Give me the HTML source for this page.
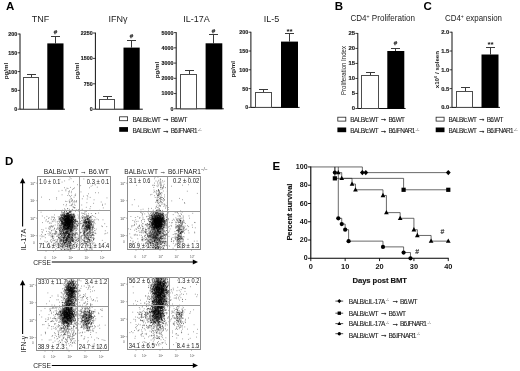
<!DOCTYPE html>
<html lang="en"><head><meta charset="utf-8"><title>Figure</title>
<style>html,body{margin:0;padding:0;background:#fff}svg{display:block;will-change:transform;filter:grayscale(1)}</style></head>
<body>
<svg width="520" height="371" viewBox="0 0 520 371" font-family='"Liberation Sans", Arial, Helvetica, sans-serif' fill="#1c1c1c">
<rect width="520" height="371" fill="#fff"/>
<text x="6.00" y="9.90" font-size="11.5" font-weight="bold" fill="#000">A</text>
<text x="334.80" y="9.80" font-size="11.5" font-weight="bold" fill="#000">B</text>
<text x="423.40" y="9.80" font-size="11.5" font-weight="bold" fill="#000">C</text>
<text x="5.00" y="165.20" font-size="11.5" font-weight="bold" fill="#000">D</text>
<text x="272.60" y="169.80" font-size="11.5" font-weight="bold" fill="#000">E</text>
<path d="M20.00 33.60V109.20H65.00" stroke="#111" stroke-width="1" fill="none"/>
<path d="M17.60 109.20L20.00 109.20" stroke="#111" stroke-width="0.8" fill="none"/>
<text x="17.20" y="111.10" font-size="5.3" text-anchor="end" font-weight="bold" stroke="#1c1c1c" stroke-width="0.15">0</text>
<path d="M17.60 90.40L20.00 90.40" stroke="#111" stroke-width="0.8" fill="none"/>
<text x="17.20" y="92.30" font-size="5.3" text-anchor="end" font-weight="bold" stroke="#1c1c1c" stroke-width="0.15">50</text>
<path d="M17.60 71.60L20.00 71.60" stroke="#111" stroke-width="0.8" fill="none"/>
<text x="17.20" y="73.50" font-size="5.3" text-anchor="end" font-weight="bold" stroke="#1c1c1c" stroke-width="0.15">100</text>
<path d="M17.60 52.80L20.00 52.80" stroke="#111" stroke-width="0.8" fill="none"/>
<text x="17.20" y="54.70" font-size="5.3" text-anchor="end" font-weight="bold" stroke="#1c1c1c" stroke-width="0.15">150</text>
<path d="M17.60 34.00L20.00 34.00" stroke="#111" stroke-width="0.8" fill="none"/>
<text x="17.20" y="35.90" font-size="5.3" text-anchor="end" font-weight="bold" stroke="#1c1c1c" stroke-width="0.15">200</text>
<text x="40.60" y="22.00" font-size="9" text-anchor="middle" fill="#222">TNF</text>
<text x="7.60" y="71.00" font-size="6.2" text-anchor="middle" font-weight="bold" transform="rotate(-90 7.60 71.00)">pg/ml</text>
<path d="M31.50 77.00V74.50M27.00 74.50H36.00" stroke="#3a3a3a" stroke-width="1" fill="none"/>
<rect x="23.50" y="77.50" width="15.00" height="31.70" fill="#fff" stroke="#4d4d4d" stroke-width="1"/>
<path d="M55.50 43.40V36.50M51.00 36.50H60.00" stroke="#3a3a3a" stroke-width="1" fill="none"/>
<rect x="47.30" y="43.40" width="16.20" height="66.20" fill="#000"/>
<text x="55.50" y="33.70" font-size="6.2" text-anchor="middle" fill="#333" stroke="#333" stroke-width="0.25">#</text>
<path d="M95.40 32.60V109.20H142.80" stroke="#111" stroke-width="1" fill="none"/>
<path d="M93.00 109.20L95.40 109.20" stroke="#111" stroke-width="0.8" fill="none"/>
<text x="92.60" y="111.10" font-size="5.3" text-anchor="end" font-weight="bold" stroke="#1c1c1c" stroke-width="0.15">0</text>
<path d="M93.00 83.80L95.40 83.80" stroke="#111" stroke-width="0.8" fill="none"/>
<text x="92.60" y="85.70" font-size="5.3" text-anchor="end" font-weight="bold" stroke="#1c1c1c" stroke-width="0.15">750</text>
<path d="M93.00 58.40L95.40 58.40" stroke="#111" stroke-width="0.8" fill="none"/>
<text x="92.60" y="60.30" font-size="5.3" text-anchor="end" font-weight="bold" stroke="#1c1c1c" stroke-width="0.15">1500</text>
<path d="M93.00 33.00L95.40 33.00" stroke="#111" stroke-width="0.8" fill="none"/>
<text x="92.60" y="34.90" font-size="5.3" text-anchor="end" font-weight="bold" stroke="#1c1c1c" stroke-width="0.15">2250</text>
<text x="117.90" y="22.00" font-size="9" text-anchor="middle" fill="#222">IFN&#947;</text>
<text x="79.20" y="71.00" font-size="6.2" text-anchor="middle" font-weight="bold" transform="rotate(-90 79.20 71.00)">pg/ml</text>
<path d="M107.50 99.30V96.50M103.00 96.50H112.00" stroke="#3a3a3a" stroke-width="1" fill="none"/>
<rect x="99.50" y="99.50" width="15.00" height="9.70" fill="#fff" stroke="#4d4d4d" stroke-width="1"/>
<path d="M131.50 47.60V40.50M127.00 40.50H136.00" stroke="#3a3a3a" stroke-width="1" fill="none"/>
<rect x="123.50" y="47.60" width="16.20" height="62.00" fill="#000"/>
<text x="131.50" y="37.70" font-size="6.2" text-anchor="middle" fill="#333" stroke="#333" stroke-width="0.25">#</text>
<path d="M176.20 32.20V108.80H223.80" stroke="#111" stroke-width="1" fill="none"/>
<path d="M173.80 108.80L176.20 108.80" stroke="#111" stroke-width="0.8" fill="none"/>
<text x="173.40" y="110.70" font-size="5.3" text-anchor="end" font-weight="bold" stroke="#1c1c1c" stroke-width="0.15">0</text>
<path d="M173.80 93.56L176.20 93.56" stroke="#111" stroke-width="0.8" fill="none"/>
<text x="173.40" y="95.46" font-size="5.3" text-anchor="end" font-weight="bold" stroke="#1c1c1c" stroke-width="0.15">1000</text>
<path d="M173.80 78.32L176.20 78.32" stroke="#111" stroke-width="0.8" fill="none"/>
<text x="173.40" y="80.22" font-size="5.3" text-anchor="end" font-weight="bold" stroke="#1c1c1c" stroke-width="0.15">2000</text>
<path d="M173.80 63.08L176.20 63.08" stroke="#111" stroke-width="0.8" fill="none"/>
<text x="173.40" y="64.98" font-size="5.3" text-anchor="end" font-weight="bold" stroke="#1c1c1c" stroke-width="0.15">3000</text>
<path d="M173.80 47.84L176.20 47.84" stroke="#111" stroke-width="0.8" fill="none"/>
<text x="173.40" y="49.74" font-size="5.3" text-anchor="end" font-weight="bold" stroke="#1c1c1c" stroke-width="0.15">4000</text>
<path d="M173.80 32.60L176.20 32.60" stroke="#111" stroke-width="0.8" fill="none"/>
<text x="173.40" y="34.50" font-size="5.3" text-anchor="end" font-weight="bold" stroke="#1c1c1c" stroke-width="0.15">5000</text>
<text x="196.50" y="22.00" font-size="9" text-anchor="middle" fill="#222">IL-17A</text>
<text x="159.20" y="70.00" font-size="6.2" text-anchor="middle" font-weight="bold" transform="rotate(-90 159.20 70.00)">pg/ml</text>
<path d="M189.50 74.00V70.50M185.00 70.50H194.00" stroke="#3a3a3a" stroke-width="1" fill="none"/>
<rect x="180.50" y="74.50" width="16.00" height="34.30" fill="#fff" stroke="#4d4d4d" stroke-width="1"/>
<path d="M213.50 43.30V34.50M209.00 34.50H218.00" stroke="#3a3a3a" stroke-width="1" fill="none"/>
<rect x="205.60" y="43.30" width="16.70" height="65.90" fill="#000"/>
<text x="213.50" y="33.10" font-size="6.2" text-anchor="middle" fill="#333" stroke="#333" stroke-width="0.25">#</text>
<path d="M250.90 31.80V107.40H299.60" stroke="#111" stroke-width="1" fill="none"/>
<path d="M248.50 107.40L250.90 107.40" stroke="#111" stroke-width="0.8" fill="none"/>
<text x="248.10" y="109.30" font-size="5.3" text-anchor="end" font-weight="bold" stroke="#1c1c1c" stroke-width="0.15">0</text>
<path d="M248.50 88.60L250.90 88.60" stroke="#111" stroke-width="0.8" fill="none"/>
<text x="248.10" y="90.50" font-size="5.3" text-anchor="end" font-weight="bold" stroke="#1c1c1c" stroke-width="0.15">50</text>
<path d="M248.50 69.80L250.90 69.80" stroke="#111" stroke-width="0.8" fill="none"/>
<text x="248.10" y="71.70" font-size="5.3" text-anchor="end" font-weight="bold" stroke="#1c1c1c" stroke-width="0.15">100</text>
<path d="M248.50 51.00L250.90 51.00" stroke="#111" stroke-width="0.8" fill="none"/>
<text x="248.10" y="52.90" font-size="5.3" text-anchor="end" font-weight="bold" stroke="#1c1c1c" stroke-width="0.15">150</text>
<path d="M248.50 32.20L250.90 32.20" stroke="#111" stroke-width="0.8" fill="none"/>
<text x="248.10" y="34.10" font-size="5.3" text-anchor="end" font-weight="bold" stroke="#1c1c1c" stroke-width="0.15">200</text>
<text x="271.50" y="22.40" font-size="9" text-anchor="middle" fill="#222">IL-5</text>
<text x="234.60" y="69.30" font-size="6.2" text-anchor="middle" font-weight="bold" transform="rotate(-90 234.60 69.30)">pg/ml</text>
<path d="M263.50 92.00V89.50M259.00 89.50H268.00" stroke="#3a3a3a" stroke-width="1" fill="none"/>
<rect x="255.50" y="92.50" width="16.00" height="14.90" fill="#fff" stroke="#4d4d4d" stroke-width="1"/>
<path d="M289.50 41.60V33.50M285.00 33.50H294.00" stroke="#3a3a3a" stroke-width="1" fill="none"/>
<rect x="281.00" y="41.60" width="17.00" height="66.20" fill="#000"/>
<text x="289.50" y="33.50" font-size="8" text-anchor="middle" font-weight="bold" fill="#111">**</text>
<rect x="119.60" y="116.80" width="8.0" height="3.9" fill="#fff" stroke="#222" stroke-width="0.8"/>
<rect x="119.20" y="127.10" width="8.8" height="4.7" fill="#000"/>
<text x="132.60" y="121.60" font-size="6.4" textLength="28.40" lengthAdjust="spacing" fill="#1e1e1e" stroke="#1e1e1e" stroke-width="0.12">BALB/c.WT</text>
<text x="165.90" y="121.00" font-size="7.6" fill="#1e1e1e" stroke="#1e1e1e" stroke-width="0.25" text-anchor="middle">&#8594;</text>
<text x="170.70" y="121.60" font-size="6.4" textLength="16.60" lengthAdjust="spacing" fill="#1e1e1e" stroke="#1e1e1e" stroke-width="0.12">B6.WT</text>
<text x="132.60" y="133.30" font-size="6.4" textLength="28.40" lengthAdjust="spacing" fill="#1e1e1e" stroke="#1e1e1e" stroke-width="0.12">BALB/c.WT</text>
<text x="165.90" y="132.70" font-size="7.6" fill="#1e1e1e" stroke="#1e1e1e" stroke-width="0.25" text-anchor="middle">&#8594;</text>
<text x="170.70" y="133.30" font-size="6.4" textLength="26.80" lengthAdjust="spacing" fill="#1e1e1e" stroke="#1e1e1e" stroke-width="0.12">B6.IFNAR1</text>
<text x="197.80" y="130.80" font-size="4.2" fill="#555">-/-</text>
<path d="M357.80 33.00V108.50H405.60" stroke="#111" stroke-width="1" fill="none"/>
<path d="M355.40 108.50L357.80 108.50" stroke="#111" stroke-width="0.8" fill="none"/>
<text x="355.00" y="110.40" font-size="5.9" text-anchor="end" font-weight="bold" stroke="#1c1c1c" stroke-width="0.15">0</text>
<path d="M355.40 93.48L357.80 93.48" stroke="#111" stroke-width="0.8" fill="none"/>
<text x="355.00" y="95.38" font-size="5.9" text-anchor="end" font-weight="bold" stroke="#1c1c1c" stroke-width="0.15">5</text>
<path d="M355.40 78.46L357.80 78.46" stroke="#111" stroke-width="0.8" fill="none"/>
<text x="355.00" y="80.36" font-size="5.9" text-anchor="end" font-weight="bold" stroke="#1c1c1c" stroke-width="0.15">10</text>
<path d="M355.40 63.44L357.80 63.44" stroke="#111" stroke-width="0.8" fill="none"/>
<text x="355.00" y="65.34" font-size="5.9" text-anchor="end" font-weight="bold" stroke="#1c1c1c" stroke-width="0.15">15</text>
<path d="M355.40 48.42L357.80 48.42" stroke="#111" stroke-width="0.8" fill="none"/>
<text x="355.00" y="50.32" font-size="5.9" text-anchor="end" font-weight="bold" stroke="#1c1c1c" stroke-width="0.15">20</text>
<path d="M355.40 33.40L357.80 33.40" stroke="#111" stroke-width="0.8" fill="none"/>
<text x="355.00" y="35.30" font-size="5.9" text-anchor="end" font-weight="bold" stroke="#1c1c1c" stroke-width="0.15">25</text>
<text x="382.70" y="21.00" font-size="8.7" text-anchor="middle" textLength="64.50" lengthAdjust="spacingAndGlyphs" fill="#222">CD4<tspan font-size="5.5" dy="-2.6">+</tspan><tspan dy="2.6"> Proliferation</tspan></text>
<text x="346.00" y="70.50" font-size="6.4" text-anchor="middle" textLength="49.00" lengthAdjust="spacingAndGlyphs" transform="rotate(-90 346.00 70.50)">Proliferation Index</text>
<path d="M370.50 75.00V72.50M366.00 72.50H375.00" stroke="#3a3a3a" stroke-width="1" fill="none"/>
<rect x="361.50" y="75.50" width="17.00" height="33.00" fill="#fff" stroke="#4d4d4d" stroke-width="1"/>
<path d="M395.50 51.00V48.50M391.00 48.50H400.00" stroke="#3a3a3a" stroke-width="1" fill="none"/>
<rect x="387.30" y="51.00" width="17.00" height="57.90" fill="#000"/>
<text x="395.50" y="44.50" font-size="6.2" text-anchor="middle" fill="#333" stroke="#333" stroke-width="0.25">#</text>
<rect x="337.80" y="117.20" width="8.0" height="3.9" fill="#fff" stroke="#222" stroke-width="0.8"/>
<rect x="337.40" y="127.50" width="8.8" height="4.7" fill="#000"/>
<text x="350.30" y="121.60" font-size="6.4" textLength="28.40" lengthAdjust="spacing" fill="#1e1e1e" stroke="#1e1e1e" stroke-width="0.12">BALB/c.WT</text>
<text x="383.60" y="121.00" font-size="7.6" fill="#1e1e1e" stroke="#1e1e1e" stroke-width="0.25" text-anchor="middle">&#8594;</text>
<text x="388.40" y="121.60" font-size="6.4" textLength="16.60" lengthAdjust="spacing" fill="#1e1e1e" stroke="#1e1e1e" stroke-width="0.12">B6.WT</text>
<text x="350.30" y="133.30" font-size="6.4" textLength="28.40" lengthAdjust="spacing" fill="#1e1e1e" stroke="#1e1e1e" stroke-width="0.12">BALB/c.WT</text>
<text x="383.60" y="132.70" font-size="7.6" fill="#1e1e1e" stroke="#1e1e1e" stroke-width="0.25" text-anchor="middle">&#8594;</text>
<text x="388.40" y="133.30" font-size="6.4" textLength="26.80" lengthAdjust="spacing" fill="#1e1e1e" stroke="#1e1e1e" stroke-width="0.12">B6.IFNAR1</text>
<text x="415.50" y="130.80" font-size="4.2" fill="#555">-/-</text>
<path d="M452.00 31.80V107.40H500.00" stroke="#111" stroke-width="1" fill="none"/>
<path d="M449.60 107.40L452.00 107.40" stroke="#111" stroke-width="0.8" fill="none"/>
<text x="449.20" y="109.30" font-size="5.8" text-anchor="end" font-weight="bold" stroke="#1c1c1c" stroke-width="0.15">0.0</text>
<path d="M449.60 88.60L452.00 88.60" stroke="#111" stroke-width="0.8" fill="none"/>
<text x="449.20" y="90.50" font-size="5.8" text-anchor="end" font-weight="bold" stroke="#1c1c1c" stroke-width="0.15">0.5</text>
<path d="M449.60 69.80L452.00 69.80" stroke="#111" stroke-width="0.8" fill="none"/>
<text x="449.20" y="71.70" font-size="5.8" text-anchor="end" font-weight="bold" stroke="#1c1c1c" stroke-width="0.15">1.0</text>
<path d="M449.60 51.00L452.00 51.00" stroke="#111" stroke-width="0.8" fill="none"/>
<text x="449.20" y="52.90" font-size="5.8" text-anchor="end" font-weight="bold" stroke="#1c1c1c" stroke-width="0.15">1.5</text>
<path d="M449.60 32.20L452.00 32.20" stroke="#111" stroke-width="0.8" fill="none"/>
<text x="449.20" y="34.10" font-size="5.8" text-anchor="end" font-weight="bold" stroke="#1c1c1c" stroke-width="0.15">2.0</text>
<text x="473.50" y="21.00" font-size="8.7" text-anchor="middle" textLength="57.00" lengthAdjust="spacingAndGlyphs" fill="#222">CD4<tspan font-size="5.5" dy="-2.6">+</tspan><tspan dy="2.6"> expansion</tspan></text>
<text x="439.30" y="69.60" font-size="6.2" text-anchor="middle" font-weight="bold" textLength="37.40" lengthAdjust="spacingAndGlyphs" transform="rotate(-90 439.30 69.60)">x10<tspan font-size="4" dy="-2.4">6</tspan><tspan dy="2.4"> / spleen</tspan></text>
<path d="M465.50 91.00V87.50M461.00 87.50H470.00" stroke="#3a3a3a" stroke-width="1" fill="none"/>
<rect x="456.50" y="91.50" width="16.00" height="15.90" fill="#fff" stroke="#4d4d4d" stroke-width="1"/>
<path d="M490.50 54.50V47.50M486.00 47.50H495.00" stroke="#3a3a3a" stroke-width="1" fill="none"/>
<rect x="481.50" y="54.50" width="17.00" height="53.30" fill="#000"/>
<text x="490.50" y="47.10" font-size="8" text-anchor="middle" font-weight="bold" fill="#111">**</text>
<rect x="436.10" y="117.20" width="8.0" height="3.9" fill="#fff" stroke="#222" stroke-width="0.8"/>
<rect x="435.70" y="127.50" width="8.8" height="4.7" fill="#000"/>
<text x="448.60" y="121.60" font-size="6.4" textLength="28.40" lengthAdjust="spacing" fill="#1e1e1e" stroke="#1e1e1e" stroke-width="0.12">BALB/c.WT</text>
<text x="481.90" y="121.00" font-size="7.6" fill="#1e1e1e" stroke="#1e1e1e" stroke-width="0.25" text-anchor="middle">&#8594;</text>
<text x="486.70" y="121.60" font-size="6.4" textLength="16.60" lengthAdjust="spacing" fill="#1e1e1e" stroke="#1e1e1e" stroke-width="0.12">B6.WT</text>
<text x="448.60" y="133.30" font-size="6.4" textLength="28.40" lengthAdjust="spacing" fill="#1e1e1e" stroke="#1e1e1e" stroke-width="0.12">BALB/c.WT</text>
<text x="481.90" y="132.70" font-size="7.6" fill="#1e1e1e" stroke="#1e1e1e" stroke-width="0.25" text-anchor="middle">&#8594;</text>
<text x="486.70" y="133.30" font-size="6.4" textLength="26.80" lengthAdjust="spacing" fill="#1e1e1e" stroke="#1e1e1e" stroke-width="0.12">B6.IFNAR1</text>
<text x="513.80" y="130.80" font-size="4.2" fill="#555">-/-</text>
<defs><radialGradient id="bg"><stop offset="0" stop-color="#000" stop-opacity="0.42"/><stop offset="0.5" stop-color="#000" stop-opacity="0.22"/><stop offset="1" stop-color="#000" stop-opacity="0"/></radialGradient></defs>
<clipPath id="c37_176"><rect x="37.50" y="176.50" width="73.00" height="74.00"/></clipPath>
<g clip-path="url(#c37_176)">
<ellipse cx="68.3" cy="222" rx="9" ry="11" fill="url(#bg)" opacity="1.0"/>
<ellipse cx="67" cy="238" rx="9" ry="13" fill="url(#bg)" opacity="0.45"/>
<ellipse cx="87.6" cy="224" rx="6" ry="8" fill="url(#bg)" opacity="0.45"/>
<path d="M68.0 215.2h.75M69.2 222.5h.75M66.9 219.1h.75M64.5 219.8h.75M66.2 213.5h.75M64.1 217.4h.75M68.2 221.4h.75M73.2 225.6h.75M66.1 226.1h.75M65.6 221.1h.75M69.9 220.6h.75M69.4 217.7h.75M68.4 223.4h.75M64.4 220.4h.75M67.9 224.3h.75M70.7 229.6h.75M62.8 221.4h.75M66.2 214.6h.75M60.6 217.5h.75M63.0 214.8h.75M60.8 216.0h.75M67.1 227.5h.75M63.1 222.5h.75M69.1 214.5h.75M68.6 224.5h.75M67.3 227.3h.75M58.2 219.8h.75M65.9 218.4h.75M67.8 219.9h.75M68.4 222.8h.75M62.0 224.4h.75M66.1 226.9h.75M64.2 227.1h.75M64.8 227.0h.75M72.1 227.8h.75M64.9 224.5h.75M67.9 214.5h.75M71.4 220.9h.75M65.7 222.9h.75M67.6 219.7h.75M68.4 225.7h.75M68.2 219.8h.75M63.2 217.2h.75M68.3 228.1h.75M73.3 224.6h.75M62.0 222.5h.75M71.4 225.8h.75M68.5 226.4h.75M65.5 223.1h.75M75.8 210.2h.75M71.0 218.4h.75M63.3 219.4h.75M68.3 217.0h.75M70.2 222.4h.75M67.3 227.0h.75M70.7 219.3h.75M67.7 216.3h.75M70.6 230.8h.75M73.6 219.4h.75M65.4 215.8h.75M68.8 222.6h.75M66.2 223.5h.75M68.5 218.3h.75M63.4 225.1h.75M65.7 219.3h.75M67.2 217.3h.75M71.5 222.3h.75M72.5 225.0h.75M62.8 218.6h.75M64.9 223.0h.75M70.5 221.1h.75M60.2 234.5h.75M66.2 218.2h.75M67.6 227.9h.75M72.9 221.3h.75M70.7 220.9h.75M66.7 224.8h.75M66.6 225.6h.75M67.0 227.3h.75M73.9 223.0h.75M66.3 218.7h.75M66.8 219.0h.75M69.4 223.8h.75M67.5 224.2h.75M67.2 227.9h.75M63.7 223.4h.75M68.0 226.4h.75M66.3 228.5h.75M72.5 222.3h.75M70.5 214.7h.75M67.9 216.1h.75M70.6 214.9h.75M66.7 228.8h.75M72.1 217.6h.75M68.0 227.2h.75M70.3 224.2h.75M63.0 229.4h.75M69.4 226.1h.75M61.4 221.0h.75M60.1 220.6h.75M66.8 221.9h.75M64.5 222.3h.75M68.6 219.1h.75M76.8 221.3h.75M64.8 228.9h.75M65.6 213.7h.75M68.8 222.7h.75M69.9 217.3h.75M67.3 222.4h.75M67.2 225.4h.75M70.7 221.2h.75M70.0 225.1h.75M64.0 214.2h.75M67.7 226.6h.75M68.1 218.7h.75M63.9 224.4h.75M69.0 222.3h.75M64.7 209.6h.75M71.8 218.0h.75M68.8 222.5h.75M68.3 228.6h.75M65.7 222.8h.75M67.5 222.7h.75M60.2 215.0h.75M63.6 228.1h.75M69.4 229.8h.75M59.7 221.6h.75M71.3 220.5h.75M61.2 214.1h.75M71.0 225.6h.75M64.7 233.9h.75M71.0 224.8h.75M68.5 227.3h.75M62.0 224.0h.75M72.9 217.0h.75M73.6 227.6h.75M67.7 215.8h.75M66.9 220.5h.75M67.4 222.8h.75M64.2 225.6h.75M72.3 223.4h.75M65.9 223.3h.75M67.8 218.0h.75M64.9 215.6h.75M65.6 221.8h.75M63.0 218.2h.75M72.9 215.5h.75M67.4 215.7h.75M71.8 219.2h.75M68.1 213.0h.75M65.3 215.3h.75M66.7 214.0h.75M65.8 222.3h.75M68.0 223.4h.75M66.5 230.7h.75M66.8 214.6h.75M62.6 218.4h.75M64.9 225.7h.75M74.5 220.5h.75M65.4 220.0h.75M63.9 229.4h.75M69.3 219.9h.75M73.5 216.2h.75M62.3 215.4h.75M67.2 223.0h.75M65.5 222.9h.75M61.1 215.2h.75M70.9 217.0h.75M67.9 224.0h.75M68.3 224.2h.75M65.1 218.5h.75M69.8 224.4h.75M65.9 224.1h.75M67.4 213.3h.75M63.7 220.1h.75M63.3 223.4h.75M73.2 218.9h.75M66.0 211.7h.75M69.1 220.2h.75M67.9 225.0h.75M66.3 228.8h.75M66.0 211.4h.75M70.5 233.5h.75M66.8 216.3h.75M67.4 225.9h.75M68.1 227.2h.75M72.6 226.0h.75M70.7 222.2h.75M69.5 216.2h.75M65.8 224.4h.75M62.6 218.2h.75M71.7 209.9h.75M71.8 234.5h.75M67.5 224.8h.75M70.1 229.9h.75M71.0 217.3h.75M71.2 228.3h.75M71.6 228.8h.75M66.2 228.7h.75M73.9 221.4h.75M63.1 216.0h.75M71.4 220.7h.75M69.9 211.4h.75M71.4 213.7h.75M75.3 221.9h.75M73.8 216.9h.75M63.5 220.7h.75M61.4 221.0h.75M71.2 230.4h.75M64.0 227.5h.75M68.0 221.3h.75M71.3 227.1h.75M61.6 217.9h.75M59.8 220.0h.75M69.0 225.7h.75M68.2 215.8h.75M67.0 220.2h.75M68.2 215.4h.75M64.6 222.0h.75M62.1 229.0h.75M67.4 218.0h.75M64.2 222.5h.75M61.6 217.4h.75M70.0 216.2h.75M67.8 215.8h.75M69.6 228.2h.75M64.1 232.4h.75M65.4 223.7h.75M64.1 218.2h.75M64.5 224.7h.75M68.8 220.0h.75M64.9 225.2h.75M69.4 222.8h.75M69.3 222.8h.75M75.9 224.3h.75M62.6 218.8h.75M71.5 219.6h.75M67.7 213.6h.75M67.9 219.5h.75M62.3 215.0h.75M66.2 220.8h.75M70.9 217.1h.75M67.7 222.0h.75M68.3 223.6h.75M66.9 215.0h.75M72.5 217.8h.75M67.9 217.2h.75M59.4 224.9h.75M65.3 229.3h.75M60.3 225.4h.75M55.3 219.9h.75M65.9 228.2h.75M73.2 214.5h.75M68.2 228.4h.75M63.4 218.5h.75M64.3 208.7h.75M72.4 233.7h.75M68.6 228.8h.75M68.2 216.8h.75M67.8 222.3h.75M68.1 220.5h.75M71.1 222.0h.75M70.2 214.7h.75M68.8 218.4h.75M63.9 223.7h.75M70.0 222.5h.75M65.3 227.0h.75M72.3 221.9h.75M63.0 232.3h.75M67.5 218.2h.75M68.0 222.7h.75M62.8 212.7h.75M74.7 215.7h.75M73.7 227.6h.75M66.2 217.2h.75M71.0 223.9h.75M69.5 221.2h.75M57.8 216.7h.75M69.0 219.9h.75M67.8 219.1h.75M68.3 219.3h.75M63.8 225.0h.75M66.9 224.5h.75M67.3 218.8h.75M72.6 217.3h.75M69.3 222.8h.75M68.0 221.0h.75M74.0 226.2h.75M65.8 233.7h.75M66.5 225.4h.75M60.9 221.3h.75M74.1 220.7h.75M71.8 217.6h.75M71.6 217.3h.75M70.6 216.9h.75M68.4 219.7h.75M68.8 219.5h.75M67.0 224.9h.75M67.2 219.7h.75M68.2 220.6h.75M73.9 215.9h.75M70.2 229.1h.75M67.8 223.8h.75M65.7 229.7h.75M65.5 225.2h.75M74.3 228.4h.75M70.0 220.4h.75M68.3 224.8h.75M66.6 233.9h.75M63.7 215.9h.75M67.7 226.9h.75M71.4 229.3h.75M66.5 223.4h.75M67.1 225.0h.75M67.1 227.4h.75M68.4 218.4h.75M61.8 223.4h.75M67.1 217.4h.75M64.7 218.3h.75M71.4 218.6h.75M65.0 220.8h.75M70.3 222.2h.75M73.9 223.6h.75M66.8 214.8h.75M65.7 230.8h.75M68.7 226.9h.75M68.0 224.9h.75M64.1 219.8h.75M69.8 221.1h.75M75.9 224.1h.75M67.0 223.4h.75M67.2 213.6h.75M63.9 225.0h.75M69.2 235.2h.75M63.1 212.8h.75M63.7 226.2h.75M73.0 223.2h.75M64.5 221.0h.75M72.2 228.0h.75M73.9 215.9h.75M69.0 222.3h.75M70.2 228.4h.75M75.6 220.6h.75M67.2 219.5h.75M65.7 222.0h.75M62.7 219.4h.75M68.2 228.8h.75M73.8 217.2h.75M71.7 225.6h.75M64.3 215.6h.75M64.7 224.7h.75M66.0 221.0h.75M69.1 209.3h.75M67.2 221.5h.75M68.8 216.5h.75M69.2 219.4h.75M66.8 228.8h.75M67.8 216.2h.75M68.8 216.5h.75M67.7 228.3h.75M70.0 222.0h.75M75.3 228.8h.75M70.3 223.0h.75M68.2 217.3h.75M61.4 221.2h.75M69.5 227.3h.75M60.4 226.0h.75M62.5 221.5h.75M71.3 221.7h.75M70.8 221.0h.75M67.4 218.8h.75M61.3 230.6h.75M66.6 221.5h.75M65.4 216.2h.75M70.5 219.2h.75M76.8 224.9h.75M68.8 224.5h.75M65.0 220.9h.75M63.4 218.3h.75M67.8 221.6h.75M67.3 213.6h.75M63.5 215.3h.75M68.5 225.3h.75M63.5 219.2h.75M72.3 223.3h.75M72.1 227.3h.75M72.2 224.6h.75M66.2 221.6h.75M70.0 231.6h.75M67.5 224.7h.75M66.5 219.8h.75M66.7 225.0h.75M62.9 223.4h.75M62.4 217.5h.75M71.1 221.8h.75M67.3 220.7h.75M68.8 212.2h.75M71.9 220.7h.75M61.2 220.2h.75M64.9 219.4h.75M68.7 213.7h.75M69.5 219.8h.75M66.5 221.3h.75M72.0 222.0h.75M68.8 216.1h.75M63.3 224.5h.75M64.4 215.8h.75M71.1 220.4h.75M69.8 227.7h.75M60.6 218.2h.75M73.3 219.1h.75M70.3 226.6h.75M73.2 219.7h.75M66.5 220.1h.75M66.8 222.5h.75M63.6 226.5h.75M77.9 211.1h.75M67.3 217.6h.75M74.2 216.7h.75M65.5 216.4h.75M68.6 217.5h.75M61.5 217.5h.75M66.5 222.9h.75M71.8 217.3h.75M63.1 222.1h.75M72.2 223.4h.75M69.3 218.1h.75M63.9 222.1h.75M66.0 229.2h.75M66.2 223.0h.75M67.8 218.5h.75M65.9 221.2h.75M64.8 217.2h.75M66.8 222.8h.75M64.0 225.6h.75M63.0 217.6h.75M67.8 220.5h.75M71.4 226.7h.75M62.0 219.2h.75M68.0 222.4h.75M65.5 216.7h.75M64.2 217.7h.75M71.3 219.1h.75M66.0 231.5h.75M73.8 219.6h.75M65.0 219.1h.75M69.5 218.9h.75M67.1 220.7h.75M65.1 224.5h.75M70.3 222.4h.75M67.4 231.0h.75M70.4 222.5h.75M67.8 228.2h.75M63.8 222.8h.75M67.6 224.3h.75M68.2 214.9h.75M71.7 220.9h.75M64.5 221.2h.75M67.8 220.4h.75M61.3 211.6h.75M70.5 225.6h.75M63.8 219.7h.75M61.0 219.5h.75M67.8 220.3h.75M72.3 220.5h.75M62.1 223.4h.75M63.8 215.7h.75M65.1 217.2h.75M63.6 222.8h.75M69.5 222.2h.75M64.9 219.8h.75M65.2 218.9h.75M70.3 217.7h.75M65.1 221.2h.75M69.7 226.9h.75M64.2 216.6h.75M63.3 228.5h.75M60.8 225.4h.75M75.3 219.4h.75M66.8 225.1h.75M69.0 214.8h.75M67.9 213.5h.75M68.6 215.6h.75M68.2 219.6h.75M75.4 220.0h.75M63.9 219.1h.75M61.9 222.0h.75M64.1 211.7h.75M62.8 223.8h.75M70.9 215.0h.75M71.2 218.5h.75M64.3 219.6h.75M62.6 216.2h.75M66.6 215.2h.75M73.4 216.9h.75M57.0 221.4h.75M70.1 224.2h.75M63.8 224.1h.75M72.1 216.9h.75M63.8 217.9h.75M66.9 217.3h.75M62.1 223.6h.75M64.2 212.1h.75M73.4 227.2h.75M71.2 219.3h.75M66.4 217.9h.75M64.6 223.1h.75M60.6 226.3h.75M66.5 223.1h.75M67.9 226.3h.75M67.7 222.1h.75M67.6 227.2h.75M63.6 227.2h.75M67.7 221.0h.75M67.8 228.1h.75M73.0 222.3h.75M75.3 221.9h.75M67.5 217.3h.75M65.0 220.2h.75M67.7 225.1h.75M65.6 215.5h.75M65.1 224.5h.75M67.8 223.1h.75M63.9 222.8h.75M70.4 211.4h.75M67.6 221.0h.75M69.0 224.5h.75M67.3 218.0h.75M65.2 221.9h.75M64.3 210.6h.75M67.1 224.6h.75M65.9 218.5h.75M68.9 225.5h.75M68.0 213.0h.75M62.7 224.7h.75M68.3 220.4h.75M62.8 225.2h.75M65.6 217.2h.75M66.9 218.7h.75M59.9 231.8h.75M68.4 217.7h.75M68.6 218.3h.75M67.4 220.2h.75M66.3 216.8h.75M66.5 227.0h.75M64.2 229.4h.75M66.9 218.3h.75M65.8 213.6h.75M68.4 226.9h.75M63.3 226.6h.75M68.9 225.3h.75M68.6 226.8h.75M67.4 217.5h.75M66.3 220.7h.75M70.2 215.1h.75M61.5 215.0h.75M69.8 226.0h.75M68.9 218.4h.75M69.1 232.0h.75M69.5 221.8h.75M65.5 218.6h.75M67.0 225.2h.75M70.5 229.8h.75M69.7 223.7h.75M68.8 215.9h.75M62.1 223.2h.75M70.1 227.8h.75M72.6 219.2h.75M71.9 217.9h.75M68.9 226.2h.75M61.9 222.1h.75M71.7 216.4h.75M67.4 219.8h.75M58.1 218.0h.75M69.5 222.9h.75M62.2 222.0h.75M62.9 226.8h.75M65.5 224.8h.75M73.0 214.3h.75M66.6 223.4h.75M69.1 225.6h.75M74.8 223.6h.75M74.2 226.2h.75M67.6 219.0h.75M67.1 217.1h.75M63.1 225.8h.75M65.3 216.6h.75M69.7 211.6h.75M69.5 226.2h.75M68.4 218.2h.75M71.9 220.1h.75M65.0 215.1h.75M67.8 215.4h.75M70.9 216.2h.75M70.3 219.8h.75M72.2 223.2h.75M69.5 210.9h.75M66.8 225.0h.75M69.4 216.1h.75M64.1 216.6h.75M61.6 224.6h.75M70.3 221.2h.75M67.8 214.4h.75M69.2 230.0h.75M61.4 217.5h.75M66.6 222.6h.75M65.7 222.4h.75M64.6 228.0h.75M59.2 219.4h.75M66.7 226.1h.75M71.5 218.1h.75M69.5 226.7h.75M65.7 218.0h.75M67.9 219.8h.75M71.0 230.2h.75M57.2 223.0h.75M67.5 222.0h.75M70.1 231.8h.75M70.7 223.2h.75M74.6 217.7h.75M72.4 224.9h.75M69.2 216.1h.75M69.2 226.7h.75M71.1 227.0h.75M65.9 218.9h.75M67.8 218.6h.75M71.5 222.3h.75M75.6 221.6h.75M67.4 217.0h.75M67.8 224.1h.75M68.8 212.1h.75M73.2 219.5h.75M67.9 219.6h.75M73.7 220.2h.75M64.2 222.9h.75M67.3 215.9h.75M67.2 224.2h.75M71.1 220.7h.75M72.1 218.5h.75M62.1 215.2h.75M64.4 216.1h.75M69.3 223.2h.75M65.4 217.1h.75M62.1 221.8h.75M72.1 226.4h.75M69.9 226.3h.75M69.9 228.7h.75M66.1 220.1h.75M72.0 216.5h.75M67.1 226.2h.75M72.3 222.9h.75M64.4 226.7h.75M64.7 221.6h.75M68.8 227.0h.75M65.3 225.4h.75M70.6 224.8h.75M69.0 223.8h.75M64.4 223.3h.75M68.3 222.6h.75M66.6 222.5h.75M71.6 226.1h.75M65.5 219.1h.75M66.3 229.5h.75M72.7 221.0h.75M76.7 226.0h.75M75.8 221.1h.75M68.2 220.4h.75M68.9 230.8h.75M74.0 220.1h.75M67.5 215.6h.75M64.2 218.2h.75M68.5 220.0h.75M69.8 231.4h.75M64.8 222.5h.75M61.6 225.8h.75M62.4 216.9h.75M70.6 223.1h.75M65.0 224.6h.75M67.4 229.8h.75M68.8 218.3h.75M70.4 224.3h.75M66.7 222.9h.75M69.9 216.8h.75M64.5 221.4h.75M66.6 220.3h.75M64.0 210.8h.75M72.4 224.3h.75M67.9 224.0h.75M65.1 219.5h.75M66.6 215.3h.75M67.1 228.3h.75M70.7 222.7h.75M61.8 226.2h.75M64.0 228.0h.75M66.5 219.1h.75M77.9 225.2h.75M71.7 220.4h.75M67.6 221.2h.75M70.8 221.1h.75M76.0 221.5h.75M67.1 226.6h.75M66.6 222.1h.75M72.7 220.8h.75M69.9 220.2h.75M70.6 223.1h.75M66.0 217.4h.75M75.5 219.2h.75M74.7 221.3h.75M70.2 218.9h.75M70.7 221.0h.75M60.1 218.7h.75M70.5 230.7h.75M67.2 227.6h.75M69.7 223.6h.75M70.7 221.3h.75M66.7 231.6h.75M61.4 223.0h.75M69.4 221.1h.75M65.1 222.9h.75M66.7 222.9h.75M65.6 228.0h.75M66.7 221.4h.75M59.0 231.2h.75M72.7 217.4h.75M69.0 224.7h.75M72.3 216.9h.75M75.7 229.9h.75M68.1 220.0h.75M61.0 221.2h.75M64.5 225.8h.75M63.3 227.3h.75M66.0 216.4h.75M68.3 219.9h.75M60.2 215.1h.75M69.3 222.1h.75M62.1 221.0h.75M69.2 219.9h.75M67.6 218.4h.75M66.8 219.7h.75M67.7 218.1h.75M65.9 223.9h.75M65.6 228.5h.75M61.4 212.6h.75M67.9 221.0h.75M75.2 219.6h.75M75.7 223.8h.75M73.2 217.1h.75M70.8 220.8h.75M65.4 216.7h.75M73.6 224.7h.75M67.8 222.0h.75M67.7 220.8h.75M66.9 223.2h.75M68.4 220.4h.75M66.3 214.4h.75M67.7 224.2h.75M63.8 222.8h.75M66.5 220.8h.75M76.9 226.0h.75M67.7 227.1h.75M67.1 216.5h.75M70.1 217.9h.75M70.8 228.6h.75M63.7 228.0h.75M67.2 218.1h.75M71.6 216.1h.75M69.1 218.6h.75M68.5 219.2h.75M74.1 214.2h.75M65.4 221.6h.75M68.3 215.6h.75M66.0 215.9h.75M73.8 225.7h.75M60.4 218.4h.75M65.4 221.2h.75M65.9 224.4h.75M70.6 225.2h.75M70.4 219.9h.75M73.4 221.7h.75M61.9 217.7h.75M70.9 229.5h.75M66.9 224.5h.75M65.4 216.4h.75M70.1 221.5h.75M64.4 224.8h.75M59.9 223.7h.75M66.6 229.9h.75M62.2 227.8h.75M65.5 219.0h.75M69.4 221.1h.75M69.2 215.6h.75M74.2 222.6h.75M67.2 222.2h.75M62.0 233.9h.75M65.1 221.9h.75M64.4 211.9h.75M63.3 218.4h.75M69.7 222.0h.75M65.5 215.7h.75M60.3 217.5h.75M70.7 219.8h.75M67.6 223.1h.75M69.4 220.7h.75M68.4 217.4h.75M70.5 225.1h.75M68.1 219.0h.75M72.8 219.2h.75M69.7 215.2h.75M69.5 217.9h.75M69.6 224.5h.75M62.3 214.1h.75M67.4 221.2h.75M67.0 224.8h.75M68.8 219.8h.75M62.7 222.6h.75M74.4 216.4h.75M68.4 227.5h.75M63.3 226.6h.75M61.3 222.6h.75M66.9 213.4h.75M67.7 216.7h.75M65.2 226.0h.75M68.4 229.4h.75M65.5 222.9h.75M70.2 227.2h.75M65.2 218.7h.75M67.8 220.6h.75M71.8 221.5h.75M78.0 223.4h.75M64.1 214.5h.75M66.2 225.8h.75M64.7 227.6h.75M71.1 216.2h.75M63.5 215.3h.75M66.1 223.1h.75M67.9 218.5h.75M64.2 210.6h.75M64.3 225.2h.75M66.1 222.2h.75M59.8 219.3h.75M62.4 231.2h.75M66.4 222.1h.75M68.6 218.0h.75M67.3 222.0h.75M61.1 216.7h.75M66.2 218.0h.75M71.1 223.3h.75M70.2 219.0h.75M67.7 219.4h.75M64.5 229.2h.75M70.5 225.5h.75M65.7 225.2h.75M63.4 223.9h.75M64.9 223.7h.75M73.6 228.2h.75M68.9 221.4h.75M72.5 230.0h.75M66.1 217.1h.75M71.7 220.3h.75M65.7 215.2h.75M67.4 219.9h.75M77.7 223.9h.75M71.0 228.2h.75M66.0 218.4h.75M67.7 221.5h.75M69.3 219.8h.75M72.7 218.1h.75M66.1 216.0h.75M61.2 221.8h.75M66.9 213.5h.75M68.1 222.0h.75M68.4 221.6h.75M73.1 218.5h.75M69.2 216.8h.75M71.2 215.1h.75M63.7 230.1h.75M71.4 215.3h.75M76.2 228.7h.75M71.0 224.3h.75M69.0 219.8h.75M68.6 216.2h.75M75.0 226.3h.75M64.4 229.5h.75M67.6 217.2h.75M69.8 220.1h.75M70.9 226.3h.75M66.3 223.0h.75M69.2 230.7h.75M66.9 218.9h.75M68.5 224.0h.75M67.5 215.7h.75M63.5 231.1h.75M67.9 218.1h.75M71.4 211.3h.75M64.2 220.9h.75M67.1 220.9h.75M70.6 230.3h.75M63.8 219.9h.75M68.7 221.4h.75M63.9 224.2h.75M72.4 228.8h.75M77.0 221.2h.75M75.9 226.3h.75M67.1 223.9h.75M70.9 220.1h.75M68.5 221.9h.75M68.4 221.6h.75M74.0 217.3h.75M62.9 227.1h.75M72.1 215.1h.75M67.8 226.9h.75M73.5 225.9h.75M68.7 221.1h.75M65.4 218.0h.75M69.1 220.5h.75M70.9 223.7h.75M68.1 224.9h.75M69.9 222.8h.75M66.0 226.1h.75M59.7 218.9h.75M71.5 222.6h.75M70.7 214.3h.75M68.6 225.0h.75M68.3 222.2h.75M72.0 219.6h.75M66.2 226.8h.75M65.2 224.7h.75M67.3 208.5h.75M72.6 221.7h.75M62.6 214.8h.75M72.6 226.4h.75M65.5 232.9h.75M63.7 219.1h.75M72.9 221.8h.75M67.6 220.3h.75M62.9 223.1h.75M66.6 224.5h.75M71.6 227.4h.75M72.6 217.0h.75M66.3 228.7h.75M69.6 217.2h.75M70.8 222.8h.75M65.5 226.8h.75M69.4 224.8h.75M67.9 217.2h.75M65.9 218.3h.75M66.1 219.4h.75M68.3 221.3h.75M68.1 226.8h.75M65.8 215.6h.75M66.3 223.6h.75M72.3 224.3h.75M68.8 224.1h.75M71.5 223.6h.75M72.7 228.5h.75M70.3 223.7h.75M76.9 225.4h.75M64.8 224.1h.75M71.2 229.7h.75M66.8 212.8h.75M75.2 227.4h.75M74.6 220.3h.75M60.4 220.2h.75M64.2 217.0h.75M70.6 212.9h.75M71.1 219.7h.75M70.9 218.3h.75M67.7 223.8h.75M69.8 214.7h.75M70.5 228.1h.75M67.7 222.8h.75M72.0 220.4h.75M59.2 218.2h.75M70.5 217.9h.75M64.0 216.3h.75M71.7 219.0h.75M67.1 221.5h.75M64.5 220.7h.75M69.5 215.0h.75M64.4 220.3h.75M64.4 217.4h.75M61.9 222.2h.75M67.9 230.1h.75M69.9 224.4h.75M72.0 220.1h.75M67.4 214.0h.75M72.1 215.0h.75M68.1 213.7h.75M67.6 224.8h.75M70.2 218.0h.75M72.1 221.8h.75M66.7 218.6h.75M67.0 221.9h.75M67.4 227.9h.75M68.3 218.3h.75M64.5 219.9h.75M72.0 217.8h.75M66.4 225.5h.75M69.8 216.8h.75M64.8 216.3h.75M69.4 215.1h.75M69.5 215.0h.75M66.4 223.7h.75M75.9 233.3h.75M69.4 216.9h.75M74.9 225.9h.75M71.7 222.7h.75M65.4 216.4h.75M66.5 220.2h.75M69.7 220.4h.75M68.2 218.3h.75M68.2 230.4h.75M66.9 212.7h.75M60.9 223.3h.75M67.1 223.0h.75M59.3 218.8h.75M69.5 222.2h.75M65.2 225.5h.75M65.2 222.2h.75M67.1 223.4h.75M69.1 224.7h.75M62.4 212.2h.75M61.2 228.3h.75M63.8 232.0h.75M60.0 226.0h.75M64.2 226.2h.75M74.2 215.0h.75M63.9 221.0h.75M70.5 217.8h.75M62.7 218.8h.75M69.2 225.9h.75M66.8 217.8h.75M67.8 220.9h.75M70.2 212.7h.75M74.8 220.8h.75M68.8 221.9h.75M68.5 218.3h.75M64.2 218.2h.75M70.3 230.2h.75M67.0 215.9h.75M71.2 216.7h.75M67.8 217.8h.75M74.8 227.0h.75M60.3 231.2h.75M66.8 223.0h.75M71.4 218.2h.75M66.6 219.5h.75M64.9 226.4h.75M67.0 217.3h.75M62.6 228.2h.75M68.5 228.0h.75M77.5 221.8h.75M72.5 224.5h.75M63.7 224.9h.75M64.6 228.6h.75M66.4 216.7h.75M71.9 226.9h.75M64.8 219.8h.75M65.3 218.0h.75M71.5 222.0h.75M71.4 220.5h.75M66.5 217.0h.75M63.6 214.2h.75M62.0 217.2h.75M65.3 228.2h.75M59.3 230.5h.75M70.9 224.5h.75M65.5 227.0h.75M69.9 219.1h.75M75.3 221.1h.75M72.6 222.8h.75M63.5 216.5h.75M71.4 216.9h.75M72.5 221.9h.75M65.1 220.0h.75M64.3 216.6h.75M67.6 223.3h.75M61.8 220.3h.75M73.7 226.2h.75M58.6 221.5h.75M63.7 220.1h.75M66.9 222.1h.75M67.1 220.7h.75M68.6 218.4h.75M69.1 219.7h.75M67.2 224.9h.75M72.4 224.5h.75M59.7 227.4h.75M68.0 213.7h.75M65.2 219.7h.75M68.5 219.6h.75M68.9 222.3h.75M64.4 219.4h.75M65.5 219.1h.75M71.1 225.1h.75M69.4 222.3h.75M65.3 216.1h.75M76.0 227.6h.75M77.0 226.1h.75M62.3 218.9h.75M69.2 225.3h.75M77.8 218.1h.75M71.1 226.7h.75M68.9 220.5h.75M67.2 217.8h.75M65.9 219.8h.75M67.2 218.0h.75M65.9 222.4h.75M70.9 222.3h.75M66.4 221.7h.75M66.3 218.9h.75M63.3 204.7h.75M67.8 221.9h.75M64.5 212.8h.75M67.3 222.6h.75M72.1 226.7h.75M69.4 222.8h.75M70.0 219.7h.75M69.4 220.7h.75M68.2 220.9h.75M67.5 219.0h.75M66.8 218.8h.75M71.0 217.3h.75M63.8 227.0h.75M73.2 221.4h.75M68.1 225.9h.75M65.1 220.3h.75M66.1 221.8h.75M65.4 220.7h.75M68.6 223.6h.75M65.2 225.3h.75M72.5 222.6h.75M65.0 218.4h.75M59.1 217.9h.75M65.1 229.1h.75M60.2 220.2h.75M67.8 220.2h.75M72.1 228.2h.75M70.5 226.5h.75M62.8 224.0h.75M65.0 219.7h.75M74.9 232.3h.75M69.2 223.3h.75M68.0 224.0h.75M72.1 220.7h.75M77.6 215.0h.75M73.1 215.4h.75M68.5 223.4h.75M69.4 223.3h.75M70.4 220.4h.75M65.6 216.1h.75M63.9 214.9h.75M68.2 220.0h.75M64.3 214.8h.75M67.8 225.6h.75M68.4 226.8h.75M77.1 234.5h.75M64.7 225.5h.75M67.5 218.8h.75M67.4 217.5h.75M69.7 205.6h.75M72.1 218.8h.75M66.1 220.7h.75M64.8 226.0h.75M61.6 224.3h.75M64.4 224.2h.75M70.1 222.5h.75M68.2 224.5h.75M64.0 228.2h.75M66.5 216.6h.75M68.1 219.4h.75M70.0 215.1h.75M65.7 228.9h.75M67.0 227.5h.75M60.9 225.0h.75M63.5 216.0h.75M74.3 222.3h.75M59.5 220.4h.75M66.7 221.9h.75M68.9 220.6h.75M66.5 223.9h.75M64.8 219.7h.75M67.8 225.4h.75M68.0 222.6h.75M67.7 220.2h.75M60.7 221.0h.75M67.4 219.5h.75M64.7 225.2h.75M65.9 220.3h.75M68.9 222.9h.75M70.5 219.7h.75M71.5 214.7h.75M66.1 225.7h.75M71.6 216.6h.75M72.6 224.6h.75M72.4 223.4h.75M73.4 213.9h.75M67.4 217.2h.75M67.3 219.1h.75M71.2 217.7h.75M60.7 241.5h.75M70.6 222.0h.75M68.8 237.3h.75M64.6 236.1h.75M68.4 246.1h.75M62.9 237.6h.75M66.7 231.9h.75M67.0 227.9h.75M64.4 236.2h.75M61.1 244.2h.75M67.7 227.9h.75M68.6 236.1h.75M65.5 240.3h.75M69.6 229.4h.75M79.7 236.6h.75M65.2 242.6h.75M68.6 237.7h.75M68.8 226.8h.75M53.5 240.5h.75M67.4 237.9h.75M63.1 240.8h.75M74.0 246.6h.75M65.5 245.6h.75M62.8 240.5h.75M65.7 239.6h.75M67.7 227.7h.75M63.9 235.9h.75M66.5 238.9h.75M59.8 233.6h.75M65.6 237.8h.75M70.8 230.0h.75M68.2 233.7h.75M73.0 240.4h.75M72.1 235.0h.75M75.5 247.7h.75M72.4 240.7h.75M66.2 237.7h.75M68.1 235.1h.75M67.7 238.1h.75M68.4 228.5h.75M67.8 242.7h.75M62.7 230.9h.75M55.9 241.5h.75M63.3 238.1h.75M56.3 246.3h.75M67.2 236.9h.75M66.8 245.7h.75M58.1 229.2h.75M70.4 242.2h.75M71.3 235.1h.75M67.3 238.7h.75M75.5 237.6h.75M76.5 245.0h.75M60.5 219.8h.75M72.2 239.7h.75M69.1 224.3h.75M69.0 247.3h.75M71.7 220.2h.75M63.1 228.5h.75M63.7 222.8h.75M62.9 226.0h.75M66.3 238.0h.75M59.3 232.4h.75M61.4 221.7h.75M69.8 234.1h.75M66.4 242.6h.75M68.8 235.4h.75M57.0 245.0h.75M62.7 233.9h.75M63.9 237.1h.75M67.0 233.7h.75M63.8 239.9h.75M66.5 240.1h.75M66.9 238.7h.75M66.9 231.7h.75M70.5 230.6h.75M64.3 249.4h.75M72.6 227.5h.75M69.2 229.2h.75M67.6 236.2h.75M67.0 233.4h.75M72.1 216.9h.75M71.7 240.1h.75M68.8 243.1h.75M71.4 227.5h.75M67.4 231.5h.75M73.3 240.7h.75M56.0 229.2h.75M73.8 223.6h.75M67.4 245.3h.75M60.7 250.0h.75M65.8 234.2h.75M62.2 218.2h.75M77.7 249.3h.75M69.4 235.3h.75M58.6 246.6h.75M69.6 236.6h.75M64.7 233.8h.75M76.8 233.2h.75M61.3 249.5h.75M55.1 249.2h.75M67.1 218.8h.75M65.0 229.0h.75M55.7 233.9h.75M69.0 225.4h.75M75.5 237.0h.75M56.9 236.1h.75M72.9 236.2h.75M63.8 232.9h.75M79.0 234.4h.75M69.1 233.1h.75M65.8 239.8h.75M72.5 230.1h.75M69.5 234.5h.75M63.7 235.8h.75M70.5 248.1h.75M64.1 240.2h.75M57.5 236.1h.75M77.4 241.6h.75M65.0 240.5h.75M63.6 246.2h.75M68.6 241.3h.75M59.8 248.4h.75M64.2 236.7h.75M64.1 233.5h.75M67.2 244.5h.75M72.6 241.4h.75M64.3 236.2h.75M69.4 224.4h.75M69.9 221.4h.75M61.2 240.0h.75M68.0 243.6h.75M61.9 243.8h.75M72.3 226.1h.75M69.2 245.8h.75M66.9 232.5h.75M59.8 240.3h.75M67.4 240.5h.75M62.8 230.2h.75M70.5 232.0h.75M66.2 219.4h.75M62.6 229.2h.75M71.6 221.7h.75M70.6 240.7h.75M63.7 237.5h.75M72.8 244.8h.75M65.2 240.0h.75M65.2 231.6h.75M67.4 239.9h.75M62.9 233.7h.75M64.5 242.2h.75M66.0 239.7h.75M74.8 228.6h.75M74.6 237.0h.75M65.5 237.5h.75M75.2 234.4h.75M66.6 244.6h.75M71.4 233.9h.75M68.3 234.0h.75M79.4 217.9h.75M68.1 235.9h.75M60.6 233.3h.75M73.6 218.6h.75M64.7 239.5h.75M65.2 242.0h.75M51.2 230.8h.75M72.0 233.8h.75M71.1 228.8h.75M71.0 243.5h.75M71.9 224.1h.75M75.6 234.3h.75M71.7 237.4h.75M62.9 241.0h.75M65.0 235.8h.75M72.3 227.0h.75M68.8 236.7h.75M59.9 240.5h.75M68.7 228.3h.75M65.8 239.9h.75M62.5 247.6h.75M69.1 246.1h.75M64.7 223.5h.75M58.6 228.7h.75M61.0 223.3h.75M76.0 246.1h.75M58.9 242.2h.75M68.0 243.0h.75M70.0 229.5h.75M70.1 227.1h.75M60.4 237.7h.75M65.1 237.9h.75M67.5 229.7h.75M71.0 238.2h.75M63.4 242.5h.75M60.7 238.9h.75M72.0 228.2h.75M72.5 219.0h.75M68.7 234.8h.75M63.6 238.4h.75M68.9 234.8h.75M67.4 233.4h.75M71.2 231.1h.75M60.3 243.1h.75M67.4 236.6h.75M66.0 238.0h.75M61.0 228.7h.75M67.9 231.7h.75M67.0 238.4h.75M64.7 228.5h.75M68.9 226.3h.75M59.4 234.2h.75M66.5 247.2h.75M69.0 238.6h.75M68.3 249.4h.75M72.4 235.9h.75M60.6 234.4h.75M59.0 225.2h.75M68.0 232.1h.75M69.2 249.2h.75M77.8 239.8h.75M70.0 243.2h.75M62.3 243.0h.75M71.0 236.9h.75M62.4 235.3h.75M59.1 238.0h.75M80.4 242.7h.75M68.5 240.9h.75M70.5 241.2h.75M69.7 238.3h.75M76.2 230.5h.75M68.3 234.8h.75M73.1 229.0h.75M61.5 245.5h.75M59.6 219.1h.75M74.2 235.1h.75M69.5 234.1h.75M68.0 227.4h.75M67.7 236.8h.75M63.2 248.0h.75M74.8 235.6h.75M70.2 242.2h.75M69.4 237.8h.75M68.8 233.8h.75M69.4 237.6h.75M70.7 232.4h.75M60.7 232.8h.75M69.5 240.2h.75M78.2 240.5h.75M64.1 243.6h.75M66.1 238.2h.75M71.4 224.8h.75M71.8 241.5h.75M70.0 234.4h.75M58.4 234.6h.75M69.4 224.4h.75M60.6 232.1h.75M62.5 230.8h.75M69.6 236.7h.75M65.3 224.6h.75M71.0 237.4h.75M83.2 238.1h.75M70.8 227.5h.75M70.6 231.7h.75M62.1 229.7h.75M63.5 244.7h.75M61.3 215.5h.75M64.0 234.1h.75M61.1 222.9h.75M63.4 233.3h.75M65.7 244.2h.75M61.6 231.6h.75M59.4 238.2h.75M59.7 229.8h.75M67.1 244.8h.75M72.1 246.6h.75M72.2 225.7h.75M65.0 227.6h.75M70.3 246.2h.75M59.3 235.3h.75M78.7 234.8h.75M73.0 239.8h.75M65.7 226.3h.75M60.8 243.6h.75M68.8 237.2h.75M57.1 241.1h.75M62.7 231.3h.75M70.7 241.4h.75M67.2 231.0h.75M64.2 245.1h.75M71.7 246.6h.75M61.4 244.8h.75M68.3 241.4h.75M64.2 242.4h.75M62.4 214.0h.75M69.2 244.1h.75M61.6 234.7h.75M76.7 237.8h.75M63.8 234.6h.75M77.1 225.2h.75M61.1 232.4h.75M70.0 242.6h.75M60.6 249.0h.75M59.8 231.7h.75M67.6 229.3h.75M70.3 249.3h.75M60.2 229.5h.75M62.7 237.4h.75M67.5 229.5h.75M68.8 245.4h.75M57.5 224.8h.75M69.7 234.6h.75M64.6 249.6h.75M61.5 233.8h.75M58.0 223.6h.75M59.7 241.3h.75M69.6 244.9h.75M64.1 242.9h.75M74.9 235.0h.75M65.1 232.6h.75M63.8 234.5h.75M73.8 229.9h.75M69.2 234.7h.75M67.0 215.4h.75M63.6 238.5h.75M58.7 236.8h.75M64.3 243.4h.75M65.7 232.9h.75M68.7 241.8h.75M69.7 226.6h.75M68.0 231.9h.75M67.9 221.1h.75M61.6 249.2h.75M55.6 242.0h.75M64.1 227.0h.75M61.8 236.5h.75M63.4 245.1h.75M65.4 241.2h.75M60.3 240.2h.75M61.0 229.7h.75M66.3 231.6h.75M67.4 237.8h.75M63.4 244.8h.75M69.4 230.0h.75M65.7 227.5h.75M61.5 246.7h.75M67.0 229.1h.75M76.6 246.2h.75M63.3 239.1h.75M72.9 244.5h.75M74.6 242.9h.75M62.5 243.6h.75M77.3 229.2h.75M67.4 231.1h.75M65.5 242.5h.75M69.9 248.8h.75M65.9 239.6h.75M73.5 238.7h.75M63.0 245.6h.75M61.4 237.2h.75M70.9 236.5h.75M70.5 228.1h.75M72.5 245.4h.75M61.2 227.9h.75M72.4 241.4h.75M69.3 224.9h.75M76.0 246.3h.75M60.3 228.3h.75M67.9 244.2h.75M65.4 223.5h.75M58.5 233.3h.75M63.1 247.0h.75M72.7 230.2h.75M64.4 237.6h.75M63.0 232.9h.75M71.3 217.4h.75M71.9 239.6h.75M71.9 240.7h.75M62.7 227.6h.75M66.5 241.9h.75M72.2 230.2h.75M63.4 228.5h.75M62.9 237.1h.75M71.1 231.2h.75M60.8 223.8h.75M53.3 243.3h.75M59.3 245.4h.75M61.5 220.2h.75M66.1 222.3h.75M70.0 241.8h.75M66.0 232.9h.75M63.2 240.3h.75M67.6 246.7h.75M61.8 233.8h.75M66.6 228.0h.75M63.5 213.8h.75M80.7 238.7h.75M71.0 229.1h.75M62.5 239.7h.75M61.6 239.0h.75M64.5 225.2h.75M63.0 246.2h.75M63.0 244.2h.75M71.4 226.9h.75M64.6 233.5h.75M62.7 232.4h.75M59.8 233.5h.75M60.7 227.4h.75M66.5 240.7h.75M65.7 238.9h.75M72.7 240.1h.75M63.5 232.7h.75M72.3 248.0h.75M68.1 238.6h.75M66.8 213.7h.75M56.4 231.6h.75M60.1 236.5h.75M70.7 245.2h.75M74.1 234.4h.75M67.9 234.9h.75M70.8 231.4h.75M64.7 242.7h.75M64.9 233.2h.75M63.4 231.9h.75M71.9 230.7h.75M68.6 241.7h.75M65.6 232.5h.75M65.1 222.8h.75M69.7 242.3h.75M68.5 231.0h.75M62.5 240.0h.75M75.7 240.2h.75M68.1 247.2h.75M66.9 245.9h.75M74.5 232.1h.75M72.1 235.6h.75M66.3 226.0h.75M61.2 240.8h.75M63.5 248.9h.75M55.0 234.3h.75M73.1 219.6h.75M70.3 237.8h.75M62.5 238.1h.75M61.7 237.5h.75M65.8 242.5h.75M68.2 241.5h.75M70.0 223.5h.75M76.0 246.2h.75M68.7 232.5h.75M71.4 233.0h.75M70.5 244.8h.75M67.6 234.1h.75M64.4 221.2h.75M66.3 238.4h.75M66.5 241.6h.75M67.8 236.3h.75M68.9 226.4h.75M64.2 230.3h.75M62.9 226.3h.75M70.7 238.8h.75M58.0 244.0h.75M63.6 245.7h.75M74.9 230.8h.75M52.7 239.0h.75M63.2 241.7h.75M70.4 232.7h.75M58.2 235.7h.75M53.3 238.7h.75M74.3 244.5h.75M74.9 233.3h.75M71.6 237.4h.75M65.6 222.4h.75M68.7 236.8h.75M62.1 247.1h.75M61.0 247.2h.75M65.4 242.8h.75M72.0 237.5h.75M61.0 231.9h.75M64.9 235.6h.75M67.7 242.2h.75M59.8 230.3h.75M72.9 244.9h.75M68.6 228.6h.75M58.9 221.9h.75M66.6 228.4h.75M62.8 222.8h.75M63.4 225.3h.75M67.2 246.6h.75M63.1 235.3h.75M71.8 238.9h.75M63.1 246.8h.75M71.9 247.7h.75M66.6 232.7h.75M71.2 248.3h.75M64.0 240.3h.75M64.2 237.0h.75M60.8 240.8h.75M69.8 224.9h.75M71.7 230.3h.75M77.8 236.1h.75M73.5 242.2h.75M68.1 233.8h.75M65.7 235.9h.75M68.8 245.2h.75M66.7 249.0h.75M74.4 243.5h.75M71.7 247.8h.75M62.4 233.6h.75M63.2 234.4h.75M73.9 239.7h.75M68.4 234.4h.75M65.6 232.7h.75M64.8 235.3h.75M65.3 228.8h.75M64.4 241.1h.75M71.3 237.7h.75M60.5 247.5h.75M63.8 233.3h.75M62.9 232.8h.75M70.6 231.1h.75M66.4 235.8h.75M58.1 227.2h.75M59.1 228.4h.75M68.4 235.0h.75M68.7 244.1h.75M66.7 242.4h.75M77.4 239.4h.75M69.5 223.0h.75M69.9 240.1h.75M67.5 228.3h.75M71.8 235.2h.75M72.5 238.6h.75M60.0 227.3h.75M72.3 232.9h.75M69.5 226.0h.75M71.8 245.3h.75M69.2 234.8h.75M60.3 241.8h.75M60.7 231.2h.75M76.3 232.7h.75M68.1 247.9h.75M59.4 228.7h.75M68.6 221.7h.75M64.9 240.5h.75M57.2 227.3h.75M54.9 233.3h.75M58.5 244.7h.75M68.2 230.0h.75M66.6 244.5h.75M65.5 231.2h.75M68.3 249.7h.75M69.9 248.3h.75M55.9 233.0h.75M65.2 235.2h.75M62.5 229.9h.75M60.4 238.7h.75M64.0 246.8h.75M66.2 224.7h.75M65.4 244.8h.75M59.2 225.7h.75M64.3 229.7h.75M77.3 221.8h.75M58.0 237.5h.75M68.2 239.1h.75M69.9 231.3h.75M69.2 246.1h.75M61.0 219.1h.75M72.0 237.2h.75M60.9 233.8h.75M63.6 237.1h.75M66.2 242.7h.75M70.5 230.1h.75M70.0 237.2h.75M66.7 245.2h.75M71.7 238.7h.75M67.2 240.2h.75M71.5 234.0h.75M59.5 239.7h.75M58.6 237.5h.75M70.8 249.4h.75M59.6 243.2h.75M65.2 234.9h.75M66.3 216.2h.75M64.3 243.1h.75M64.4 243.4h.75M74.0 229.2h.75M53.6 220.0h.75M71.4 227.3h.75M78.7 244.9h.75M66.9 227.9h.75M66.7 233.1h.75M70.6 238.9h.75M76.3 247.4h.75M60.6 236.8h.75M67.3 236.1h.75M65.8 232.3h.75M67.6 246.1h.75M70.2 236.2h.75M64.6 225.1h.75M67.1 230.3h.75M63.3 241.9h.75M63.3 230.9h.75M66.1 244.6h.75M66.1 240.1h.75M60.7 239.5h.75M75.0 242.6h.75M66.1 241.2h.75M59.6 229.7h.75M72.5 234.2h.75M69.4 226.7h.75M66.7 233.0h.75M68.1 246.1h.75M67.7 235.6h.75M63.8 230.1h.75M67.0 225.8h.75M77.4 241.6h.75M55.2 245.7h.75M67.1 248.9h.75M69.1 237.5h.75M61.3 245.9h.75M59.7 228.2h.75M78.0 238.4h.75M64.9 231.2h.75M77.6 238.5h.75M69.6 243.4h.75M67.2 246.1h.75M69.3 228.6h.75M70.1 247.8h.75M72.9 233.0h.75M69.1 228.3h.75M67.6 235.5h.75M67.7 224.6h.75M73.8 237.0h.75M71.0 239.5h.75M61.6 235.3h.75M63.5 241.6h.75M68.5 234.3h.75M63.6 237.0h.75M64.8 224.8h.75M61.8 237.4h.75M65.4 229.8h.75M69.0 233.2h.75M72.0 236.2h.75M66.8 238.6h.75M77.6 223.0h.75M66.4 223.7h.75M83.4 234.4h.75M72.0 241.0h.75M69.4 240.1h.75M64.2 244.6h.75M52.1 248.1h.75M66.0 241.2h.75M67.7 236.8h.75M76.8 228.2h.75M59.6 229.0h.75M76.7 233.0h.75M65.5 239.3h.75M70.6 238.9h.75M53.6 237.0h.75M67.5 235.7h.75M65.0 242.4h.75M70.3 238.8h.75M67.3 239.5h.75M60.9 239.6h.75M71.7 232.4h.75M70.4 228.2h.75M69.9 241.2h.75M72.0 240.5h.75M72.5 235.1h.75M66.7 233.5h.75M59.6 230.5h.75M73.8 235.2h.75M70.5 239.3h.75M67.3 227.2h.75M64.5 238.0h.75M66.9 244.9h.75M65.0 242.4h.75M63.2 242.0h.75M78.1 238.0h.75M68.0 245.1h.75M63.6 235.7h.75M60.0 233.4h.75M63.0 237.9h.75M70.5 244.7h.75M70.7 239.8h.75M65.7 242.7h.75M67.1 219.8h.75M65.2 247.1h.75M73.6 248.3h.75M68.7 234.3h.75M79.7 229.8h.75M62.9 239.4h.75M66.1 228.6h.75M71.4 243.2h.75M65.5 232.5h.75M59.6 245.2h.75M61.9 248.6h.75M67.3 219.7h.75M68.6 239.5h.75M66.3 231.1h.75M72.0 225.0h.75M72.0 231.8h.75M68.5 235.1h.75M66.9 245.8h.75M65.5 224.1h.75M69.7 245.9h.75M67.1 242.1h.75M69.1 241.6h.75M65.1 236.9h.75M59.5 227.0h.75M61.6 241.5h.75M70.8 240.3h.75M69.1 243.2h.75M67.1 243.2h.75M71.3 240.6h.75M72.0 225.6h.75M63.6 227.3h.75M65.8 233.8h.75M67.5 231.4h.75M61.7 242.9h.75M69.3 234.3h.75M64.3 249.9h.75M77.1 243.5h.75M65.3 233.7h.75M65.7 242.2h.75M65.6 243.9h.75M63.1 227.9h.75M69.0 240.0h.75M66.9 243.0h.75M75.4 238.8h.75M69.6 247.3h.75M65.6 230.0h.75M59.4 238.1h.75M66.3 229.9h.75M62.4 241.9h.75M71.7 229.6h.75M66.6 244.8h.75M75.5 240.3h.75M70.6 245.3h.75M71.1 235.8h.75M68.0 224.6h.75M70.2 235.5h.75M71.6 248.7h.75M63.1 240.7h.75M69.4 242.7h.75M66.3 239.9h.75M65.5 248.9h.75M63.2 224.4h.75M59.3 244.4h.75M73.0 234.9h.75M67.1 235.9h.75M68.4 237.1h.75M76.4 239.9h.75M62.2 221.2h.75M72.3 237.4h.75M70.0 230.9h.75M68.9 246.9h.75M69.3 233.4h.75M66.7 240.9h.75M75.1 233.6h.75M70.0 242.7h.75M68.6 245.6h.75M73.3 233.6h.75M71.5 237.4h.75M69.2 224.9h.75M68.5 239.6h.75M75.9 244.3h.75M69.5 232.3h.75M66.3 246.5h.75M62.4 219.4h.75M65.0 221.3h.75M61.4 225.2h.75M67.4 232.9h.75M68.2 237.2h.75M56.2 236.3h.75M66.9 236.4h.75M70.2 243.2h.75M67.7 233.0h.75M61.8 226.3h.75M73.4 226.4h.75M60.4 217.0h.75M61.2 235.5h.75M66.7 249.4h.75M71.9 241.1h.75M72.9 229.9h.75M67.9 237.0h.75M60.6 244.3h.75M63.4 247.3h.75M62.1 229.4h.75M65.9 243.5h.75M57.6 239.1h.75M67.4 246.4h.75M70.2 248.8h.75M66.0 234.1h.75M69.2 224.7h.75M61.9 240.4h.75M63.5 242.8h.75M72.8 239.0h.75M64.4 228.2h.75M73.1 244.7h.75M65.1 232.2h.75M74.7 237.4h.75M69.3 237.8h.75M64.5 249.9h.75M70.9 229.0h.75M62.8 232.5h.75M61.9 223.5h.75M59.3 241.1h.75M68.1 233.1h.75M66.5 240.6h.75M66.4 227.9h.75M64.7 233.9h.75M74.3 245.8h.75M64.6 235.5h.75M63.0 242.3h.75M73.3 241.5h.75M74.2 234.0h.75M68.6 223.7h.75M57.8 245.4h.75M63.7 238.5h.75M70.0 245.4h.75M66.9 219.9h.75M74.9 222.9h.75M59.7 218.8h.75M70.3 229.5h.75M63.5 245.9h.75M73.7 241.8h.75M66.4 236.7h.75M72.2 238.1h.75M63.4 243.5h.75M59.5 234.4h.75M61.0 240.4h.75M63.6 238.2h.75M61.5 218.4h.75M73.0 233.7h.75M73.8 248.5h.75M68.2 233.6h.75M61.4 235.8h.75M66.2 231.8h.75M63.2 232.9h.75M74.4 246.6h.75M68.4 234.7h.75M69.3 228.3h.75M64.7 210.6h.75M56.3 232.1h.75M62.8 220.3h.75M61.0 221.5h.75M68.7 243.8h.75M67.3 243.0h.75M62.6 220.7h.75M64.8 244.2h.75M74.9 240.9h.75M61.8 230.3h.75M62.0 243.2h.75M65.6 223.2h.75M63.2 226.8h.75M64.6 224.8h.75M69.6 227.6h.75M75.8 244.5h.75M57.5 225.7h.75M66.7 227.2h.75M67.0 228.9h.75M66.4 238.7h.75M65.8 234.1h.75M65.0 244.3h.75M72.0 231.0h.75M64.4 226.0h.75M66.1 232.7h.75M66.8 237.3h.75M67.4 229.1h.75M65.9 239.3h.75M66.8 232.0h.75M67.7 237.3h.75M66.5 248.4h.75M61.6 231.4h.75M62.5 229.7h.75M61.3 227.6h.75M67.8 240.3h.75M63.1 241.3h.75M61.3 235.6h.75M68.0 237.2h.75M91.5 221.3h.75M90.2 224.3h.75M83.2 213.5h.75M87.5 228.9h.75M87.9 225.2h.75M89.8 225.9h.75M86.8 229.2h.75M85.5 222.3h.75M86.1 222.5h.75M82.0 226.7h.75M87.4 225.3h.75M85.7 222.1h.75M89.0 223.5h.75M84.3 220.8h.75M86.2 226.7h.75M84.5 227.8h.75M84.2 223.3h.75M89.7 232.3h.75M86.1 215.9h.75M88.9 222.1h.75M84.0 231.5h.75M87.8 221.2h.75M82.3 215.6h.75M86.0 230.0h.75M85.9 225.9h.75M89.3 217.5h.75M88.0 227.0h.75M86.9 218.3h.75M90.1 216.8h.75M88.1 222.5h.75M89.1 221.0h.75M89.8 218.0h.75M87.3 221.5h.75M86.6 218.4h.75M88.5 223.6h.75M86.2 223.2h.75M88.7 226.9h.75M90.9 221.1h.75M90.1 216.9h.75M86.3 216.9h.75M83.5 222.1h.75M87.3 230.7h.75M87.1 227.4h.75M90.9 220.2h.75M86.3 227.8h.75M86.8 217.7h.75M89.7 228.1h.75M86.0 221.4h.75M87.0 227.0h.75M92.8 226.3h.75M92.1 221.9h.75M89.4 224.9h.75M88.3 218.1h.75M84.5 222.9h.75M89.2 228.5h.75M87.6 243.0h.75M88.1 226.7h.75M85.8 223.7h.75M87.4 218.4h.75M86.9 228.4h.75M88.4 215.3h.75M91.9 219.4h.75M88.6 225.0h.75M82.3 217.5h.75M84.5 230.7h.75M82.6 228.5h.75M85.0 220.5h.75M89.2 220.6h.75M88.7 216.9h.75M85.6 216.5h.75M88.3 225.4h.75M85.1 226.3h.75M83.1 225.0h.75M83.1 224.6h.75M84.8 220.6h.75M91.8 225.0h.75M83.3 216.2h.75M91.3 223.3h.75M91.6 230.4h.75M86.9 229.6h.75M87.3 221.0h.75M85.6 221.7h.75M87.4 229.9h.75M89.5 231.9h.75M87.5 216.1h.75M90.5 221.2h.75M91.1 224.4h.75M88.5 229.1h.75M88.5 219.2h.75M87.3 226.4h.75M88.5 221.8h.75M84.0 234.7h.75M88.7 225.4h.75M88.1 222.6h.75M84.8 221.7h.75M94.1 228.4h.75M84.4 226.6h.75M84.8 218.1h.75M88.3 224.3h.75M81.4 216.8h.75M85.0 219.6h.75M82.7 217.0h.75M84.4 216.9h.75M87.0 220.0h.75M88.4 218.6h.75M90.9 225.8h.75M89.9 227.1h.75M91.1 222.1h.75M89.3 217.9h.75M86.0 227.2h.75M90.9 213.5h.75M85.9 214.0h.75M85.5 226.8h.75M92.2 226.4h.75M89.9 228.0h.75M88.1 222.2h.75M89.8 217.2h.75M90.2 220.8h.75M83.2 226.0h.75M87.1 219.6h.75M83.8 219.9h.75M87.8 216.6h.75M85.4 217.7h.75M91.6 227.3h.75M89.0 225.5h.75M84.9 217.7h.75M87.4 218.1h.75M83.7 220.6h.75M87.6 225.9h.75M89.1 217.7h.75M88.2 222.5h.75M81.5 212.9h.75M86.4 217.2h.75M89.0 225.3h.75M88.4 227.6h.75M91.0 217.7h.75M83.4 219.6h.75M89.0 227.1h.75M85.4 221.4h.75M88.0 220.7h.75M88.7 225.8h.75M89.6 224.2h.75M85.6 228.6h.75M88.0 227.1h.75M83.8 220.5h.75M83.1 222.7h.75M89.1 223.0h.75M87.3 216.8h.75M82.4 218.6h.75M84.8 228.0h.75M87.5 215.6h.75M92.2 228.1h.75M90.7 224.7h.75M89.9 222.6h.75M81.9 225.9h.75M87.1 225.6h.75M88.9 229.1h.75M88.6 221.4h.75M88.7 222.2h.75M86.7 222.1h.75M92.9 232.4h.75M92.0 227.9h.75M87.1 218.8h.75M84.4 221.7h.75M93.8 219.9h.75M85.7 223.4h.75M91.1 224.3h.75M93.3 234.3h.75M84.5 214.5h.75M88.3 228.3h.75M86.3 225.4h.75M89.0 219.9h.75M88.4 222.6h.75M93.4 220.9h.75M89.2 223.6h.75M87.4 228.2h.75M90.9 216.0h.75M86.6 229.6h.75M86.3 221.5h.75M94.4 230.5h.75M84.9 225.3h.75M85.9 229.3h.75M87.6 226.0h.75M84.1 228.5h.75M80.9 223.6h.75M90.7 219.3h.75M85.0 226.6h.75M85.7 226.7h.75M86.3 233.4h.75M84.4 213.7h.75M84.1 222.4h.75M87.9 228.4h.75M94.9 217.3h.75M89.7 222.2h.75M89.7 233.5h.75M82.8 230.2h.75M87.3 219.1h.75M83.7 230.2h.75M89.8 229.0h.75M86.7 227.1h.75M87.5 225.2h.75M87.1 224.5h.75M85.6 219.2h.75M82.7 220.9h.75M89.2 226.9h.75M83.1 224.0h.75M83.8 232.2h.75M86.5 221.7h.75M85.2 211.8h.75M88.2 221.7h.75M90.5 224.7h.75M88.2 225.2h.75M88.0 223.7h.75M87.5 219.4h.75M90.1 230.5h.75M81.7 220.2h.75M88.6 226.8h.75M84.5 222.0h.75M83.6 217.6h.75M87.4 230.2h.75M86.2 211.3h.75M89.2 219.3h.75M90.8 225.5h.75M80.2 221.7h.75M87.2 227.0h.75M93.5 222.9h.75M90.1 221.2h.75M91.9 233.8h.75M87.7 222.3h.75M83.0 222.6h.75M83.9 218.2h.75M89.6 219.8h.75M90.4 226.5h.75M85.1 226.1h.75M86.6 223.4h.75M88.2 220.0h.75M82.0 226.7h.75M86.3 215.2h.75M92.4 221.8h.75M94.2 222.2h.75M87.1 219.3h.75M93.1 224.1h.75M85.8 220.2h.75M84.9 219.6h.75M80.5 232.1h.75M90.4 227.0h.75M86.3 229.2h.75M94.7 223.7h.75M88.4 228.1h.75M88.0 227.2h.75M81.8 229.3h.75M92.1 234.8h.75M86.3 222.4h.75M86.9 224.7h.75M80.6 223.2h.75M90.3 206.6h.75M90.5 216.7h.75M85.5 223.5h.75M87.7 226.5h.75M88.6 220.7h.75M90.4 228.9h.75M87.7 229.6h.75M92.8 221.5h.75M86.7 230.3h.75M85.5 231.9h.75M86.0 225.7h.75M79.6 218.8h.75M84.9 230.5h.75M90.5 222.7h.75M88.2 221.7h.75M84.9 224.0h.75M88.5 220.9h.75M81.2 228.6h.75M86.5 227.2h.75M89.1 229.3h.75M89.6 226.3h.75M85.0 219.7h.75M90.3 222.7h.75M93.2 227.7h.75M86.1 221.5h.75M89.7 237.5h.75M82.6 222.3h.75M81.3 220.7h.75M89.3 229.0h.75M87.6 227.1h.75M88.1 223.4h.75M85.6 222.4h.75M86.5 225.5h.75M90.0 227.5h.75M92.8 227.2h.75M86.8 222.1h.75M82.3 225.6h.75M91.4 227.6h.75M89.3 227.2h.75M89.6 208.7h.75M88.0 219.2h.75M94.6 219.8h.75M87.7 222.4h.75M89.0 224.4h.75M81.7 227.9h.75M85.6 226.5h.75M85.3 222.9h.75M87.3 223.6h.75M88.5 231.9h.75M85.1 220.6h.75M92.8 225.0h.75M84.1 231.0h.75M86.0 225.2h.75M88.2 213.7h.75M83.6 225.3h.75M89.2 221.6h.75M89.4 223.0h.75M86.5 228.5h.75M93.4 225.8h.75M87.7 222.2h.75M88.3 227.8h.75M84.5 225.6h.75M82.2 224.0h.75M85.5 224.9h.75M86.4 224.7h.75M86.0 221.9h.75M89.8 221.3h.75M80.0 223.6h.75M83.9 218.9h.75M81.8 217.5h.75M91.6 229.7h.75M85.7 222.3h.75M85.8 223.4h.75M84.0 222.9h.75M90.2 223.6h.75M87.3 229.0h.75M87.4 233.3h.75M84.3 233.1h.75M90.6 235.4h.75M84.7 228.1h.75M90.9 240.1h.75M80.3 232.4h.75M83.4 225.8h.75M90.8 229.9h.75M86.7 233.1h.75M84.8 242.4h.75M88.6 239.6h.75M83.4 233.5h.75M87.5 236.1h.75M79.2 237.6h.75M84.9 231.4h.75M89.1 239.5h.75M90.4 241.4h.75M84.1 228.9h.75M93.0 237.4h.75M85.1 237.2h.75M79.8 232.5h.75M78.6 240.3h.75M92.7 243.7h.75M86.9 244.5h.75M84.9 234.6h.75M84.5 237.4h.75M92.1 227.7h.75M86.9 237.7h.75M93.6 242.7h.75M86.5 237.1h.75M78.7 240.9h.75M90.2 237.3h.75M85.9 241.7h.75M86.3 245.6h.75M92.8 234.3h.75M86.3 237.5h.75M91.4 235.6h.75M87.2 233.0h.75M84.5 235.9h.75M89.0 227.5h.75M85.0 241.6h.75M91.6 248.8h.75M90.7 248.8h.75M87.4 245.6h.75M89.4 228.8h.75M89.2 247.4h.75M86.2 230.6h.75M90.4 235.6h.75M86.4 249.8h.75M89.4 228.0h.75M83.8 242.3h.75M87.6 238.1h.75M88.7 234.9h.75M84.4 229.4h.75M85.7 239.2h.75M85.3 232.5h.75M89.8 243.8h.75M84.6 245.2h.75M88.8 225.7h.75M92.7 232.2h.75M88.5 233.6h.75M81.4 227.1h.75M87.7 227.6h.75M91.0 236.7h.75M86.2 234.4h.75M91.2 223.6h.75M89.4 232.0h.75M88.7 239.9h.75M86.3 227.0h.75M85.4 229.1h.75M86.3 247.9h.75M87.5 245.9h.75M89.1 223.8h.75M88.7 225.9h.75M86.2 238.8h.75M87.5 227.1h.75M88.6 234.1h.75M81.4 232.6h.75M84.5 240.2h.75M84.4 217.0h.75M86.5 219.5h.75M86.3 226.8h.75M86.3 243.6h.75M84.1 234.8h.75M89.7 223.2h.75M88.2 239.7h.75M81.3 241.3h.75M87.3 234.2h.75M83.2 233.5h.75M93.4 239.3h.75M85.6 245.1h.75M85.8 237.1h.75M87.6 240.0h.75M86.5 235.6h.75M87.0 233.1h.75M92.8 229.1h.75M88.1 237.9h.75M90.3 233.7h.75M91.3 234.2h.75M83.8 243.0h.75M93.3 239.7h.75M89.7 242.5h.75M90.7 224.2h.75M84.2 240.2h.75M90.2 231.6h.75M88.8 229.9h.75M85.3 229.6h.75M95.5 245.1h.75M89.3 242.2h.75M86.4 230.6h.75M88.0 227.5h.75M90.5 236.1h.75M91.3 232.6h.75M89.4 248.4h.75M91.7 225.0h.75M92.6 222.3h.75M82.8 234.1h.75M85.5 236.1h.75M83.9 237.0h.75M87.6 241.7h.75M89.6 233.4h.75M83.5 231.9h.75M86.2 222.8h.75M91.0 237.8h.75M85.4 242.4h.75M86.9 234.0h.75M88.4 244.9h.75M80.7 236.2h.75M90.1 247.4h.75M88.5 238.5h.75M89.3 228.1h.75M83.7 231.2h.75M84.5 224.5h.75M85.1 223.0h.75M88.2 238.0h.75M87.5 242.5h.75M93.7 235.6h.75M92.0 234.2h.75M84.7 227.7h.75M84.9 243.4h.75M93.4 238.9h.75M86.1 231.5h.75M92.2 241.2h.75M93.0 240.2h.75M85.3 222.0h.75M86.3 241.6h.75M87.6 237.0h.75M84.2 233.1h.75M83.8 232.9h.75M85.8 249.1h.75M90.3 247.5h.75M85.7 249.7h.75M86.5 227.4h.75M85.6 231.1h.75M82.4 242.8h.75M92.6 226.9h.75M78.8 230.6h.75M84.9 222.5h.75M89.3 249.9h.75M82.2 244.0h.75M89.4 239.4h.75M91.8 237.6h.75M84.2 232.9h.75M88.0 233.0h.75M83.3 240.6h.75M89.1 230.7h.75M87.6 245.2h.75M88.0 232.3h.75M92.2 229.4h.75M89.0 245.7h.75M92.1 234.9h.75M89.6 240.2h.75M83.0 232.9h.75M88.2 219.1h.75M89.0 240.1h.75M82.1 225.9h.75M92.1 244.1h.75M87.5 224.4h.75M88.6 222.0h.75M84.0 238.3h.75M87.5 239.2h.75M88.3 236.8h.75M86.1 226.9h.75M87.6 242.7h.75M79.6 225.0h.75M92.2 232.5h.75M83.3 230.1h.75M79.4 233.2h.75M83.8 242.4h.75M84.3 231.2h.75M89.2 240.2h.75M84.0 241.2h.75M88.3 223.2h.75M83.8 227.3h.75M95.2 233.1h.75M89.2 231.6h.75M94.3 238.3h.75M83.6 221.5h.75M89.7 241.4h.75M83.8 241.6h.75M89.3 234.7h.75M89.7 225.6h.75M81.5 236.0h.75M83.2 232.0h.75M83.1 240.2h.75M81.8 235.4h.75M84.6 241.5h.75M83.8 232.8h.75M82.1 246.8h.75M87.6 218.7h.75M89.2 228.4h.75M82.5 239.7h.75M85.2 224.7h.75M87.3 241.5h.75M86.4 226.9h.75M84.7 236.7h.75M90.2 229.1h.75M90.3 232.7h.75M89.7 237.3h.75M86.5 235.2h.75M94.4 233.1h.75M85.8 236.1h.75M86.8 228.7h.75M91.5 243.0h.75M84.4 242.2h.75M88.7 245.2h.75M87.4 249.4h.75M84.7 229.0h.75M86.4 243.9h.75M81.6 244.5h.75M85.3 236.0h.75M80.1 237.8h.75M95.4 213.5h.75M92.7 231.7h.75M91.7 249.4h.75M88.3 222.6h.75M90.8 232.0h.75M91.8 238.2h.75M90.9 240.3h.75M90.5 248.2h.75M83.9 222.8h.75M88.8 236.3h.75M85.3 242.4h.75M83.0 226.1h.75M83.1 235.7h.75M91.0 245.9h.75M82.3 240.0h.75M93.5 216.4h.75M92.5 235.0h.75M85.8 238.9h.75M85.5 233.7h.75M87.0 235.5h.75M85.8 234.4h.75M83.2 228.7h.75M88.4 237.8h.75M79.8 233.6h.75M87.7 233.7h.75M91.4 235.3h.75M88.3 241.8h.75M90.0 237.8h.75M89.0 227.0h.75M89.8 235.0h.75M87.7 239.6h.75M84.2 232.5h.75M86.4 244.6h.75M86.9 241.8h.75M91.7 228.6h.75M93.1 238.4h.75M84.5 247.7h.75M84.6 235.6h.75M86.5 242.7h.75M92.2 230.9h.75M88.4 225.1h.75M87.0 240.2h.75M84.4 237.8h.75M90.4 239.9h.75M88.2 235.8h.75M87.0 238.4h.75M87.6 232.2h.75M93.3 239.5h.75M86.6 242.2h.75M93.3 235.6h.75M91.7 242.1h.75M87.4 222.7h.75M90.4 230.1h.75M86.8 246.8h.75M84.2 249.2h.75M86.2 237.9h.75M83.9 235.2h.75M89.0 226.5h.75M87.3 238.7h.75M89.2 241.8h.75M90.2 224.9h.75M76.0 240.2h.75M88.3 239.7h.75M80.7 239.3h.75M87.8 227.5h.75M84.0 240.1h.75M87.6 224.8h.75M92.1 247.2h.75M81.1 237.0h.75M87.9 227.3h.75M86.9 246.1h.75M80.4 244.7h.75M89.5 231.1h.75M85.4 228.5h.75M84.6 238.4h.75M98.8 244.9h.75M85.8 219.0h.75M80.7 243.5h.75M70.7 178.7h.75M70.9 201.5h.75M66.2 218.6h.75M72.5 202.0h.75M66.0 204.4h.75M66.6 188.2h.75M69.0 217.2h.75M65.5 190.8h.75M78.1 209.6h.75M65.0 201.3h.75M67.6 188.5h.75M69.6 212.3h.75M71.0 200.2h.75M74.6 202.1h.75M74.7 205.4h.75M69.6 199.7h.75M69.3 195.5h.75M71.2 205.6h.75M74.7 195.1h.75M74.1 200.8h.75M68.7 192.0h.75M61.7 182.1h.75M80.6 191.9h.75M75.3 194.1h.75M72.2 200.2h.75M72.5 214.2h.75M68.7 179.7h.75M66.5 201.5h.75M70.0 187.4h.75M68.2 193.9h.75M69.6 177.7h.75M73.6 201.8h.75M68.8 200.9h.75M71.1 198.6h.75M61.7 190.4h.75M70.1 225.9h.75M70.5 198.1h.75M65.5 189.7h.75M63.2 220.1h.75M72.9 207.4h.75M67.4 195.5h.75M73.2 214.3h.75M69.1 201.9h.75M73.8 207.7h.75M69.5 202.8h.75M64.2 187.7h.75M70.6 211.7h.75M69.5 201.9h.75M74.0 187.9h.75M69.0 190.8h.75M69.2 211.5h.75M74.9 195.6h.75M76.2 200.6h.75M74.4 207.9h.75M75.7 201.5h.75M73.0 181.7h.75M74.5 207.6h.75M75.0 211.3h.75M72.8 210.4h.75M71.3 219.4h.75M71.6 204.4h.75M81.8 209.3h.75M71.1 219.1h.75M69.9 196.5h.75M69.4 220.8h.75M70.8 220.8h.75M72.1 209.4h.75M65.9 222.1h.75M62.1 210.2h.75M72.3 189.4h.75M63.8 213.6h.75M72.2 203.9h.75M71.6 205.0h.75M76.2 201.9h.75M78.5 216.3h.75M72.7 206.6h.75M68.5 191.7h.75M65.7 205.8h.75M67.4 208.8h.75M71.2 191.3h.75M61.7 194.8h.75M71.3 195.4h.75M70.9 192.7h.75M73.9 204.2h.75M69.5 212.2h.75M71.5 222.7h.75M67.7 214.3h.75M68.9 212.3h.75M98.0 192.8h.75M99.3 210.3h.75M87.4 196.8h.75M94.9 184.8h.75M92.3 185.2h.75M89.1 235.4h.75M86.8 195.5h.75M86.5 202.7h.75M88.1 193.8h.75M81.4 205.0h.75M93.7 199.8h.75M89.8 197.4h.75M90.7 186.2h.75M92.4 183.4h.75M95.1 192.7h.75M85.9 207.3h.75M89.3 232.2h.75M78.7 217.9h.75M74.5 228.7h.75M76.4 210.0h.75M100.8 202.0h.75M77.2 184.7h.75M93.3 203.3h.75M86.8 199.0h.75M101.4 226.0h.75M102.9 207.9h.75M96.6 219.1h.75M106.6 197.9h.75M94.4 184.0h.75M49.2 232.8h.75M49.7 223.0h.75M59.4 243.2h.75M64.0 234.3h.75M47.7 233.7h.75M50.0 233.3h.75M51.3 242.5h.75M50.0 240.7h.75M44.7 234.8h.75M52.7 217.0h.75M54.3 228.5h.75M54.5 233.6h.75M51.5 236.4h.75M41.7 231.6h.75M57.6 244.5h.75M46.0 231.4h.75M50.5 232.3h.75M49.5 234.1h.75M48.7 217.6h.75M45.8 242.1h.75M41.6 236.8h.75M62.6 229.7h.75M53.7 221.1h.75M53.8 234.7h.75M64.8 246.5h.75M51.6 226.1h.75M55.5 221.9h.75M52.3 236.8h.75M59.3 216.6h.75M55.2 210.3h.75M54.1 228.1h.75M50.7 225.7h.75M53.9 229.8h.75M59.2 227.0h.75M39.7 235.9h.75M51.4 230.4h.75M49.7 226.6h.75M50.4 228.0h.75M40.3 238.9h.75M56.6 242.2h.75M47.1 241.6h.75M50.8 239.5h.75M49.2 199.6h.75M42.2 222.6h.75M49.5 229.4h.75M41.1 234.6h.75M46.5 216.4h.75M50.3 246.8h.75M52.2 235.6h.75M52.5 226.4h.75M51.4 234.2h.75M65.0 229.1h.75M54.8 225.0h.75M44.9 237.7h.75M48.5 228.1h.75M48.3 218.5h.75M51.1 226.3h.75M48.6 231.5h.75M47.1 221.8h.75M62.1 245.2h.75M52.5 221.7h.75M50.7 241.6h.75M50.9 223.2h.75M60.6 233.9h.75M55.1 244.4h.75M58.9 230.7h.75M54.2 233.8h.75M64.0 217.7h.75M52.4 238.2h.75M41.9 232.7h.75M55.7 231.5h.75M48.6 228.8h.75M41.5 229.5h.75M48.5 243.0h.75M58.5 238.6h.75M59.4 222.7h.75M56.5 248.3h.75M45.9 219.7h.75M67.3 239.3h.75M45.2 234.5h.75M51.8 244.7h.75M43.5 236.3h.75M60.1 243.3h.75M54.9 232.5h.75M57.6 242.4h.75M52.8 236.1h.75M53.3 225.8h.75M40.9 244.7h.75M58.2 237.4h.75M57.7 234.5h.75M49.9 227.1h.75M52.2 237.2h.75M54.0 218.0h.75M61.7 219.0h.75M54.8 239.8h.75M52.5 217.2h.75M49.2 247.1h.75M43.2 230.0h.75M48.7 235.2h.75M52.7 233.5h.75M50.7 236.9h.75M52.7 230.0h.75M56.7 229.1h.75M54.9 231.5h.75M53.9 243.2h.75M56.2 244.1h.75M53.4 245.5h.75M52.1 236.4h.75M55.1 230.7h.75M41.9 216.0h.75M59.8 239.2h.75M44.5 241.2h.75M57.3 228.7h.75M52.4 240.8h.75M58.9 245.7h.75M92.1 215.5h.75M61.2 216.4h.75M106.5 245.3h.75M81.8 213.6h.75M88.9 222.2h.75M85.0 244.0h.75M54.1 214.9h.75M98.0 219.8h.75M84.0 221.9h.75M55.0 242.9h.75M65.7 216.3h.75M49.8 247.0h.75M69.4 216.4h.75M107.3 232.9h.75M66.1 240.6h.75M66.9 232.7h.75M94.6 230.8h.75M45.6 228.2h.75M48.1 221.3h.75M90.7 248.7h.75M48.9 226.9h.75M81.6 235.7h.75M95.5 233.6h.75M78.3 247.6h.75M45.5 221.0h.75M54.0 217.7h.75M76.7 245.3h.75M104.9 230.8h.75M84.5 235.7h.75M87.4 235.1h.75M80.5 240.9h.75M62.2 243.0h.75M81.3 238.0h.75M40.7 212.2h.75M68.2 243.0h.75M95.2 213.6h.75M53.9 243.7h.75M84.1 212.0h.75M89.0 240.7h.75M50.6 235.6h.75M98.3 213.0h.75M56.6 239.9h.75M105.5 233.4h.75M63.4 216.5h.75M81.6 244.4h.75M104.5 233.9h.75M95.8 229.1h.75M73.0 247.0h.75M53.2 219.5h.75M81.8 218.5h.75M80.0 245.0h.75M44.3 217.9h.75M66.0 242.3h.75M102.6 219.8h.75M75.8 242.1h.75M52.3 227.1h.75M83.8 234.8h.75M70.9 234.5h.75M102.1 226.6h.75M73.3 231.2h.75M41.8 236.0h.75M51.0 217.0h.75M51.9 245.9h.75M104.7 242.5h.75M64.4 219.7h.75M63.7 220.3h.75M106.4 226.6h.75M54.0 240.6h.75M82.3 231.1h.75M104.4 223.7h.75M101.9 240.4h.75M50.9 219.2h.75M72.0 238.2h.75M57.1 239.9h.75M87.6 215.8h.75M56.7 233.1h.75M52.0 234.0h.75M58.5 247.9h.75M48.9 223.1h.75M88.7 229.0h.75M59.0 246.6h.75M67.2 216.8h.75M58.7 245.2h.75M65.9 225.5h.75M60.8 224.7h.75M64.0 248.8h.75M88.2 226.4h.75M51.8 221.1h.75M86.7 219.7h.75M63.6 237.7h.75M83.2 196.2h.75M56.3 197.7h.75M73.7 197.2h.75M59.5 179.3h.75M96.9 187.2h.75M64.3 180.9h.75M81.9 198.8h.75M102.1 205.4h.75M56.2 199.1h.75M104.8 204.0h.75M73.0 188.6h.75M83.5 179.0h.75M58.5 191.1h.75M87.2 183.4h.75M89.2 187.8h.75M80.3 185.6h.75M98.7 183.8h.75M72.1 200.0h.75M41.0 197.1h.75M102.1 204.3h.75" stroke="#000" stroke-width="0.75" stroke-opacity="0.62" fill="none"/>
</g>
<rect x="37.50" y="176.50" width="73.00" height="74.00" fill="none" stroke="#8e8e8e" stroke-width="1"/>
<path d="M79.50 176.50V250.50M37.50 210.50H110.50" stroke="#999" stroke-width="1" fill="none"/>
<text x="30.30" y="184.70" font-size="3.3" fill="#444">10<tspan font-size="2.4" dy="-1.3">5</tspan></text>
<path d="M36.10 183.20L37.50 183.20" stroke="#777" stroke-width="0.5" fill="none"/>
<text x="30.30" y="202.20" font-size="3.3" fill="#444">10<tspan font-size="2.4" dy="-1.3">4</tspan></text>
<path d="M36.10 200.70L37.50 200.70" stroke="#777" stroke-width="0.5" fill="none"/>
<text x="30.30" y="219.70" font-size="3.3" fill="#444">10<tspan font-size="2.4" dy="-1.3">3</tspan></text>
<path d="M36.10 218.20L37.50 218.20" stroke="#777" stroke-width="0.5" fill="none"/>
<text x="30.30" y="237.20" font-size="3.3" fill="#444">10<tspan font-size="2.4" dy="-1.3">2</tspan></text>
<path d="M36.10 235.70L37.50 235.70" stroke="#777" stroke-width="0.5" fill="none"/>
<text x="32.90" y="244.20" font-size="3" fill="#555">0</text>
<text x="44.50" y="258.70" font-size="3" fill="#555">0</text>
<path d="M46.00 250.50L46.00 251.90" stroke="#777" stroke-width="0.5" fill="none"/>
<text x="52.00" y="258.70" font-size="3" fill="#555">10<tspan font-size="2.2" dy="-1.2">2</tspan></text>
<path d="M53.50 250.50L53.50 251.90" stroke="#777" stroke-width="0.5" fill="none"/>
<text x="68.50" y="258.70" font-size="3" fill="#555">10<tspan font-size="2.2" dy="-1.2">3</tspan></text>
<path d="M70.00 250.50L70.00 251.90" stroke="#777" stroke-width="0.5" fill="none"/>
<text x="84.50" y="258.70" font-size="3" fill="#555">10<tspan font-size="2.2" dy="-1.2">4</tspan></text>
<path d="M86.00 250.50L86.00 251.90" stroke="#777" stroke-width="0.5" fill="none"/>
<text x="100.00" y="258.70" font-size="3" fill="#555">10<tspan font-size="2.2" dy="-1.2">5</tspan></text>
<path d="M101.50 250.50L101.50 251.90" stroke="#777" stroke-width="0.5" fill="none"/>
<text x="38.90" y="183.70" font-size="6.3" textLength="21.50" lengthAdjust="spacingAndGlyphs" fill="#222" stroke="#fff" stroke-width="1.6" stroke-opacity="0.55" paint-order="stroke" stroke-linejoin="round">1.0 &#177; 0.1</text>
<text x="109.30" y="183.70" font-size="6.3" text-anchor="end" textLength="22.50" lengthAdjust="spacingAndGlyphs" fill="#222" stroke="#fff" stroke-width="1.6" stroke-opacity="0.55" paint-order="stroke" stroke-linejoin="round">0.3 &#177; 0.1</text>
<text x="38.70" y="247.90" font-size="6.3" textLength="29.50" lengthAdjust="spacingAndGlyphs" fill="#222" stroke="#fff" stroke-width="1.6" stroke-opacity="0.55" paint-order="stroke" stroke-linejoin="round">71.6 &#177; 14.4</text>
<text x="109.30" y="247.90" font-size="6.3" text-anchor="end" textLength="28.50" lengthAdjust="spacingAndGlyphs" fill="#222" stroke="#fff" stroke-width="1.6" stroke-opacity="0.55" paint-order="stroke" stroke-linejoin="round">27.1 &#177; 14.4</text>
<clipPath id="c127_176"><rect x="127.50" y="176.50" width="73.00" height="73.00"/></clipPath>
<g clip-path="url(#c127_176)">
<ellipse cx="158" cy="222" rx="10" ry="12" fill="url(#bg)" opacity="1.0"/>
<ellipse cx="156.5" cy="238" rx="10" ry="13" fill="url(#bg)" opacity="0.3"/>
<path d="M165.3 223.1h.75M163.9 221.6h.75M161.6 220.5h.75M156.6 220.9h.75M155.2 223.7h.75M162.1 216.6h.75M158.1 221.5h.75M159.6 221.0h.75M154.7 219.4h.75M161.5 224.7h.75M154.4 215.9h.75M157.8 219.9h.75M150.9 217.8h.75M154.9 223.8h.75M159.3 219.5h.75M155.7 221.7h.75M155.7 223.1h.75M160.4 214.6h.75M157.1 223.4h.75M162.1 218.3h.75M148.3 220.4h.75M159.6 221.0h.75M159.3 225.0h.75M151.6 224.7h.75M152.5 229.1h.75M160.7 222.3h.75M153.4 219.5h.75M155.0 219.3h.75M159.7 224.3h.75M156.1 228.4h.75M159.2 223.0h.75M154.1 219.0h.75M158.5 222.7h.75M161.5 222.6h.75M158.6 221.6h.75M149.1 218.3h.75M159.9 210.6h.75M157.6 219.2h.75M154.0 226.0h.75M162.7 222.4h.75M150.8 212.0h.75M164.5 221.5h.75M155.0 213.6h.75M163.4 230.0h.75M157.2 222.3h.75M152.4 216.3h.75M157.8 224.9h.75M158.7 218.1h.75M159.4 223.9h.75M161.4 221.6h.75M154.0 216.4h.75M159.3 224.4h.75M160.2 215.7h.75M156.4 227.3h.75M153.9 221.8h.75M153.8 217.1h.75M160.2 213.7h.75M160.4 228.4h.75M154.3 227.7h.75M152.3 216.1h.75M162.1 228.6h.75M151.5 222.2h.75M158.0 220.5h.75M154.3 221.1h.75M150.7 220.3h.75M157.9 227.6h.75M156.7 222.1h.75M162.8 213.6h.75M166.0 230.5h.75M156.7 225.3h.75M161.3 216.8h.75M161.3 220.0h.75M155.4 217.6h.75M154.1 221.7h.75M163.5 223.2h.75M156.0 222.5h.75M157.3 218.9h.75M156.3 218.1h.75M156.9 225.1h.75M155.1 221.1h.75M160.2 231.2h.75M162.1 218.0h.75M156.0 224.9h.75M152.2 221.7h.75M157.6 218.2h.75M151.8 227.4h.75M155.0 222.0h.75M162.0 217.7h.75M166.2 220.1h.75M158.8 225.9h.75M153.4 216.2h.75M160.3 227.4h.75M148.9 224.4h.75M154.8 220.3h.75M163.1 227.3h.75M160.2 229.0h.75M152.2 224.1h.75M151.1 222.2h.75M160.6 229.4h.75M157.2 227.9h.75M155.1 217.5h.75M158.9 220.6h.75M155.2 220.6h.75M150.1 219.7h.75M160.4 215.1h.75M154.9 225.4h.75M153.6 221.9h.75M152.3 221.9h.75M158.3 227.6h.75M154.3 219.1h.75M159.7 221.3h.75M156.4 222.7h.75M161.5 219.6h.75M155.9 221.0h.75M154.9 224.8h.75M149.9 221.5h.75M153.2 227.2h.75M160.1 218.3h.75M168.9 222.4h.75M152.7 215.3h.75M153.5 221.0h.75M158.7 218.5h.75M159.2 227.4h.75M154.8 224.7h.75M157.7 223.7h.75M151.3 229.5h.75M156.3 227.7h.75M160.8 224.6h.75M163.6 218.5h.75M156.8 215.2h.75M156.4 221.4h.75M159.1 220.0h.75M161.6 218.7h.75M159.2 220.2h.75M154.6 214.3h.75M158.7 228.0h.75M161.1 216.6h.75M154.7 218.6h.75M152.3 224.0h.75M159.3 214.4h.75M158.8 225.5h.75M161.0 225.6h.75M157.7 220.1h.75M155.0 216.8h.75M155.7 219.4h.75M153.5 213.5h.75M153.8 227.5h.75M155.3 221.7h.75M155.6 218.3h.75M161.6 217.6h.75M152.8 224.0h.75M157.2 228.0h.75M155.2 216.0h.75M163.0 219.0h.75M158.4 213.9h.75M156.0 224.4h.75M160.5 222.2h.75M157.7 231.3h.75M155.6 221.0h.75M163.2 219.6h.75M160.1 218.4h.75M163.9 225.2h.75M161.8 214.4h.75M160.3 224.8h.75M157.9 222.6h.75M153.3 219.3h.75M160.1 217.6h.75M157.7 226.1h.75M160.0 229.6h.75M157.4 219.6h.75M154.8 223.8h.75M153.6 229.1h.75M160.1 218.8h.75M162.3 220.4h.75M156.3 216.2h.75M159.1 220.9h.75M162.7 221.1h.75M154.3 219.7h.75M156.1 218.3h.75M153.2 214.6h.75M161.9 215.6h.75M158.4 217.2h.75M155.7 224.3h.75M151.2 219.3h.75M156.8 217.8h.75M161.2 224.4h.75M156.3 224.0h.75M155.8 218.2h.75M159.9 218.8h.75M152.8 224.4h.75M157.6 223.1h.75M159.7 217.8h.75M154.5 222.6h.75M154.3 221.4h.75M158.4 226.4h.75M157.1 217.7h.75M156.6 225.4h.75M158.2 223.4h.75M158.3 217.1h.75M154.0 226.1h.75M154.9 225.5h.75M159.1 215.7h.75M161.7 230.2h.75M162.6 216.5h.75M154.3 217.5h.75M161.6 220.1h.75M160.3 224.9h.75M157.3 224.1h.75M159.3 221.1h.75M160.6 227.5h.75M164.2 223.3h.75M153.5 227.6h.75M159.7 233.9h.75M156.9 222.4h.75M156.7 210.2h.75M161.8 219.5h.75M160.6 216.8h.75M153.6 221.9h.75M156.4 221.9h.75M158.3 216.1h.75M152.2 216.4h.75M160.7 220.3h.75M157.2 220.6h.75M158.1 210.0h.75M158.7 225.8h.75M164.3 221.6h.75M157.6 221.5h.75M156.1 222.8h.75M164.0 217.0h.75M155.6 221.3h.75M155.5 226.1h.75M152.3 226.3h.75M161.5 223.5h.75M158.5 220.3h.75M159.3 217.9h.75M158.1 227.4h.75M157.0 223.8h.75M154.5 219.6h.75M154.6 211.8h.75M159.1 217.6h.75M158.0 212.9h.75M163.6 227.1h.75M154.6 222.3h.75M155.7 218.2h.75M153.7 220.3h.75M162.7 233.1h.75M152.9 226.9h.75M160.4 215.5h.75M162.9 220.9h.75M157.0 216.0h.75M160.2 213.8h.75M149.5 222.3h.75M156.0 232.3h.75M151.3 228.5h.75M158.1 221.7h.75M157.5 219.8h.75M154.6 222.4h.75M161.0 226.2h.75M158.8 214.9h.75M155.5 213.1h.75M155.6 230.0h.75M152.0 222.8h.75M156.8 228.8h.75M165.5 222.6h.75M154.8 228.2h.75M159.1 218.7h.75M155.4 223.8h.75M160.5 228.5h.75M159.2 226.1h.75M156.6 219.4h.75M150.8 225.6h.75M155.6 218.5h.75M162.0 215.0h.75M156.6 223.9h.75M159.9 227.9h.75M155.7 225.4h.75M150.5 215.8h.75M159.1 225.4h.75M158.7 224.6h.75M155.3 219.4h.75M156.1 210.2h.75M158.6 226.1h.75M155.3 225.5h.75M158.8 223.8h.75M156.7 213.6h.75M148.7 214.7h.75M157.0 226.1h.75M155.3 225.2h.75M154.4 223.8h.75M159.0 220.4h.75M155.7 223.3h.75M159.5 219.0h.75M161.6 220.1h.75M158.0 217.5h.75M151.7 222.7h.75M154.8 219.6h.75M160.9 225.9h.75M156.5 224.8h.75M154.5 217.8h.75M157.2 229.9h.75M159.4 216.4h.75M158.5 223.6h.75M159.9 226.5h.75M154.4 227.4h.75M156.5 211.4h.75M156.6 226.1h.75M157.4 227.1h.75M149.6 228.1h.75M156.6 211.3h.75M152.5 218.4h.75M162.7 221.0h.75M163.4 219.5h.75M163.8 227.7h.75M160.6 218.4h.75M155.7 227.1h.75M161.1 224.1h.75M156.8 214.8h.75M159.8 216.9h.75M154.1 219.3h.75M155.3 221.9h.75M159.3 226.1h.75M164.2 220.7h.75M157.4 225.7h.75M166.0 214.3h.75M167.9 207.5h.75M152.7 220.0h.75M157.4 223.6h.75M154.0 219.8h.75M157.0 216.9h.75M155.5 223.4h.75M157.3 230.4h.75M161.2 221.0h.75M161.1 218.2h.75M158.5 217.6h.75M157.5 230.5h.75M158.0 221.3h.75M158.0 224.3h.75M159.7 227.1h.75M157.6 226.5h.75M159.4 217.3h.75M152.6 225.9h.75M160.5 225.4h.75M164.1 223.8h.75M158.2 226.1h.75M152.2 218.9h.75M162.6 221.2h.75M156.3 219.1h.75M146.3 225.0h.75M156.7 218.5h.75M159.8 223.3h.75M159.0 216.5h.75M162.2 220.9h.75M159.9 219.8h.75M158.0 221.0h.75M150.1 222.1h.75M153.4 220.7h.75M158.2 220.5h.75M160.1 212.0h.75M153.7 226.6h.75M155.2 218.6h.75M159.3 220.4h.75M150.4 217.7h.75M150.2 226.1h.75M156.7 217.3h.75M158.5 223.8h.75M155.8 226.9h.75M148.9 229.1h.75M157.6 227.0h.75M152.6 224.3h.75M160.0 216.0h.75M157.2 227.4h.75M158.5 227.0h.75M160.0 225.4h.75M155.6 225.2h.75M160.7 221.9h.75M162.2 219.1h.75M159.0 226.5h.75M162.6 227.4h.75M155.2 216.8h.75M161.0 225.7h.75M158.6 222.7h.75M153.8 225.6h.75M157.3 222.8h.75M155.6 226.6h.75M155.5 226.2h.75M157.9 225.6h.75M161.5 215.2h.75M156.4 225.3h.75M158.0 221.8h.75M152.0 216.4h.75M158.0 224.8h.75M161.9 215.3h.75M160.6 225.7h.75M159.3 229.3h.75M155.6 219.3h.75M153.9 225.8h.75M157.2 223.6h.75M152.5 224.6h.75M152.9 215.4h.75M161.1 224.4h.75M154.1 222.2h.75M164.3 225.0h.75M152.2 221.6h.75M159.2 226.6h.75M153.1 222.9h.75M158.2 224.7h.75M153.6 227.9h.75M157.7 222.4h.75M157.0 226.1h.75M155.9 222.7h.75M159.5 224.0h.75M163.2 219.2h.75M155.3 225.2h.75M160.9 227.2h.75M157.9 221.3h.75M157.4 225.2h.75M165.8 223.6h.75M149.4 216.6h.75M155.0 223.2h.75M150.7 227.6h.75M156.4 219.4h.75M156.7 213.6h.75M171.9 222.6h.75M158.9 218.7h.75M164.3 230.3h.75M162.4 221.5h.75M155.9 221.6h.75M159.4 218.8h.75M163.8 222.8h.75M158.2 219.1h.75M158.3 217.6h.75M159.4 221.4h.75M151.9 218.0h.75M154.5 227.6h.75M158.8 216.4h.75M159.6 221.3h.75M154.1 218.5h.75M156.3 215.4h.75M157.1 229.2h.75M157.0 212.2h.75M160.2 228.2h.75M158.0 215.3h.75M158.2 222.1h.75M152.2 231.9h.75M153.6 212.1h.75M158.8 215.5h.75M151.5 227.6h.75M158.6 222.4h.75M155.1 219.2h.75M154.5 221.5h.75M160.0 217.3h.75M155.0 222.2h.75M154.3 228.4h.75M155.0 219.9h.75M157.8 222.3h.75M167.9 227.1h.75M149.6 230.6h.75M157.5 219.0h.75M156.6 223.0h.75M161.1 219.1h.75M156.1 218.8h.75M148.2 219.9h.75M162.5 218.8h.75M153.4 213.9h.75M157.3 212.7h.75M152.4 218.4h.75M153.4 222.3h.75M155.6 227.1h.75M160.8 219.3h.75M160.7 220.9h.75M155.3 224.6h.75M159.4 225.0h.75M156.1 221.1h.75M157.9 221.4h.75M158.1 230.1h.75M159.8 220.2h.75M155.2 219.5h.75M157.0 214.3h.75M158.3 223.6h.75M157.8 220.5h.75M154.5 230.3h.75M164.0 220.2h.75M155.8 225.3h.75M160.4 225.9h.75M158.3 229.1h.75M162.1 215.8h.75M149.3 228.7h.75M165.2 221.7h.75M156.7 221.2h.75M152.8 220.3h.75M158.0 219.9h.75M166.0 220.1h.75M159.4 211.2h.75M152.8 224.0h.75M155.7 221.9h.75M162.5 217.4h.75M152.2 221.4h.75M156.8 232.0h.75M156.4 223.4h.75M165.7 219.9h.75M156.4 229.4h.75M162.4 218.1h.75M154.9 221.0h.75M154.5 219.2h.75M161.3 220.6h.75M159.8 224.9h.75M151.0 224.3h.75M159.9 218.4h.75M159.9 221.1h.75M155.2 222.0h.75M158.3 219.8h.75M158.5 221.5h.75M155.6 218.4h.75M155.3 218.4h.75M154.9 221.9h.75M156.5 217.0h.75M152.5 223.5h.75M157.3 220.8h.75M151.8 217.5h.75M157.8 218.9h.75M157.2 219.5h.75M153.6 220.9h.75M160.7 222.2h.75M164.8 220.7h.75M162.5 217.8h.75M152.3 228.1h.75M162.3 225.7h.75M158.3 222.1h.75M157.3 225.9h.75M155.2 223.1h.75M157.4 220.5h.75M162.7 222.0h.75M159.5 233.6h.75M155.9 226.1h.75M154.9 226.3h.75M155.9 219.9h.75M159.7 224.3h.75M164.5 231.7h.75M153.5 223.5h.75M157.5 226.4h.75M156.0 227.3h.75M154.6 224.5h.75M159.0 228.7h.75M159.5 222.7h.75M152.1 223.9h.75M153.6 218.8h.75M162.0 233.4h.75M158.7 223.0h.75M159.4 222.1h.75M155.6 227.8h.75M156.0 219.5h.75M159.2 221.6h.75M155.6 218.1h.75M153.3 221.7h.75M157.5 219.9h.75M160.9 224.0h.75M153.6 221.1h.75M161.5 219.0h.75M160.1 220.3h.75M154.2 221.1h.75M157.5 219.3h.75M157.3 225.8h.75M159.9 224.6h.75M160.0 222.3h.75M152.6 216.3h.75M152.4 223.9h.75M161.3 215.9h.75M157.9 222.5h.75M159.0 221.8h.75M158.7 219.0h.75M163.2 217.9h.75M152.9 218.5h.75M161.6 230.8h.75M154.4 220.4h.75M160.2 220.7h.75M162.5 225.9h.75M152.3 223.5h.75M159.0 226.3h.75M156.4 216.2h.75M156.4 216.8h.75M157.6 236.4h.75M153.5 221.4h.75M153.8 220.3h.75M159.9 222.3h.75M160.6 226.0h.75M155.3 216.3h.75M152.0 222.9h.75M166.2 221.5h.75M161.6 224.6h.75M158.8 222.4h.75M153.6 219.3h.75M155.3 217.8h.75M158.4 210.8h.75M153.9 226.0h.75M163.5 215.1h.75M158.0 219.8h.75M158.9 229.0h.75M153.6 219.8h.75M154.1 224.3h.75M154.5 220.7h.75M158.5 224.7h.75M156.5 221.8h.75M156.4 219.4h.75M158.7 227.6h.75M158.3 220.4h.75M163.0 215.7h.75M156.7 220.2h.75M153.7 224.0h.75M157.4 216.7h.75M163.0 225.1h.75M155.4 225.0h.75M157.7 231.0h.75M156.1 218.8h.75M159.0 224.5h.75M158.4 214.2h.75M154.4 219.8h.75M156.6 222.1h.75M161.0 223.4h.75M161.6 221.4h.75M160.9 221.2h.75M160.7 218.9h.75M156.2 219.6h.75M156.1 223.0h.75M160.9 224.1h.75M153.1 224.4h.75M157.3 226.0h.75M150.5 226.9h.75M156.1 213.7h.75M154.8 219.3h.75M153.0 220.9h.75M159.6 218.8h.75M154.7 226.2h.75M156.1 224.9h.75M156.5 221.1h.75M154.7 222.2h.75M162.8 227.2h.75M155.6 220.1h.75M158.2 220.2h.75M152.6 225.6h.75M155.7 223.7h.75M156.3 227.9h.75M156.3 223.2h.75M155.3 224.9h.75M158.0 219.2h.75M163.3 217.5h.75M157.0 221.6h.75M157.0 209.9h.75M156.0 223.4h.75M166.9 225.9h.75M163.5 222.0h.75M159.6 220.6h.75M160.1 226.4h.75M154.8 221.4h.75M156.9 225.9h.75M158.3 231.3h.75M157.9 224.8h.75M154.3 225.8h.75M154.6 223.8h.75M159.4 222.7h.75M158.6 222.8h.75M149.6 221.9h.75M157.8 226.4h.75M162.2 214.5h.75M155.1 220.4h.75M158.4 224.5h.75M152.1 217.9h.75M160.6 221.2h.75M153.3 218.6h.75M152.8 223.6h.75M156.3 225.4h.75M166.3 228.0h.75M155.2 223.8h.75M152.8 218.5h.75M159.2 222.7h.75M158.3 224.1h.75M163.7 227.8h.75M152.8 212.2h.75M151.5 223.3h.75M156.3 213.6h.75M158.9 224.8h.75M158.8 223.6h.75M161.5 223.8h.75M151.9 225.5h.75M154.4 223.3h.75M157.0 218.8h.75M160.6 223.2h.75M159.3 226.9h.75M155.9 221.1h.75M153.7 221.7h.75M160.8 216.3h.75M161.0 226.7h.75M167.6 219.4h.75M156.8 218.4h.75M163.5 219.7h.75M153.0 217.8h.75M155.5 220.5h.75M155.0 227.2h.75M155.8 225.1h.75M154.2 227.9h.75M155.5 228.2h.75M157.3 217.7h.75M155.8 223.7h.75M159.9 228.2h.75M157.2 231.7h.75M157.5 215.4h.75M163.0 215.4h.75M158.7 223.7h.75M158.1 220.1h.75M157.4 217.3h.75M157.7 223.3h.75M159.6 218.2h.75M154.5 211.7h.75M161.8 221.5h.75M163.3 222.2h.75M161.8 224.4h.75M155.7 225.7h.75M151.6 222.4h.75M155.9 220.6h.75M158.1 218.7h.75M160.6 214.4h.75M156.8 219.7h.75M156.4 226.0h.75M163.2 224.5h.75M155.0 230.6h.75M161.5 220.9h.75M160.9 213.8h.75M152.5 225.2h.75M158.5 226.2h.75M155.4 216.5h.75M154.0 214.5h.75M150.6 222.3h.75M151.7 224.7h.75M159.0 216.7h.75M156.0 220.1h.75M158.5 218.2h.75M153.5 216.4h.75M156.3 215.8h.75M156.5 222.2h.75M151.7 220.0h.75M151.3 218.6h.75M159.1 210.1h.75M158.0 229.3h.75M154.0 217.4h.75M157.1 221.0h.75M160.0 216.6h.75M164.3 223.2h.75M154.2 215.0h.75M159.8 222.0h.75M165.4 220.7h.75M157.7 225.6h.75M163.0 216.8h.75M147.9 218.7h.75M162.9 220.5h.75M157.5 230.8h.75M150.5 215.1h.75M160.4 222.8h.75M161.4 218.7h.75M162.0 222.9h.75M162.0 224.4h.75M157.4 222.2h.75M154.7 222.7h.75M155.8 222.8h.75M157.4 219.0h.75M159.0 220.6h.75M155.7 214.3h.75M157.7 220.0h.75M160.8 218.2h.75M158.7 220.4h.75M166.0 224.8h.75M165.5 223.2h.75M153.2 223.6h.75M155.4 226.4h.75M152.6 211.1h.75M153.1 223.4h.75M159.5 221.4h.75M153.8 221.1h.75M153.6 215.8h.75M156.5 223.9h.75M160.5 226.6h.75M156.2 226.0h.75M156.2 221.2h.75M160.9 224.3h.75M159.2 225.6h.75M159.2 229.5h.75M161.0 226.9h.75M153.7 222.2h.75M158.3 221.9h.75M155.1 222.3h.75M161.3 222.5h.75M160.5 219.3h.75M153.6 224.9h.75M162.5 218.5h.75M153.1 218.0h.75M161.9 223.1h.75M158.3 219.0h.75M154.2 220.4h.75M153.3 212.4h.75M156.4 225.0h.75M157.4 221.5h.75M154.8 221.0h.75M159.6 223.6h.75M152.3 222.4h.75M157.5 218.4h.75M157.5 230.3h.75M150.5 219.5h.75M158.6 225.8h.75M152.8 229.5h.75M148.2 218.8h.75M155.2 221.9h.75M156.6 217.9h.75M160.9 226.1h.75M155.7 220.0h.75M163.0 216.7h.75M162.9 227.3h.75M161.6 225.5h.75M162.4 217.6h.75M158.8 226.7h.75M155.4 222.4h.75M159.9 233.4h.75M161.1 229.0h.75M158.4 219.1h.75M156.6 220.3h.75M151.6 217.7h.75M160.0 222.1h.75M158.8 221.7h.75M152.6 224.7h.75M157.9 221.9h.75M160.2 215.0h.75M157.1 217.9h.75M160.4 227.7h.75M160.3 226.6h.75M152.0 220.8h.75M156.4 220.9h.75M159.3 220.8h.75M160.9 221.6h.75M162.8 214.1h.75M150.3 225.4h.75M157.2 218.6h.75M160.2 222.1h.75M162.1 210.4h.75M163.8 222.5h.75M154.0 227.4h.75M156.1 211.7h.75M153.5 228.2h.75M160.6 223.6h.75M152.5 218.3h.75M161.9 214.5h.75M161.0 226.6h.75M159.3 222.6h.75M149.3 224.1h.75M154.9 220.3h.75M160.3 218.0h.75M152.2 225.3h.75M156.6 217.3h.75M157.1 225.5h.75M160.8 214.2h.75M158.5 217.4h.75M158.5 215.1h.75M155.8 227.3h.75M157.5 213.8h.75M157.0 216.5h.75M160.2 224.4h.75M156.8 222.5h.75M161.4 231.1h.75M151.1 229.6h.75M162.0 224.2h.75M156.8 224.5h.75M161.7 213.5h.75M157.8 217.6h.75M160.7 220.1h.75M163.1 220.7h.75M155.4 215.5h.75M157.8 217.4h.75M156.8 217.8h.75M158.3 226.2h.75M151.4 223.4h.75M156.8 220.0h.75M156.5 220.3h.75M154.5 222.8h.75M156.7 218.4h.75M151.7 220.3h.75M162.7 213.9h.75M159.2 224.4h.75M164.6 225.7h.75M154.2 223.1h.75M153.1 223.6h.75M158.5 223.1h.75M151.2 230.5h.75M158.3 222.4h.75M154.8 215.7h.75M156.2 216.9h.75M158.4 224.6h.75M157.6 226.2h.75M164.5 224.9h.75M159.8 225.2h.75M152.6 222.3h.75M161.2 214.9h.75M152.4 218.4h.75M157.8 213.5h.75M152.8 219.8h.75M154.4 215.5h.75M162.4 221.9h.75M155.4 220.7h.75M155.0 212.9h.75M155.4 224.7h.75M156.3 224.8h.75M162.9 215.4h.75M153.0 222.1h.75M152.8 224.6h.75M159.6 220.2h.75M151.5 225.3h.75M156.1 222.3h.75M161.7 226.2h.75M157.5 222.3h.75M155.7 220.7h.75M154.8 223.7h.75M154.0 224.9h.75M155.2 222.6h.75M158.0 219.5h.75M162.1 218.0h.75M161.1 219.8h.75M155.3 218.9h.75M154.7 222.4h.75M160.0 222.2h.75M150.6 221.1h.75M155.8 221.4h.75M156.2 222.2h.75M153.3 228.4h.75M153.7 226.8h.75M158.7 218.9h.75M151.2 223.3h.75M154.0 220.0h.75M155.0 221.0h.75M157.7 220.4h.75M152.3 218.7h.75M161.5 215.4h.75M156.2 210.5h.75M156.4 222.3h.75M156.0 226.7h.75M154.9 217.4h.75M153.7 223.7h.75M161.7 219.7h.75M158.1 222.7h.75M157.0 217.8h.75M161.1 220.4h.75M154.7 220.9h.75M159.7 210.9h.75M157.4 222.4h.75M154.0 220.8h.75M160.2 210.4h.75M151.7 224.3h.75M159.8 221.3h.75M154.0 222.3h.75M158.9 223.0h.75M162.5 219.6h.75M159.5 216.6h.75M155.1 219.4h.75M157.2 219.5h.75M156.0 231.3h.75M152.9 229.6h.75M153.2 219.2h.75M157.5 219.6h.75M159.3 222.8h.75M150.7 223.9h.75M157.0 218.3h.75M159.2 216.9h.75M157.7 230.0h.75M153.5 226.1h.75M161.2 214.5h.75M152.7 213.5h.75M159.7 217.7h.75M163.3 222.4h.75M149.7 223.8h.75M158.2 219.9h.75M158.5 214.2h.75M158.1 222.4h.75M154.4 224.1h.75M156.1 221.4h.75M152.1 219.2h.75M157.8 223.9h.75M159.3 221.1h.75M154.8 216.4h.75M153.8 221.8h.75M155.5 215.6h.75M157.2 225.7h.75M157.5 223.5h.75M156.9 216.9h.75M157.5 222.3h.75M152.4 227.0h.75M147.1 211.8h.75M159.5 220.7h.75M162.6 228.7h.75M152.0 214.4h.75M154.8 220.6h.75M158.4 215.0h.75M160.8 221.1h.75M159.7 210.6h.75M162.0 214.1h.75M157.0 219.0h.75M158.8 222.0h.75M158.8 223.1h.75M155.6 223.3h.75M161.7 226.5h.75M159.6 224.5h.75M160.9 224.7h.75M155.8 217.0h.75M161.1 220.7h.75M153.3 235.7h.75M158.7 231.6h.75M147.5 225.1h.75M153.5 224.7h.75M160.0 225.8h.75M155.5 219.5h.75M157.9 230.2h.75M151.2 219.7h.75M163.0 221.0h.75M159.4 231.2h.75M157.1 212.0h.75M158.8 223.0h.75M158.4 213.6h.75M162.5 218.4h.75M158.0 220.9h.75M151.7 219.8h.75M156.3 222.1h.75M162.0 217.9h.75M159.3 220.9h.75M155.7 216.0h.75M159.5 219.6h.75M157.7 215.1h.75M159.5 224.3h.75M151.3 215.5h.75M153.9 224.5h.75M159.7 219.5h.75M156.4 220.0h.75M158.5 226.7h.75M164.5 221.9h.75M156.1 212.8h.75M158.1 223.6h.75M155.2 208.2h.75M154.9 222.6h.75M156.9 219.5h.75M151.8 215.0h.75M149.4 221.7h.75M162.3 220.0h.75M156.8 230.5h.75M161.4 219.4h.75M157.7 230.2h.75M157.8 227.6h.75M159.7 218.6h.75M159.9 217.6h.75M152.8 227.4h.75M161.7 220.7h.75M153.6 222.1h.75M158.0 220.2h.75M166.7 215.9h.75M157.5 219.7h.75M163.4 217.0h.75M155.9 214.4h.75M159.5 220.0h.75M157.4 229.5h.75M158.8 228.7h.75M154.1 221.1h.75M153.8 222.0h.75M158.5 223.7h.75M151.4 227.6h.75M154.1 222.8h.75M159.6 219.2h.75M154.9 219.6h.75M153.9 226.5h.75M153.1 233.3h.75M157.8 218.5h.75M155.9 212.0h.75M157.8 225.1h.75M156.5 221.0h.75M164.1 222.0h.75M155.6 227.0h.75M150.0 221.7h.75M157.7 215.3h.75M157.2 212.4h.75M157.8 221.1h.75M151.3 216.1h.75M161.4 222.7h.75M157.1 215.5h.75M157.1 219.8h.75M151.4 214.6h.75M159.0 219.7h.75M157.0 219.3h.75M162.2 224.1h.75M155.7 227.5h.75M152.7 220.5h.75M157.7 217.4h.75M153.8 230.3h.75M158.8 223.0h.75M153.2 224.2h.75M156.8 224.2h.75M156.4 228.0h.75M157.1 226.0h.75M155.3 224.5h.75M154.2 224.9h.75M157.0 217.4h.75M155.1 218.6h.75M157.8 220.9h.75M156.2 221.8h.75M148.9 221.5h.75M157.0 222.8h.75M162.4 221.5h.75M158.3 219.4h.75M159.4 213.9h.75M158.9 225.2h.75M155.5 224.1h.75M152.3 217.3h.75M160.2 223.7h.75M161.1 223.2h.75M159.3 221.7h.75M158.8 212.9h.75M158.7 215.8h.75M157.1 218.6h.75M158.2 228.8h.75M157.3 217.4h.75M158.4 219.8h.75M153.8 216.3h.75M154.9 219.1h.75M159.3 223.0h.75M156.0 211.9h.75M148.3 208.4h.75M157.7 224.4h.75M148.8 221.5h.75M164.2 218.6h.75M159.9 225.8h.75M159.7 225.8h.75M154.8 211.8h.75M153.1 220.6h.75M156.5 226.5h.75M157.3 218.3h.75M154.4 219.9h.75M157.8 225.8h.75M159.8 220.1h.75M159.4 215.9h.75M153.4 218.2h.75M149.3 215.3h.75M157.3 223.9h.75M154.8 213.5h.75M158.9 226.0h.75M163.2 213.8h.75M163.2 221.6h.75M158.3 214.6h.75M161.3 219.9h.75M163.3 226.1h.75M157.4 226.5h.75M158.3 227.4h.75M160.4 221.0h.75M157.1 221.9h.75M155.4 222.4h.75M154.5 224.2h.75M157.3 219.5h.75M155.0 226.4h.75M160.2 222.9h.75M156.1 226.6h.75M162.6 223.6h.75M161.7 224.5h.75M152.8 218.0h.75M161.2 219.5h.75M155.8 215.4h.75M162.3 220.0h.75M159.2 220.6h.75M157.1 225.2h.75M159.7 215.6h.75M155.3 236.3h.75M158.5 220.8h.75M158.7 227.2h.75M156.8 226.2h.75M158.7 209.8h.75M153.7 220.2h.75M159.3 228.2h.75M152.9 210.2h.75M159.6 224.9h.75M159.0 217.2h.75M159.9 219.2h.75M155.3 222.4h.75M168.3 212.8h.75M156.5 222.3h.75M157.9 218.4h.75M154.6 217.9h.75M162.5 224.6h.75M155.6 237.5h.75M160.9 223.0h.75M153.9 223.9h.75M158.5 221.1h.75M156.0 218.0h.75M160.7 222.6h.75M156.3 228.4h.75M154.3 222.2h.75M159.0 225.5h.75M153.1 220.3h.75M153.9 233.0h.75M160.2 213.8h.75M150.6 224.1h.75M160.1 223.9h.75M155.9 222.6h.75M154.1 216.2h.75M158.3 216.1h.75M159.7 220.3h.75M155.3 221.8h.75M156.8 215.8h.75M160.3 216.5h.75M160.1 223.9h.75M157.2 226.1h.75M154.7 218.8h.75M154.0 218.1h.75M155.3 218.0h.75M159.9 232.7h.75M159.5 223.6h.75M158.5 221.0h.75M162.4 226.0h.75M156.4 231.9h.75M156.1 226.7h.75M156.1 214.8h.75M164.3 220.9h.75M150.1 219.5h.75M158.5 219.8h.75M159.1 215.7h.75M157.7 219.5h.75M165.9 216.3h.75M161.7 222.9h.75M160.2 221.5h.75M154.3 214.8h.75M159.3 213.5h.75M156.2 219.1h.75M157.6 224.3h.75M158.2 223.6h.75M155.8 221.0h.75M159.8 206.1h.75M163.3 219.0h.75M161.2 217.9h.75M158.3 219.8h.75M150.6 215.7h.75M161.4 219.3h.75M161.4 218.3h.75M156.8 233.8h.75M155.8 224.6h.75M159.9 220.4h.75M154.6 221.1h.75M160.4 220.8h.75M153.7 222.2h.75M154.2 219.4h.75M157.6 221.2h.75M152.3 226.1h.75M157.6 225.2h.75M159.4 222.7h.75M152.8 227.5h.75M160.9 222.4h.75M155.5 216.8h.75M159.5 213.3h.75M158.3 218.1h.75M155.9 221.0h.75M155.7 223.2h.75M151.5 226.3h.75M155.1 218.7h.75M154.8 217.6h.75M163.4 224.9h.75M161.2 226.7h.75M152.7 219.1h.75M160.4 222.9h.75M158.4 227.7h.75M156.2 222.8h.75M159.2 221.1h.75M160.4 211.7h.75M155.5 227.4h.75M156.6 224.3h.75M158.2 221.9h.75M154.1 219.2h.75M158.2 215.6h.75M157.3 220.9h.75M155.2 220.8h.75M154.6 226.4h.75M158.7 215.7h.75M160.7 228.0h.75M158.8 221.5h.75M154.5 226.8h.75M160.2 216.8h.75M158.2 222.9h.75M159.7 226.9h.75M161.7 221.8h.75M154.4 214.5h.75M157.1 219.8h.75M155.5 223.8h.75M154.5 214.9h.75M164.7 214.7h.75M160.9 222.4h.75M151.3 216.9h.75M159.1 224.5h.75M155.6 215.9h.75M161.7 212.9h.75M157.9 217.7h.75M157.0 228.2h.75M158.1 217.3h.75M155.8 238.6h.75M157.1 246.3h.75M150.8 233.5h.75M161.5 243.5h.75M156.7 230.1h.75M158.1 234.6h.75M147.0 235.7h.75M146.7 248.4h.75M141.4 231.2h.75M154.8 248.2h.75M154.6 225.2h.75M159.6 236.4h.75M163.5 245.6h.75M154.5 243.7h.75M154.4 229.1h.75M158.1 227.2h.75M163.8 245.3h.75M151.5 226.9h.75M159.1 242.7h.75M154.5 233.3h.75M154.1 237.6h.75M150.2 244.9h.75M159.3 225.9h.75M155.7 240.5h.75M154.4 238.2h.75M155.1 236.9h.75M153.9 223.0h.75M159.8 240.4h.75M158.0 238.8h.75M163.5 231.3h.75M160.3 226.8h.75M154.8 237.9h.75M156.4 238.4h.75M152.7 218.9h.75M170.7 225.4h.75M154.7 229.4h.75M158.7 244.5h.75M162.9 245.8h.75M148.7 242.8h.75M151.5 239.8h.75M153.8 218.8h.75M150.6 239.5h.75M149.2 233.3h.75M153.1 247.8h.75M156.0 243.8h.75M156.0 244.7h.75M147.2 228.8h.75M159.5 238.4h.75M158.0 227.0h.75M150.2 245.4h.75M156.9 227.4h.75M154.8 235.8h.75M153.1 230.6h.75M150.7 233.6h.75M152.3 241.6h.75M150.9 232.8h.75M158.2 239.6h.75M157.7 229.0h.75M154.9 232.1h.75M153.7 246.4h.75M146.2 216.7h.75M162.1 229.1h.75M157.7 235.9h.75M156.2 247.7h.75M153.2 233.5h.75M154.7 240.9h.75M149.7 231.3h.75M148.6 242.5h.75M155.3 227.2h.75M147.2 244.9h.75M160.2 211.8h.75M161.6 221.3h.75M147.8 239.1h.75M157.3 229.9h.75M156.4 246.7h.75M158.0 247.4h.75M159.7 234.0h.75M160.4 243.0h.75M165.2 242.0h.75M156.0 223.3h.75M160.3 242.7h.75M147.4 236.0h.75M155.2 248.7h.75M149.5 248.9h.75M163.1 232.0h.75M168.0 232.4h.75M158.7 239.3h.75M149.1 243.3h.75M155.3 234.0h.75M156.0 236.6h.75M156.9 242.9h.75M161.5 241.3h.75M160.8 247.7h.75M142.1 239.7h.75M163.0 229.9h.75M153.3 222.3h.75M153.0 244.6h.75M163.2 234.7h.75M154.5 234.6h.75M148.7 235.1h.75M149.0 223.9h.75M156.2 234.2h.75M160.6 215.0h.75M163.7 234.1h.75M155.0 229.8h.75M164.3 241.5h.75M153.5 235.7h.75M163.5 239.0h.75M157.1 243.9h.75M157.1 231.0h.75M154.7 235.6h.75M157.4 234.5h.75M152.3 238.2h.75M155.2 220.4h.75M152.5 244.5h.75M156.3 229.2h.75M154.8 237.0h.75M154.7 246.3h.75M164.9 232.6h.75M155.8 235.2h.75M152.8 226.8h.75M154.3 228.3h.75M159.3 218.8h.75M154.8 247.5h.75M155.1 227.5h.75M154.5 240.8h.75M156.7 240.4h.75M157.9 231.9h.75M158.2 238.0h.75M147.4 236.7h.75M150.3 233.2h.75M142.2 238.0h.75M160.0 238.0h.75M161.6 228.6h.75M162.6 226.2h.75M156.6 230.1h.75M161.8 238.6h.75M147.9 240.3h.75M151.8 245.8h.75M152.8 238.6h.75M160.6 247.2h.75M164.5 238.6h.75M153.4 241.0h.75M157.8 235.0h.75M157.3 237.5h.75M146.9 227.0h.75M152.0 237.5h.75M148.4 232.3h.75M154.2 245.9h.75M154.9 234.8h.75M155.0 213.2h.75M158.4 242.9h.75M151.0 242.9h.75M160.5 222.7h.75M147.2 235.4h.75M156.2 236.9h.75M157.9 217.2h.75M151.8 243.4h.75M147.6 241.3h.75M159.2 239.6h.75M152.4 228.2h.75M159.9 231.2h.75M159.8 231.9h.75M155.8 241.7h.75M155.9 228.8h.75M157.8 240.8h.75M151.0 218.3h.75M158.7 238.8h.75M156.9 232.6h.75M156.8 238.3h.75M155.1 221.4h.75M155.2 239.1h.75M151.0 215.8h.75M148.4 228.4h.75M152.6 248.6h.75M157.0 234.4h.75M148.1 228.9h.75M156.7 245.7h.75M151.6 237.0h.75M171.2 239.3h.75M150.6 242.9h.75M150.9 227.9h.75M160.7 244.4h.75M161.7 218.7h.75M157.2 223.5h.75M160.4 231.8h.75M149.5 231.5h.75M159.4 243.8h.75M153.1 244.0h.75M150.7 240.6h.75M154.0 242.2h.75M153.5 241.5h.75M148.7 236.7h.75M167.4 220.5h.75M153.5 217.0h.75M152.0 217.0h.75M160.3 236.9h.75M155.5 235.3h.75M162.7 236.1h.75M154.5 239.3h.75M157.7 235.3h.75M156.3 228.5h.75M156.7 224.0h.75M154.8 220.5h.75M155.3 248.1h.75M164.5 245.4h.75M152.3 225.3h.75M153.0 234.9h.75M154.1 241.2h.75M157.9 232.0h.75M160.7 238.9h.75M148.9 247.6h.75M157.2 221.9h.75M154.9 230.8h.75M154.4 236.9h.75M156.7 230.9h.75M157.3 245.0h.75M156.6 239.0h.75M148.5 228.8h.75M155.4 245.0h.75M163.8 242.9h.75M153.8 232.7h.75M158.9 233.4h.75M154.7 224.3h.75M151.7 236.6h.75M151.1 245.0h.75M153.8 246.2h.75M162.6 242.4h.75M160.1 244.6h.75M152.2 232.0h.75M161.0 233.1h.75M155.2 247.9h.75M152.3 241.3h.75M158.1 230.2h.75M151.2 241.7h.75M147.8 244.6h.75M162.5 243.5h.75M146.4 238.2h.75M158.6 232.7h.75M148.0 240.8h.75M154.8 238.5h.75M153.6 231.3h.75M144.6 240.2h.75M155.3 226.3h.75M155.7 239.3h.75M151.2 234.6h.75M155.5 245.7h.75M161.0 238.1h.75M152.2 246.5h.75M149.9 235.3h.75M157.8 229.8h.75M159.1 241.3h.75M168.6 236.4h.75M160.5 238.5h.75M158.1 231.9h.75M163.1 242.1h.75M150.8 237.8h.75M161.4 218.1h.75M153.1 235.1h.75M152.7 240.2h.75M161.5 247.6h.75M157.1 232.1h.75M162.7 230.1h.75M148.4 247.4h.75M157.3 231.8h.75M153.2 238.1h.75M154.5 241.4h.75M146.1 243.7h.75M160.7 237.3h.75M157.0 227.4h.75M150.8 246.1h.75M149.0 233.4h.75M151.4 232.6h.75M155.4 245.0h.75M154.2 227.8h.75M158.4 232.9h.75M156.0 235.0h.75M157.1 230.6h.75M159.7 220.2h.75M157.6 244.3h.75M160.4 244.0h.75M149.8 239.3h.75M156.2 233.6h.75M154.1 239.0h.75M156.5 242.8h.75M155.7 228.0h.75M152.7 234.2h.75M154.1 232.2h.75M160.8 243.3h.75M153.1 239.5h.75M149.6 225.7h.75M159.0 231.7h.75M154.6 228.6h.75M156.6 238.5h.75M151.7 231.6h.75M154.9 248.2h.75M161.6 236.6h.75M160.1 233.3h.75M156.7 226.8h.75M154.6 235.0h.75M147.7 244.4h.75M157.6 243.1h.75M158.3 225.5h.75M166.3 235.0h.75M157.9 227.9h.75M160.9 238.3h.75M150.3 231.7h.75M162.1 232.0h.75M160.4 231.6h.75M162.9 236.3h.75M159.4 232.7h.75M158.3 222.1h.75M163.5 241.7h.75M152.6 232.5h.75M159.3 247.6h.75M161.5 241.8h.75M152.0 242.5h.75M150.2 238.7h.75M158.2 248.5h.75M156.7 234.2h.75M159.1 228.4h.75M159.3 240.1h.75M152.1 213.2h.75M157.7 233.9h.75M161.8 239.0h.75M154.2 233.4h.75M154.6 248.1h.75M150.3 243.3h.75M160.2 238.1h.75M166.0 233.6h.75M149.1 246.7h.75M159.9 231.1h.75M160.6 233.4h.75M153.2 243.6h.75M154.2 242.3h.75M152.1 235.2h.75M156.9 220.6h.75M159.4 242.9h.75M156.7 248.1h.75M160.4 235.6h.75M163.4 231.2h.75M162.1 232.8h.75M152.5 226.1h.75M165.1 241.8h.75M158.5 243.4h.75M156.8 242.4h.75M165.8 226.2h.75M143.4 230.4h.75M148.0 224.5h.75M159.7 222.9h.75M154.9 225.2h.75M151.3 223.2h.75M163.8 235.4h.75M158.6 240.8h.75M149.6 242.5h.75M152.8 236.9h.75M160.4 231.1h.75M165.2 236.9h.75M146.0 242.0h.75M157.4 234.4h.75M154.2 237.5h.75M147.3 234.3h.75M155.3 232.4h.75M148.0 237.3h.75M153.4 227.2h.75M164.3 246.2h.75M158.7 223.3h.75M160.1 241.1h.75M159.2 225.1h.75M161.1 244.6h.75M150.2 229.9h.75M154.3 233.1h.75M160.5 227.1h.75M152.5 236.5h.75M153.9 240.6h.75M164.0 225.0h.75M153.1 247.9h.75M152.0 231.9h.75M159.1 239.4h.75M157.6 244.7h.75M152.8 241.8h.75M159.2 240.7h.75M159.0 235.3h.75M156.6 236.9h.75M171.1 238.3h.75M163.1 247.5h.75M160.3 224.2h.75M161.4 232.7h.75M171.2 226.1h.75M161.8 228.6h.75M152.6 230.0h.75M157.8 246.6h.75M153.3 248.8h.75M157.5 226.6h.75M157.5 237.7h.75M155.9 227.1h.75M153.7 240.9h.75M160.4 248.1h.75M148.1 242.1h.75M160.4 244.6h.75M156.3 235.7h.75M157.6 219.8h.75M144.1 219.7h.75M164.8 236.1h.75M147.4 242.0h.75M151.8 248.1h.75M159.5 234.0h.75M153.1 237.6h.75M154.1 239.2h.75M144.9 246.3h.75M154.0 236.4h.75M157.3 227.4h.75M159.7 246.5h.75M154.8 240.6h.75M157.3 240.3h.75M158.5 225.9h.75M152.8 236.9h.75M152.4 222.0h.75M166.2 219.5h.75M151.9 234.9h.75M162.5 233.2h.75M156.6 242.0h.75M153.0 236.7h.75M157.9 231.9h.75M155.1 243.7h.75M157.8 225.9h.75M152.3 238.1h.75M155.8 234.2h.75M154.2 235.2h.75M160.1 242.1h.75M155.8 220.5h.75M149.1 238.0h.75M154.3 229.9h.75M155.7 238.0h.75M151.6 240.4h.75M163.0 233.8h.75M158.3 233.7h.75M160.5 226.9h.75M152.3 241.8h.75M154.2 231.1h.75M161.4 240.9h.75M148.9 224.6h.75M158.1 248.9h.75M156.7 228.1h.75M153.7 247.1h.75M156.7 233.1h.75M150.7 241.8h.75M157.4 235.7h.75M150.0 242.9h.75M149.7 237.0h.75M163.4 248.1h.75M152.7 242.9h.75M145.4 242.9h.75M152.3 230.9h.75M138.3 248.3h.75M155.9 237.6h.75M161.0 224.1h.75M158.0 241.2h.75M165.0 235.2h.75M159.3 232.7h.75M151.1 237.4h.75M157.1 239.0h.75M164.1 220.4h.75M158.8 241.4h.75M157.1 228.3h.75M149.7 236.9h.75M160.2 223.2h.75M152.5 238.6h.75M158.1 238.5h.75M151.1 243.3h.75M165.9 234.4h.75M150.2 226.6h.75M156.9 235.8h.75M169.7 228.9h.75M151.8 230.8h.75M159.4 231.3h.75M161.3 236.6h.75M160.7 226.2h.75M146.2 233.1h.75M157.4 235.8h.75M145.4 232.7h.75M166.0 234.8h.75M156.6 247.8h.75M153.9 240.8h.75M159.7 225.3h.75M158.7 233.3h.75M150.2 243.5h.75M164.6 231.3h.75M155.0 237.7h.75M147.2 236.7h.75M163.4 241.6h.75M164.1 235.4h.75M162.7 235.8h.75M159.1 229.5h.75M151.7 240.1h.75M161.1 228.9h.75M160.4 236.8h.75M164.5 235.0h.75M152.3 243.9h.75M161.5 236.3h.75M161.1 237.8h.75M148.6 236.5h.75M147.9 230.7h.75M152.6 229.0h.75M156.7 230.9h.75M158.6 246.9h.75M155.1 231.5h.75M155.9 233.5h.75M155.7 233.1h.75M156.7 243.1h.75M158.8 228.9h.75M156.0 241.8h.75M157.6 238.0h.75M153.9 234.4h.75M160.4 241.4h.75M153.7 225.9h.75M164.7 244.2h.75M156.1 238.9h.75M157.7 228.3h.75M154.5 244.4h.75M157.1 247.1h.75M156.4 224.3h.75M153.1 234.6h.75M150.3 232.5h.75M156.5 242.5h.75M157.1 248.8h.75M159.1 220.4h.75M162.7 237.2h.75M154.7 235.9h.75M146.0 245.7h.75M155.5 236.6h.75M146.8 225.9h.75M149.6 235.3h.75M161.6 228.0h.75M159.2 230.2h.75M153.0 237.4h.75M153.0 232.8h.75M155.8 239.4h.75M147.2 223.8h.75M154.5 248.0h.75M165.8 243.2h.75M150.8 225.8h.75M161.5 218.2h.75M152.8 229.5h.75M161.6 235.0h.75M160.1 248.4h.75M154.0 232.4h.75M152.0 247.5h.75M155.5 247.6h.75M158.8 237.1h.75M158.4 247.6h.75M164.5 239.9h.75M160.5 231.3h.75M142.6 226.8h.75M154.2 235.9h.75M146.0 245.7h.75M154.3 225.2h.75M159.5 223.0h.75M149.4 241.8h.75M150.2 213.4h.75M154.8 233.2h.75M164.5 243.4h.75M159.1 224.4h.75M165.4 227.9h.75M156.3 234.5h.75M151.2 235.9h.75M157.6 239.0h.75M161.7 246.2h.75M163.4 248.5h.75M156.1 238.0h.75M152.6 234.1h.75M152.3 236.7h.75M149.1 239.6h.75M156.9 248.4h.75M163.3 238.2h.75M145.0 229.5h.75M163.6 241.6h.75M158.0 248.2h.75M149.8 239.9h.75M160.4 229.3h.75M160.4 230.8h.75M157.2 235.6h.75M160.6 239.7h.75M156.6 234.8h.75M159.2 224.3h.75M165.8 230.6h.75M162.0 241.5h.75M152.9 244.3h.75M152.2 224.8h.75M155.1 233.8h.75M155.1 222.5h.75M156.7 232.1h.75M159.7 237.6h.75M156.5 234.0h.75M158.2 231.9h.75M156.4 226.5h.75M159.5 220.8h.75M150.1 236.6h.75M164.6 234.6h.75M158.7 222.8h.75M159.5 240.8h.75M162.0 248.7h.75M160.2 220.0h.75M157.6 242.7h.75M155.4 223.0h.75M147.8 241.5h.75M154.8 237.0h.75M154.7 239.5h.75M168.9 231.0h.75M146.7 239.5h.75M156.7 246.8h.75M162.7 235.4h.75M161.4 235.8h.75M162.8 240.4h.75M149.8 244.2h.75M151.4 222.8h.75M159.6 237.5h.75M154.9 231.0h.75M165.3 241.3h.75M157.6 246.0h.75M157.4 239.7h.75M158.7 248.2h.75M155.0 228.4h.75M157.0 233.5h.75M152.9 228.4h.75M156.2 237.5h.75M153.9 237.8h.75M157.8 235.3h.75M149.1 226.5h.75M148.7 236.3h.75M158.8 233.2h.75M157.6 242.3h.75M151.4 234.7h.75M155.3 247.1h.75M151.0 239.0h.75M167.0 220.9h.75M148.3 235.5h.75M165.3 224.6h.75M152.2 245.4h.75M155.1 236.8h.75M154.5 240.9h.75M161.3 224.4h.75M160.7 217.5h.75M154.9 232.2h.75M151.7 234.8h.75M167.2 223.8h.75M163.8 237.8h.75M157.2 239.7h.75M154.9 242.6h.75M156.9 244.1h.75M162.7 233.8h.75M151.4 237.9h.75M156.6 242.2h.75M152.4 227.9h.75M163.3 248.6h.75M165.8 244.9h.75M156.0 235.1h.75M159.3 231.5h.75M154.9 244.3h.75M151.6 245.2h.75M159.1 245.6h.75M155.4 238.9h.75M164.1 243.2h.75M157.7 229.1h.75M147.2 243.3h.75M158.3 223.6h.75M156.2 240.7h.75M166.3 241.9h.75M156.4 223.5h.75M158.7 227.0h.75M157.7 246.2h.75M149.2 232.5h.75M157.1 239.8h.75M154.8 231.3h.75M169.0 246.1h.75M151.5 243.9h.75M152.1 243.2h.75M153.1 238.4h.75M152.9 235.0h.75M156.8 242.4h.75M162.1 238.5h.75M149.7 235.8h.75M148.5 225.2h.75M146.9 234.5h.75M162.2 242.4h.75M163.4 233.1h.75M148.5 240.2h.75M148.0 235.9h.75M157.2 228.2h.75M162.2 229.3h.75M161.8 230.7h.75M157.5 234.7h.75M160.0 234.9h.75M158.2 246.9h.75M153.6 227.7h.75M166.4 219.4h.75M156.5 243.2h.75M150.7 233.2h.75M154.1 236.2h.75M162.2 242.3h.75M149.9 245.5h.75M162.4 238.3h.75M167.4 245.6h.75M158.5 231.9h.75M150.5 231.0h.75M152.1 233.2h.75M150.0 232.0h.75M155.1 247.4h.75M155.6 235.9h.75M159.6 246.6h.75M150.3 234.5h.75M166.2 245.6h.75M162.0 236.3h.75M161.1 234.8h.75M153.1 237.1h.75M165.5 238.7h.75M154.7 232.2h.75M165.9 225.3h.75M151.8 233.9h.75M154.1 221.4h.75M166.2 217.5h.75M161.7 212.8h.75M155.7 231.9h.75M157.5 223.0h.75M152.5 234.5h.75M155.5 221.3h.75M153.1 246.9h.75M154.3 240.5h.75M158.9 240.1h.75M157.1 246.3h.75M160.5 232.3h.75M161.1 225.8h.75M163.0 228.2h.75M159.8 222.0h.75M155.6 235.7h.75M159.5 238.5h.75M151.8 239.1h.75M160.4 232.4h.75M156.2 247.7h.75M158.8 240.0h.75M151.0 236.0h.75M163.6 220.6h.75M153.5 245.4h.75M158.6 230.8h.75M156.4 233.3h.75M161.4 239.3h.75M154.5 238.2h.75M151.3 247.2h.75M146.6 231.5h.75M154.9 238.8h.75M150.3 239.8h.75M159.3 237.6h.75M164.0 243.3h.75M144.9 235.1h.75M149.8 247.9h.75M158.1 231.2h.75M162.9 224.8h.75M158.1 237.0h.75M158.2 247.7h.75M159.1 232.9h.75M159.5 231.9h.75M165.1 234.3h.75M159.7 238.8h.75M150.0 235.8h.75M154.0 240.1h.75M157.6 222.3h.75M155.1 242.5h.75M153.7 229.8h.75M160.1 241.3h.75M150.8 227.1h.75M156.7 237.8h.75M167.5 219.4h.75M157.8 244.0h.75M164.2 234.7h.75M159.1 228.5h.75M145.3 235.5h.75M158.5 220.4h.75M152.0 242.5h.75M149.4 235.5h.75M150.9 235.0h.75M148.2 237.7h.75M153.2 231.6h.75M162.5 229.0h.75M160.0 236.8h.75M147.5 246.7h.75M155.9 232.3h.75M153.8 228.3h.75M155.5 245.4h.75M160.4 237.9h.75M153.5 237.1h.75M164.1 226.7h.75M146.8 239.1h.75M154.5 221.8h.75M158.9 234.7h.75M150.0 242.5h.75M153.2 247.2h.75M149.6 226.2h.75M157.3 244.7h.75M153.2 244.2h.75M160.6 236.3h.75M156.7 237.4h.75M154.5 229.6h.75M157.8 241.1h.75M156.8 221.1h.75M162.1 246.0h.75M157.7 233.9h.75M160.6 242.7h.75M149.3 242.1h.75M167.5 232.0h.75M159.7 226.1h.75M148.9 219.6h.75M156.7 234.8h.75M156.2 223.6h.75M157.6 235.8h.75M155.2 240.9h.75M159.1 233.5h.75M154.0 229.1h.75M157.7 247.8h.75M152.9 235.6h.75M180.2 226.7h.75M182.2 229.3h.75M176.1 226.7h.75M177.1 230.8h.75M186.3 229.1h.75M179.2 231.5h.75M176.8 237.8h.75M178.9 222.3h.75M178.1 239.7h.75M176.3 225.0h.75M178.5 232.8h.75M179.6 229.3h.75M179.6 226.1h.75M181.0 214.5h.75M175.0 239.4h.75M175.6 222.9h.75M181.7 222.7h.75M178.4 235.6h.75M182.9 228.7h.75M180.4 241.5h.75M175.8 239.9h.75M181.0 233.1h.75M176.9 229.9h.75M180.3 233.5h.75M182.9 219.0h.75M185.3 229.4h.75M179.4 229.2h.75M181.5 224.9h.75M180.4 229.9h.75M181.7 218.0h.75M172.8 234.5h.75M178.6 237.1h.75M180.4 219.1h.75M180.9 229.2h.75M177.6 238.9h.75M181.8 231.1h.75M182.6 221.0h.75M179.8 221.3h.75M179.0 234.1h.75M178.7 240.9h.75M180.0 220.6h.75M182.8 228.4h.75M183.6 222.7h.75M178.4 226.2h.75M177.1 230.3h.75M177.5 227.9h.75M182.2 223.4h.75M180.2 242.8h.75M180.4 227.0h.75M180.9 226.9h.75M180.6 235.9h.75M179.3 228.2h.75M176.8 226.7h.75M178.0 234.7h.75M179.9 221.0h.75M180.7 233.3h.75M178.6 235.3h.75M178.5 232.7h.75M183.3 226.9h.75M178.4 228.1h.75M180.2 216.2h.75M178.8 227.2h.75M177.3 230.1h.75M175.6 234.2h.75M178.2 229.1h.75M177.4 225.4h.75M181.9 222.3h.75M176.5 227.8h.75M178.5 229.1h.75M181.4 236.5h.75M179.3 228.2h.75M180.9 224.7h.75M181.8 227.4h.75M175.2 224.8h.75M178.5 226.5h.75M177.1 212.8h.75M183.2 217.1h.75M179.3 219.9h.75M180.9 231.4h.75M184.1 227.6h.75M178.7 229.1h.75M179.8 236.2h.75M180.7 220.9h.75M178.9 236.0h.75M182.9 230.8h.75M181.8 223.2h.75M182.3 238.4h.75M179.7 218.2h.75M178.7 220.3h.75M178.7 226.7h.75M178.6 230.9h.75M175.2 226.8h.75M180.6 213.3h.75M181.8 226.1h.75M179.6 227.5h.75M178.3 245.7h.75M179.7 237.6h.75M180.2 229.0h.75M180.5 220.6h.75M184.4 230.5h.75M177.3 220.1h.75M180.6 229.5h.75M181.4 230.7h.75M179.8 225.3h.75M179.0 229.8h.75M176.9 225.8h.75M178.0 224.2h.75M181.5 238.7h.75M183.4 232.1h.75M177.9 226.0h.75M180.8 222.8h.75M181.0 229.3h.75M182.3 232.0h.75M180.2 234.0h.75M180.8 238.3h.75M182.0 231.3h.75M176.5 220.4h.75M179.7 242.1h.75M174.9 236.1h.75M174.4 233.9h.75M177.4 237.3h.75M175.5 217.8h.75M180.9 225.5h.75M182.2 224.6h.75M178.8 236.3h.75M179.2 220.0h.75M179.0 225.9h.75M178.9 238.6h.75M180.0 232.6h.75M180.5 225.4h.75M178.4 241.1h.75M177.5 218.9h.75M178.2 231.2h.75M181.7 226.5h.75M178.5 231.6h.75M183.4 226.2h.75M179.0 222.3h.75M183.2 229.6h.75M176.5 219.0h.75M177.8 231.8h.75M180.8 225.9h.75M180.9 234.5h.75M179.2 225.0h.75M184.9 223.5h.75M179.8 230.8h.75M180.3 236.6h.75M178.1 213.8h.75M183.9 228.9h.75M181.8 232.4h.75M180.7 218.3h.75M175.3 222.0h.75M180.5 232.5h.75M178.4 222.4h.75M180.6 223.7h.75M182.0 239.9h.75M177.6 221.6h.75M180.2 222.1h.75M181.9 212.1h.75M180.0 220.5h.75M178.7 219.6h.75M176.8 239.9h.75M177.8 236.5h.75M176.3 219.3h.75M182.2 241.6h.75M179.9 233.4h.75M176.4 226.8h.75M179.6 233.6h.75M176.2 230.7h.75M171.0 222.8h.75M182.7 215.9h.75M182.6 221.8h.75M175.7 228.0h.75M177.7 225.6h.75M180.1 223.0h.75M178.6 234.8h.75M177.4 220.7h.75M178.2 234.2h.75M179.0 224.7h.75M178.1 228.8h.75M180.1 220.3h.75M179.0 228.0h.75M177.6 222.7h.75M179.6 216.0h.75M175.2 227.9h.75M183.3 227.7h.75M175.0 233.8h.75M179.4 230.0h.75M180.5 221.1h.75M180.7 223.8h.75M180.3 210.9h.75M182.9 220.3h.75M176.6 237.0h.75M179.4 238.5h.75M180.0 233.3h.75M178.3 230.1h.75M178.0 232.1h.75M182.9 231.4h.75M177.7 216.1h.75M178.3 222.0h.75M178.9 236.2h.75M182.5 231.3h.75M178.1 242.3h.75M177.9 242.7h.75M177.4 239.0h.75M176.3 237.2h.75M179.5 233.3h.75M177.7 239.6h.75M178.4 239.7h.75M184.1 233.2h.75M180.8 232.4h.75M176.9 235.8h.75M180.7 237.9h.75M174.6 237.1h.75M182.1 244.9h.75M179.8 232.9h.75M178.4 242.4h.75M180.7 248.8h.75M183.3 245.4h.75M177.6 233.2h.75M176.1 222.3h.75M185.3 245.1h.75M179.1 243.0h.75M183.4 236.5h.75M177.0 247.7h.75M180.1 237.6h.75M177.1 240.6h.75M180.9 233.8h.75M178.2 241.9h.75M177.0 237.4h.75M183.6 237.0h.75M180.0 246.5h.75M173.0 241.3h.75M178.3 231.0h.75M176.3 244.1h.75M175.4 245.0h.75M177.3 235.0h.75M177.6 237.6h.75M179.1 240.3h.75M176.7 238.5h.75M173.5 240.7h.75M177.4 243.9h.75M181.6 237.0h.75M180.8 235.7h.75M180.4 236.8h.75M176.8 240.2h.75M177.8 238.9h.75M176.0 233.6h.75M180.4 246.9h.75M183.1 241.0h.75M177.0 234.9h.75M182.6 242.4h.75M172.7 248.2h.75M176.4 244.1h.75M184.1 247.0h.75M177.2 242.6h.75M181.3 239.8h.75M172.9 243.3h.75M179.3 247.3h.75M180.7 245.2h.75M178.9 246.3h.75M170.9 241.3h.75M179.5 244.6h.75M181.4 247.3h.75M182.9 239.0h.75M180.2 232.2h.75M178.4 243.5h.75M181.7 237.4h.75M176.6 241.4h.75M180.7 238.5h.75M177.6 229.8h.75M179.3 238.9h.75M181.3 231.5h.75M176.9 241.2h.75M187.6 239.3h.75M179.5 246.8h.75M180.0 239.3h.75M176.8 242.2h.75M179.2 238.2h.75M178.2 237.7h.75M174.6 231.6h.75M174.4 245.9h.75M179.9 241.0h.75M178.7 236.5h.75M171.1 241.3h.75M172.6 237.5h.75M178.1 235.7h.75M178.8 241.5h.75M180.8 247.3h.75M175.3 238.4h.75M180.8 231.5h.75M178.1 236.3h.75M178.6 235.1h.75M182.0 247.1h.75M180.7 238.6h.75M181.7 244.4h.75M176.9 239.4h.75M178.1 230.5h.75M175.5 237.5h.75M177.8 239.2h.75M177.6 243.4h.75M181.1 238.0h.75M180.3 239.2h.75M181.3 241.9h.75M179.4 242.8h.75M179.3 239.9h.75M181.9 238.9h.75M180.5 236.0h.75M181.2 232.1h.75M178.8 230.3h.75M175.3 244.0h.75M153.5 192.3h.75M164.0 200.2h.75M162.3 187.5h.75M158.6 193.1h.75M155.8 191.4h.75M159.6 196.3h.75M159.6 206.2h.75M163.1 198.7h.75M157.1 200.5h.75M158.3 180.3h.75M159.3 192.1h.75M158.6 205.1h.75M157.5 186.7h.75M154.0 191.4h.75M154.3 185.5h.75M157.3 210.8h.75M158.8 191.2h.75M162.7 188.1h.75M166.9 202.9h.75M165.0 208.2h.75M160.8 201.5h.75M165.5 206.9h.75M159.1 198.4h.75M157.8 194.7h.75M166.9 191.3h.75M156.1 190.5h.75M158.2 189.5h.75M158.7 200.1h.75M164.2 194.9h.75M157.6 197.1h.75M162.0 202.7h.75M158.2 195.5h.75M155.6 181.0h.75M160.3 187.4h.75M160.1 183.8h.75M156.7 197.2h.75M157.0 182.9h.75M162.6 182.0h.75M161.0 184.2h.75M160.3 205.7h.75M161.1 192.7h.75M158.0 207.1h.75M161.0 195.1h.75M157.6 191.3h.75M155.3 202.3h.75M157.3 202.6h.75M160.2 197.3h.75M159.8 184.7h.75M162.9 191.0h.75M154.1 183.1h.75M158.8 193.2h.75M160.8 197.1h.75M156.4 212.4h.75M160.3 211.6h.75M158.2 203.5h.75M155.9 206.5h.75M163.1 198.6h.75M155.1 226.5h.75M162.7 212.8h.75M158.2 225.1h.75M156.5 200.2h.75M156.7 200.6h.75M157.2 207.6h.75M156.8 198.1h.75M160.4 199.5h.75M153.5 185.2h.75M163.5 206.4h.75M162.2 197.5h.75M164.0 204.9h.75M156.4 193.6h.75M157.5 201.5h.75M159.0 208.8h.75M160.5 181.9h.75M157.9 185.3h.75M159.3 192.7h.75M160.0 193.3h.75M154.6 177.3h.75M165.3 215.3h.75M155.9 207.1h.75M160.4 189.2h.75M157.0 200.0h.75M159.5 217.8h.75M164.8 205.1h.75M158.6 208.7h.75M162.9 185.7h.75M160.5 198.6h.75M160.3 179.5h.75M161.8 217.8h.75M158.8 202.3h.75M160.4 201.3h.75M161.1 197.5h.75M155.7 192.6h.75M159.6 202.8h.75M163.4 218.1h.75M162.4 200.0h.75M157.9 194.2h.75M157.6 181.6h.75M160.9 187.1h.75M164.1 199.6h.75M159.7 194.1h.75M163.7 184.3h.75M158.6 195.7h.75M163.4 187.0h.75M156.4 201.8h.75M160.1 193.3h.75M156.1 200.2h.75M161.7 193.0h.75M161.4 204.2h.75M156.5 194.4h.75M157.2 195.8h.75M158.1 189.7h.75M154.8 197.5h.75M156.8 225.2h.75M162.0 188.4h.75M164.0 197.0h.75M158.1 190.7h.75M158.6 190.5h.75M160.2 200.3h.75M157.9 190.3h.75M158.7 191.2h.75M162.2 180.7h.75M160.3 185.7h.75M159.3 183.0h.75M157.7 215.7h.75M164.3 181.2h.75M157.6 184.1h.75M159.9 198.0h.75M156.2 211.6h.75M157.6 177.2h.75M159.9 178.8h.75M158.3 197.2h.75M161.3 199.6h.75M159.8 180.3h.75M152.2 185.3h.75M162.7 204.0h.75M157.7 195.4h.75M164.3 204.0h.75M159.6 194.6h.75M157.1 195.5h.75M161.3 202.6h.75M158.7 194.5h.75M159.6 198.4h.75M156.6 185.8h.75M161.6 189.2h.75M163.0 201.0h.75M157.9 193.2h.75M165.2 187.6h.75M157.7 203.0h.75M160.3 201.8h.75M154.3 195.7h.75M153.4 187.4h.75M166.3 205.6h.75M164.1 223.2h.75M163.2 186.7h.75M154.1 178.8h.75M160.3 187.2h.75M160.9 185.5h.75M159.8 181.9h.75M160.5 182.8h.75M156.6 205.1h.75M159.0 205.2h.75M155.9 212.0h.75M186.3 181.6h.75M179.0 198.4h.75M188.4 177.5h.75M178.2 227.6h.75M179.8 222.1h.75M174.8 212.6h.75M189.2 218.2h.75M187.9 230.7h.75M179.1 215.8h.75M180.0 180.3h.75M182.1 199.7h.75M186.9 191.2h.75M182.2 185.2h.75M184.2 202.5h.75M146.2 229.5h.75M138.2 244.8h.75M142.1 226.1h.75M145.5 233.0h.75M142.9 219.2h.75M142.7 223.7h.75M129.4 233.8h.75M141.2 225.1h.75M148.6 227.2h.75M145.3 229.7h.75M134.9 234.3h.75M142.2 239.5h.75M145.4 239.5h.75M137.9 242.1h.75M147.8 233.8h.75M139.0 226.3h.75M141.8 215.8h.75M143.1 228.3h.75M157.1 223.7h.75M141.9 213.4h.75M140.4 248.4h.75M148.1 213.2h.75M141.0 235.4h.75M144.9 237.4h.75M130.3 229.4h.75M143.7 232.0h.75M136.0 224.0h.75M142.3 223.7h.75M142.6 217.3h.75M135.9 221.6h.75M134.0 225.3h.75M140.4 232.2h.75M134.6 235.2h.75M146.7 216.4h.75M149.0 235.3h.75M134.1 224.5h.75M141.4 230.4h.75M137.4 238.8h.75M144.8 244.0h.75M144.8 225.0h.75M141.2 222.0h.75M144.2 221.6h.75M150.0 242.9h.75M154.0 240.9h.75M140.6 209.8h.75M148.1 210.1h.75M142.3 219.2h.75M137.4 216.6h.75M151.5 235.9h.75M146.1 234.0h.75M145.9 239.8h.75M142.8 233.0h.75M137.4 243.8h.75M154.4 222.7h.75M149.2 217.6h.75M145.3 232.1h.75M149.5 241.3h.75M151.5 215.3h.75M142.6 240.9h.75M147.3 240.5h.75M141.8 226.7h.75M147.6 233.5h.75M142.2 229.0h.75M158.4 232.6h.75M141.6 240.0h.75M146.8 223.6h.75M146.5 242.3h.75M141.7 240.6h.75M149.4 241.0h.75M143.2 211.8h.75M141.3 212.9h.75M143.8 238.8h.75M139.2 225.8h.75M150.9 224.8h.75M147.5 224.0h.75M149.6 218.1h.75M135.6 228.9h.75M145.4 224.4h.75M139.1 225.1h.75M144.3 236.6h.75M151.4 219.8h.75M145.3 243.2h.75M142.7 209.2h.75M149.8 218.0h.75M154.8 237.7h.75M132.6 241.1h.75M145.7 231.7h.75M141.3 239.3h.75M138.5 230.7h.75M144.4 213.9h.75M136.8 235.3h.75M130.4 243.4h.75M138.3 226.2h.75M142.2 214.5h.75M155.0 225.6h.75M139.4 235.1h.75M136.7 234.8h.75M131.9 243.0h.75M141.6 237.4h.75M142.3 236.9h.75M144.6 211.4h.75M139.2 232.3h.75M130.1 240.6h.75M144.8 228.2h.75M134.3 230.2h.75M150.7 247.8h.75M146.8 247.2h.75M145.9 238.1h.75M137.5 227.8h.75M150.2 237.1h.75M137.5 227.2h.75M155.2 245.0h.75M145.1 232.2h.75M132.7 241.8h.75M155.6 210.7h.75M150.2 235.1h.75M142.5 228.6h.75M140.0 212.3h.75M128.3 228.8h.75M151.2 208.4h.75M141.1 232.7h.75M146.0 230.1h.75M138.3 228.5h.75M150.5 242.8h.75M141.4 243.8h.75M136.2 229.3h.75M145.0 239.7h.75M148.4 216.3h.75M141.0 220.5h.75M142.6 229.1h.75M136.4 231.6h.75M152.2 219.5h.75M140.1 227.7h.75M142.8 239.1h.75M153.9 227.2h.75M142.4 230.3h.75M134.5 222.8h.75M138.2 246.1h.75M154.5 234.0h.75M145.1 230.7h.75M142.4 249.0h.75M148.8 236.8h.75M151.6 225.1h.75M139.2 218.1h.75M152.4 225.9h.75M146.5 225.9h.75M145.0 231.9h.75M152.2 229.7h.75M142.2 245.5h.75M157.7 229.4h.75M144.3 235.8h.75M137.7 221.3h.75M147.4 219.2h.75M145.6 224.4h.75M148.9 234.2h.75M135.0 242.5h.75M188.6 215.9h.75M132.7 225.7h.75M131.5 225.7h.75M131.5 238.3h.75M183.7 245.5h.75M155.1 212.3h.75M194.3 232.1h.75M151.5 212.1h.75M157.8 223.1h.75M177.5 226.8h.75M194.4 222.4h.75M192.1 227.3h.75M155.5 225.4h.75M176.3 230.5h.75M134.2 221.3h.75M168.9 226.4h.75M173.9 220.1h.75M148.8 227.5h.75M174.6 238.2h.75M150.8 213.1h.75M182.1 248.9h.75M134.9 217.5h.75M165.5 241.3h.75M194.6 222.6h.75M172.8 214.6h.75M193.9 241.2h.75M194.4 232.9h.75M181.9 221.7h.75M184.7 226.1h.75M180.0 244.0h.75M164.7 238.1h.75M183.7 222.3h.75M183.6 220.8h.75M188.6 232.9h.75M130.5 216.5h.75M132.5 220.5h.75M161.5 241.8h.75M178.8 238.8h.75M158.5 212.9h.75M156.0 228.5h.75M131.4 226.8h.75M171.3 239.3h.75M194.9 227.8h.75M171.9 220.4h.75M146.7 243.1h.75M173.2 219.2h.75M155.2 236.0h.75M154.9 222.4h.75M133.8 234.9h.75M178.5 218.4h.75M130.0 244.4h.75M187.1 225.7h.75M130.4 237.2h.75M182.9 239.7h.75M153.8 229.3h.75M153.7 231.9h.75M163.3 216.4h.75M142.5 232.0h.75M144.1 231.7h.75M178.5 245.1h.75M191.8 225.0h.75M139.6 217.7h.75M148.7 227.0h.75M196.7 241.1h.75M176.7 212.4h.75M192.4 213.3h.75M156.2 249.0h.75M182.2 232.6h.75M178.3 238.6h.75M180.6 229.2h.75M162.4 219.2h.75M149.9 236.7h.75M154.8 220.9h.75M139.7 228.7h.75M135.4 219.8h.75M155.8 245.6h.75M188.3 226.6h.75M152.5 237.7h.75M168.1 218.7h.75M171.4 200.9h.75M150.1 194.8h.75M138.1 206.1h.75M151.5 194.4h.75M134.3 199.7h.75M171.0 186.2h.75M167.8 209.5h.75M188.1 184.7h.75M131.8 204.8h.75M157.8 199.8h.75M196.9 193.4h.75M153.6 190.0h.75M134.0 180.7h.75M184.4 203.4h.75M136.3 185.3h.75" stroke="#000" stroke-width="0.75" stroke-opacity="0.62" fill="none"/>
</g>
<rect x="127.50" y="176.50" width="73.00" height="73.00" fill="none" stroke="#8e8e8e" stroke-width="1"/>
<path d="M167.50 176.50V249.50M127.50 211.50H200.50" stroke="#999" stroke-width="1" fill="none"/>
<text x="120.30" y="184.70" font-size="3.3" fill="#444">10<tspan font-size="2.4" dy="-1.3">5</tspan></text>
<path d="M126.10 183.20L127.50 183.20" stroke="#777" stroke-width="0.5" fill="none"/>
<text x="120.30" y="202.20" font-size="3.3" fill="#444">10<tspan font-size="2.4" dy="-1.3">4</tspan></text>
<path d="M126.10 200.70L127.50 200.70" stroke="#777" stroke-width="0.5" fill="none"/>
<text x="120.30" y="219.70" font-size="3.3" fill="#444">10<tspan font-size="2.4" dy="-1.3">3</tspan></text>
<path d="M126.10 218.20L127.50 218.20" stroke="#777" stroke-width="0.5" fill="none"/>
<text x="120.30" y="237.20" font-size="3.3" fill="#444">10<tspan font-size="2.4" dy="-1.3">2</tspan></text>
<path d="M126.10 235.70L127.50 235.70" stroke="#777" stroke-width="0.5" fill="none"/>
<text x="122.90" y="243.20" font-size="3" fill="#555">0</text>
<text x="134.50" y="257.50" font-size="3" fill="#555">0</text>
<path d="M136.00 249.50L136.00 250.90" stroke="#777" stroke-width="0.5" fill="none"/>
<text x="142.00" y="257.50" font-size="3" fill="#555">10<tspan font-size="2.2" dy="-1.2">2</tspan></text>
<path d="M143.50 249.50L143.50 250.90" stroke="#777" stroke-width="0.5" fill="none"/>
<text x="158.50" y="257.50" font-size="3" fill="#555">10<tspan font-size="2.2" dy="-1.2">3</tspan></text>
<path d="M160.00 249.50L160.00 250.90" stroke="#777" stroke-width="0.5" fill="none"/>
<text x="174.50" y="257.50" font-size="3" fill="#555">10<tspan font-size="2.2" dy="-1.2">4</tspan></text>
<path d="M176.00 249.50L176.00 250.90" stroke="#777" stroke-width="0.5" fill="none"/>
<text x="190.00" y="257.50" font-size="3" fill="#555">10<tspan font-size="2.2" dy="-1.2">5</tspan></text>
<path d="M191.50 249.50L191.50 250.90" stroke="#777" stroke-width="0.5" fill="none"/>
<text x="128.90" y="183.10" font-size="6.3" textLength="21.50" lengthAdjust="spacingAndGlyphs" fill="#222" stroke="#fff" stroke-width="1.6" stroke-opacity="0.55" paint-order="stroke" stroke-linejoin="round">3.1 &#177; 0.6</text>
<text x="199.30" y="183.10" font-size="6.3" text-anchor="end" textLength="26.20" lengthAdjust="spacingAndGlyphs" fill="#222" stroke="#fff" stroke-width="1.6" stroke-opacity="0.55" paint-order="stroke" stroke-linejoin="round">0.2 &#177; 0.02</text>
<text x="128.70" y="248.00" font-size="6.3" textLength="26.00" lengthAdjust="spacingAndGlyphs" fill="#222" stroke="#fff" stroke-width="1.6" stroke-opacity="0.55" paint-order="stroke" stroke-linejoin="round">86.9 &#177; 1.3</text>
<text x="199.30" y="248.00" font-size="6.3" text-anchor="end" textLength="22.50" lengthAdjust="spacingAndGlyphs" fill="#222" stroke="#fff" stroke-width="1.6" stroke-opacity="0.55" paint-order="stroke" stroke-linejoin="round">8.8 &#177; 1.3</text>
<clipPath id="c36_278"><rect x="36.50" y="278.50" width="72.00" height="72.00"/></clipPath>
<g clip-path="url(#c36_278)">
<ellipse cx="70.6" cy="291" rx="6.5" ry="13" fill="url(#bg)" opacity="0.7"/>
<ellipse cx="67.2" cy="315" rx="9" ry="11" fill="url(#bg)" opacity="0.85"/>
<ellipse cx="86.8" cy="318" rx="6" ry="9" fill="url(#bg)" opacity="0.3"/>
<path d="M78.7 289.8h.75M69.6 296.1h.75M69.9 286.3h.75M74.1 293.3h.75M69.8 298.9h.75M67.6 292.3h.75M72.6 291.7h.75M67.1 288.6h.75M72.8 291.2h.75M70.8 295.4h.75M74.1 289.2h.75M66.4 279.5h.75M74.5 291.9h.75M71.4 289.8h.75M76.9 294.0h.75M68.3 291.1h.75M76.5 301.4h.75M72.7 282.8h.75M73.0 284.3h.75M68.0 295.2h.75M72.2 283.9h.75M72.6 293.0h.75M67.7 290.7h.75M67.9 295.3h.75M75.2 300.0h.75M70.9 292.2h.75M73.5 281.4h.75M71.3 296.1h.75M70.8 283.8h.75M71.1 290.0h.75M69.1 293.6h.75M74.4 285.6h.75M71.0 279.5h.75M71.1 289.9h.75M65.9 290.5h.75M71.4 285.1h.75M68.2 285.6h.75M68.8 295.7h.75M73.8 290.2h.75M66.8 287.7h.75M69.7 286.8h.75M72.5 291.9h.75M74.2 291.4h.75M68.7 289.6h.75M71.4 281.5h.75M71.3 288.3h.75M66.7 286.6h.75M63.4 291.2h.75M64.1 298.5h.75M72.4 297.1h.75M70.7 295.0h.75M66.0 291.5h.75M68.3 288.6h.75M69.1 293.0h.75M69.2 287.6h.75M70.3 288.5h.75M77.6 285.2h.75M67.8 290.4h.75M70.9 290.3h.75M67.9 303.0h.75M68.3 294.4h.75M67.5 288.3h.75M69.6 295.9h.75M68.6 287.6h.75M71.5 297.5h.75M71.1 295.9h.75M67.5 309.9h.75M76.7 283.6h.75M66.6 290.3h.75M71.6 290.0h.75M77.5 292.7h.75M68.1 295.5h.75M74.7 284.3h.75M75.0 286.0h.75M71.5 292.8h.75M64.4 297.2h.75M75.0 283.4h.75M70.7 280.5h.75M68.6 298.3h.75M74.6 296.3h.75M68.0 297.9h.75M73.9 284.4h.75M68.6 289.4h.75M72.1 292.3h.75M66.9 293.7h.75M69.1 290.0h.75M67.4 290.4h.75M68.1 297.4h.75M71.0 287.9h.75M69.8 287.2h.75M71.0 287.9h.75M74.6 287.4h.75M70.0 291.6h.75M64.3 289.4h.75M69.5 287.9h.75M70.7 300.1h.75M73.7 292.7h.75M73.8 288.6h.75M73.5 299.0h.75M69.7 287.2h.75M72.5 290.8h.75M65.7 290.2h.75M74.6 287.0h.75M71.8 288.3h.75M72.1 291.3h.75M69.2 281.4h.75M70.6 288.2h.75M68.2 292.4h.75M72.2 292.6h.75M66.1 292.7h.75M73.6 306.0h.75M72.2 295.1h.75M77.0 289.8h.75M70.3 290.0h.75M70.1 290.8h.75M71.0 293.6h.75M70.5 288.8h.75M70.0 300.6h.75M66.8 283.6h.75M66.8 294.9h.75M68.5 294.0h.75M69.4 283.3h.75M66.5 294.8h.75M66.6 294.4h.75M69.5 286.6h.75M72.8 305.8h.75M69.8 295.4h.75M72.6 288.6h.75M73.6 287.7h.75M72.9 285.9h.75M69.0 292.4h.75M69.1 291.2h.75M64.3 281.6h.75M68.2 284.0h.75M71.9 286.1h.75M66.8 288.1h.75M74.8 288.4h.75M75.1 286.4h.75M69.2 294.9h.75M73.4 296.9h.75M65.8 291.2h.75M69.2 289.7h.75M70.4 294.4h.75M69.8 290.2h.75M67.6 292.5h.75M76.8 291.4h.75M71.4 281.1h.75M72.6 294.8h.75M71.0 287.4h.75M69.6 293.4h.75M68.6 288.8h.75M65.0 289.6h.75M75.3 299.6h.75M67.4 283.0h.75M65.0 290.7h.75M67.8 283.7h.75M65.2 291.2h.75M76.9 293.8h.75M71.6 294.9h.75M75.0 291.7h.75M75.2 281.8h.75M72.3 292.3h.75M72.3 296.5h.75M68.0 297.2h.75M70.1 304.6h.75M68.4 294.4h.75M70.5 284.2h.75M68.1 287.4h.75M74.5 291.3h.75M72.9 297.5h.75M70.1 283.4h.75M64.9 296.6h.75M72.6 294.9h.75M73.3 285.1h.75M70.2 294.7h.75M66.3 285.8h.75M71.8 290.7h.75M73.8 288.8h.75M64.1 292.3h.75M72.2 283.1h.75M64.5 294.1h.75M76.1 288.1h.75M70.7 287.1h.75M72.0 300.9h.75M69.4 294.2h.75M70.4 287.6h.75M78.1 285.0h.75M74.8 291.0h.75M69.4 286.7h.75M69.2 305.2h.75M77.6 291.2h.75M74.0 297.4h.75M69.2 285.6h.75M66.2 301.1h.75M74.7 287.2h.75M70.2 297.7h.75M67.8 292.1h.75M68.1 298.4h.75M68.2 290.9h.75M65.4 286.1h.75M74.3 280.7h.75M71.6 296.8h.75M73.6 294.2h.75M69.3 290.8h.75M71.5 293.7h.75M70.9 292.0h.75M74.2 287.1h.75M73.1 303.4h.75M71.6 292.3h.75M68.3 289.5h.75M66.5 281.3h.75M67.8 286.7h.75M68.3 290.8h.75M68.6 289.6h.75M66.4 287.7h.75M75.8 290.4h.75M71.3 283.5h.75M63.8 290.8h.75M66.8 280.8h.75M66.0 285.2h.75M71.2 286.0h.75M73.9 296.4h.75M67.2 293.9h.75M72.4 291.2h.75M69.5 283.3h.75M74.1 288.2h.75M74.8 295.9h.75M71.4 298.8h.75M72.7 281.2h.75M70.4 288.0h.75M69.2 291.4h.75M66.6 293.0h.75M71.5 290.8h.75M70.2 295.1h.75M69.2 281.4h.75M70.2 300.8h.75M69.8 283.4h.75M67.0 291.1h.75M68.7 294.1h.75M74.1 298.3h.75M69.6 296.6h.75M74.9 296.4h.75M66.7 299.0h.75M66.0 289.8h.75M70.8 295.6h.75M72.9 300.8h.75M68.3 285.9h.75M72.4 281.7h.75M73.4 284.3h.75M73.9 299.9h.75M70.0 298.8h.75M70.2 288.5h.75M65.0 292.4h.75M70.5 293.9h.75M71.3 297.6h.75M66.3 287.2h.75M67.7 289.1h.75M67.2 292.9h.75M73.3 291.3h.75M62.2 288.8h.75M66.9 292.7h.75M72.5 310.8h.75M66.1 296.2h.75M70.2 296.6h.75M73.1 286.6h.75M72.2 293.5h.75M69.7 304.2h.75M67.8 302.7h.75M73.1 291.3h.75M70.4 282.8h.75M73.0 291.9h.75M71.7 288.9h.75M68.9 296.4h.75M75.1 282.6h.75M68.8 289.7h.75M71.8 292.6h.75M68.4 287.8h.75M69.7 297.7h.75M69.6 283.5h.75M68.3 282.9h.75M71.2 288.6h.75M74.6 296.3h.75M76.4 288.9h.75M75.0 287.0h.75M69.8 296.1h.75M75.1 292.3h.75M71.8 287.5h.75M76.2 291.7h.75M66.3 289.3h.75M75.2 294.8h.75M68.5 291.8h.75M74.1 285.7h.75M68.9 287.8h.75M73.3 288.2h.75M69.5 293.3h.75M64.3 293.3h.75M67.3 285.5h.75M69.6 289.6h.75M70.5 292.9h.75M63.2 298.0h.75M66.5 292.5h.75M68.0 303.6h.75M69.7 291.0h.75M71.1 295.7h.75M67.8 288.8h.75M65.5 284.4h.75M71.4 291.6h.75M69.3 294.0h.75M73.3 293.0h.75M68.7 291.8h.75M72.5 288.7h.75M67.5 285.5h.75M71.3 288.9h.75M70.7 293.9h.75M71.9 297.1h.75M70.0 294.8h.75M67.7 297.9h.75M69.9 299.1h.75M72.4 293.4h.75M80.0 295.2h.75M70.5 288.0h.75M72.7 290.3h.75M70.8 294.3h.75M74.1 283.7h.75M71.9 285.7h.75M73.8 292.2h.75M71.5 282.2h.75M78.1 291.2h.75M74.8 281.2h.75M64.9 292.1h.75M71.4 291.1h.75M70.7 287.2h.75M63.3 284.7h.75M67.6 287.6h.75M68.0 288.3h.75M70.8 291.6h.75M64.6 298.7h.75M72.8 287.6h.75M72.9 289.7h.75M71.5 299.9h.75M69.3 302.2h.75M70.4 287.7h.75M68.9 297.7h.75M74.1 298.5h.75M72.0 294.2h.75M76.8 284.4h.75M69.2 284.7h.75M75.1 294.6h.75M68.6 306.1h.75M69.9 289.7h.75M67.1 301.1h.75M72.1 303.2h.75M70.2 282.7h.75M72.4 287.0h.75M75.2 300.7h.75M70.2 297.2h.75M71.6 294.5h.75M73.3 290.8h.75M70.2 295.0h.75M68.7 286.8h.75M71.6 307.2h.75M72.0 283.4h.75M72.9 279.1h.75M73.1 291.8h.75M68.3 300.3h.75M71.8 287.7h.75M74.4 290.5h.75M68.9 284.2h.75M71.6 290.4h.75M68.4 284.2h.75M71.0 284.3h.75M76.0 281.3h.75M71.0 287.3h.75M67.3 303.0h.75M71.5 290.5h.75M71.1 292.1h.75M74.0 305.5h.75M66.0 286.7h.75M67.5 284.4h.75M70.2 294.3h.75M65.4 282.8h.75M74.1 293.0h.75M63.9 298.4h.75M67.8 283.8h.75M65.7 287.5h.75M68.3 302.0h.75M73.0 283.9h.75M72.4 286.4h.75M73.4 292.4h.75M72.4 288.8h.75M63.9 285.3h.75M71.4 301.3h.75M64.5 287.1h.75M68.8 293.0h.75M69.2 288.2h.75M68.7 289.4h.75M72.0 281.9h.75M67.8 296.9h.75M76.0 288.1h.75M72.3 299.2h.75M74.2 283.3h.75M72.9 287.7h.75M73.3 294.0h.75M70.3 291.6h.75M76.7 286.6h.75M67.0 290.0h.75M71.9 282.4h.75M70.4 291.2h.75M71.4 292.0h.75M68.0 299.7h.75M73.2 296.7h.75M72.9 296.4h.75M70.7 288.1h.75M72.8 294.1h.75M67.1 288.2h.75M64.6 290.3h.75M68.6 290.2h.75M78.4 296.9h.75M69.7 293.8h.75M73.7 296.4h.75M73.1 284.6h.75M77.2 295.4h.75M70.8 294.0h.75M69.8 279.3h.75M67.7 291.2h.75M67.2 286.5h.75M67.9 290.8h.75M75.0 286.7h.75M71.3 300.7h.75M70.5 281.9h.75M68.6 284.5h.75M70.3 281.9h.75M70.3 287.1h.75M72.5 290.7h.75M73.4 282.1h.75M65.2 293.3h.75M71.2 299.5h.75M74.8 298.0h.75M67.2 304.0h.75M69.6 298.3h.75M71.0 290.7h.75M74.0 302.5h.75M72.3 295.5h.75M69.7 303.2h.75M72.0 289.6h.75M71.7 283.3h.75M76.4 292.1h.75M71.8 294.5h.75M67.1 289.6h.75M67.9 297.5h.75M70.0 283.4h.75M69.8 286.3h.75M72.4 297.4h.75M71.6 291.3h.75M75.9 291.6h.75M73.0 300.2h.75M75.2 298.1h.75M68.0 285.7h.75M69.1 292.3h.75M72.6 279.8h.75M70.7 290.9h.75M72.5 293.5h.75M71.2 279.6h.75M68.5 301.2h.75M75.9 304.0h.75M74.1 294.2h.75M65.5 297.0h.75M68.5 300.8h.75M70.5 289.8h.75M72.6 297.8h.75M70.2 293.5h.75M66.1 281.0h.75M73.1 285.1h.75M69.8 287.3h.75M74.3 298.0h.75M71.4 291.6h.75M73.7 297.5h.75M73.1 287.9h.75M73.3 282.6h.75M68.8 304.5h.75M73.7 308.8h.75M71.1 293.5h.75M66.5 289.7h.75M69.2 298.8h.75M69.4 283.8h.75M72.0 289.6h.75M72.7 281.6h.75M66.9 294.2h.75M72.8 292.6h.75M70.3 288.4h.75M67.1 286.8h.75M73.1 281.1h.75M68.0 285.6h.75M66.7 299.1h.75M72.9 288.7h.75M73.3 299.3h.75M68.4 285.3h.75M73.9 290.5h.75M73.7 288.0h.75M68.8 289.3h.75M76.9 296.1h.75M71.2 295.9h.75M62.9 295.6h.75M72.5 291.0h.75M68.5 291.5h.75M71.9 289.6h.75M65.0 295.5h.75M74.2 291.4h.75M75.1 285.5h.75M76.5 292.0h.75M61.1 297.3h.75M72.4 293.4h.75M71.6 291.2h.75M60.8 292.4h.75M68.2 287.8h.75M70.2 288.0h.75M67.8 289.8h.75M71.2 297.5h.75M70.3 288.5h.75M71.7 285.1h.75M69.2 296.9h.75M73.4 292.1h.75M73.6 291.9h.75M66.2 294.1h.75M74.1 295.6h.75M68.1 290.7h.75M69.6 285.6h.75M74.1 302.4h.75M70.8 291.4h.75M72.4 286.0h.75M73.0 292.2h.75M72.4 298.8h.75M68.8 281.8h.75M67.5 299.6h.75M72.7 290.1h.75M73.0 304.0h.75M71.7 295.4h.75M69.9 290.3h.75M73.3 299.2h.75M70.5 299.3h.75M66.2 288.7h.75M71.4 292.5h.75M72.2 287.7h.75M73.0 297.0h.75M67.7 281.9h.75M68.2 289.9h.75M69.1 294.9h.75M73.6 284.2h.75M71.8 292.7h.75M76.4 288.7h.75M71.5 288.1h.75M76.0 284.7h.75M74.0 288.0h.75M78.7 279.6h.75M70.7 293.1h.75M70.3 296.3h.75M74.8 296.0h.75M69.0 290.8h.75M69.1 299.0h.75M71.4 294.0h.75M71.8 297.2h.75M66.2 293.6h.75M71.4 291.2h.75M69.7 286.1h.75M71.2 295.2h.75M70.0 290.3h.75M74.1 303.9h.75M70.1 296.5h.75M70.9 284.9h.75M74.0 291.0h.75M73.2 285.3h.75M74.7 293.3h.75M70.2 290.8h.75M71.1 296.7h.75M77.1 292.0h.75M70.6 294.1h.75M76.0 299.3h.75M73.4 294.4h.75M69.3 290.2h.75M66.3 299.1h.75M72.7 290.3h.75M68.5 293.7h.75M68.5 289.0h.75M65.2 286.7h.75M71.0 295.5h.75M70.8 283.6h.75M72.0 295.8h.75M71.5 302.7h.75M71.0 282.5h.75M72.4 296.7h.75M69.9 290.4h.75M62.5 294.0h.75M73.1 283.3h.75M72.1 291.2h.75M70.8 292.1h.75M75.8 300.3h.75M66.3 304.9h.75M61.5 293.1h.75M75.5 288.7h.75M72.1 305.4h.75M65.5 290.4h.75M69.4 290.7h.75M72.7 291.7h.75M66.9 294.1h.75M72.5 295.7h.75M77.5 287.3h.75M75.2 290.4h.75M70.6 303.2h.75M71.8 301.4h.75M67.7 294.0h.75M71.2 292.9h.75M69.7 289.6h.75M67.6 297.7h.75M66.5 287.8h.75M76.9 291.9h.75M71.0 288.1h.75M67.5 287.1h.75M69.4 291.3h.75M75.5 291.1h.75M75.9 287.4h.75M68.8 290.7h.75M71.4 291.5h.75M73.6 288.1h.75M69.6 286.9h.75M67.0 290.2h.75M67.6 295.6h.75M70.8 298.3h.75M68.3 292.3h.75M66.6 289.4h.75M70.0 290.9h.75M73.7 303.5h.75M72.9 297.0h.75M70.0 285.0h.75M76.8 290.8h.75M68.2 287.7h.75M70.5 288.8h.75M66.4 280.2h.75M73.2 291.3h.75M70.3 282.3h.75M65.4 287.3h.75M68.1 300.9h.75M76.4 297.6h.75M73.0 285.5h.75M71.1 284.4h.75M73.5 285.2h.75M68.1 284.8h.75M66.5 289.4h.75M68.1 284.3h.75M69.5 296.0h.75M72.4 290.8h.75M73.9 287.7h.75M73.8 302.4h.75M79.2 295.7h.75M69.1 291.6h.75M70.6 303.1h.75M72.3 299.6h.75M68.1 286.6h.75M69.8 293.2h.75M72.0 288.3h.75M67.9 281.8h.75M72.2 303.4h.75M74.6 300.8h.75M67.2 282.9h.75M63.4 294.3h.75M71.0 280.5h.75M67.4 298.1h.75M71.2 290.8h.75M69.3 289.2h.75M71.7 299.3h.75M74.3 291.2h.75M73.3 289.4h.75M69.6 297.1h.75M67.0 289.2h.75M62.8 296.8h.75M63.8 291.1h.75M68.2 296.5h.75M71.0 295.2h.75M68.5 296.3h.75M68.8 284.6h.75M65.6 303.4h.75M65.4 290.1h.75M65.2 302.6h.75M72.6 287.2h.75M64.3 289.4h.75M72.8 289.4h.75M67.7 298.7h.75M72.3 288.4h.75M71.3 293.8h.75M73.0 280.9h.75M74.3 288.0h.75M68.0 292.6h.75M67.4 290.4h.75M68.0 294.4h.75M72.6 284.8h.75M70.1 303.8h.75M70.5 289.9h.75M71.8 305.9h.75M69.0 295.5h.75M73.9 294.1h.75M64.6 288.0h.75M71.2 290.4h.75M72.0 294.1h.75M68.2 297.6h.75M73.3 283.5h.75M69.4 289.4h.75M66.1 294.1h.75M73.6 296.0h.75M67.6 293.0h.75M74.6 293.2h.75M74.8 288.7h.75M69.8 292.1h.75M72.1 299.0h.75M67.8 288.3h.75M69.1 294.4h.75M68.2 295.9h.75M72.3 289.6h.75M66.3 292.7h.75M70.0 292.6h.75M70.6 287.9h.75M72.0 307.1h.75M63.6 288.3h.75M64.7 302.4h.75M67.6 298.1h.75M70.8 292.8h.75M71.0 297.9h.75M76.8 296.5h.75M72.5 285.2h.75M72.2 292.8h.75M68.8 283.2h.75M72.9 284.3h.75M72.6 289.5h.75M72.5 292.4h.75M70.0 301.7h.75M72.4 293.5h.75M75.2 298.1h.75M67.8 283.2h.75M63.5 283.5h.75M73.0 287.9h.75M72.7 302.7h.75M69.6 282.3h.75M68.9 280.7h.75M79.1 290.6h.75M68.9 299.0h.75M66.5 280.4h.75M68.8 289.4h.75M72.0 282.2h.75M68.4 300.7h.75M69.1 295.7h.75M71.3 292.9h.75M69.0 290.8h.75M70.8 289.6h.75M70.2 292.0h.75M67.0 286.8h.75M70.6 285.3h.75M66.7 283.8h.75M73.3 291.2h.75M67.4 285.8h.75M69.6 296.9h.75M68.9 294.8h.75M66.4 294.6h.75M75.1 299.1h.75M70.0 289.4h.75M72.0 281.2h.75M64.8 285.0h.75M66.4 298.6h.75M69.8 289.1h.75M66.0 288.4h.75M74.0 287.2h.75M69.1 290.7h.75M70.8 289.6h.75M71.3 280.8h.75M65.0 316.5h.75M71.1 320.1h.75M72.7 315.7h.75M66.8 308.0h.75M65.3 309.0h.75M72.4 306.1h.75M66.6 321.1h.75M62.8 317.2h.75M66.8 312.5h.75M69.9 309.7h.75M73.2 316.9h.75M65.4 314.3h.75M69.3 316.7h.75M66.0 310.5h.75M71.6 309.1h.75M68.2 323.4h.75M68.2 309.9h.75M63.5 314.9h.75M66.0 322.2h.75M66.0 305.2h.75M53.6 318.7h.75M70.5 315.4h.75M67.2 314.2h.75M66.4 316.4h.75M65.9 308.6h.75M67.3 303.1h.75M68.2 325.1h.75M62.3 313.5h.75M67.7 319.8h.75M67.7 320.9h.75M67.3 316.5h.75M61.6 317.4h.75M66.7 318.8h.75M62.4 323.4h.75M68.6 317.6h.75M72.2 321.7h.75M70.5 313.4h.75M65.9 312.7h.75M65.2 315.5h.75M65.1 317.1h.75M68.6 317.9h.75M64.7 325.4h.75M65.2 319.5h.75M57.7 315.3h.75M64.0 325.6h.75M64.3 316.8h.75M65.2 316.9h.75M71.8 317.6h.75M62.1 313.2h.75M62.2 309.2h.75M69.5 315.7h.75M63.5 313.4h.75M66.6 310.4h.75M67.9 315.7h.75M67.3 313.9h.75M64.3 311.8h.75M70.7 305.5h.75M72.9 314.1h.75M63.4 324.4h.75M66.2 319.8h.75M70.8 320.8h.75M66.4 314.9h.75M63.4 320.7h.75M65.6 311.4h.75M70.4 312.6h.75M63.4 317.8h.75M68.2 307.4h.75M68.7 315.3h.75M64.8 316.6h.75M69.4 324.0h.75M69.8 311.3h.75M71.0 317.3h.75M70.8 311.5h.75M61.6 312.1h.75M70.6 300.6h.75M69.4 310.0h.75M70.9 321.2h.75M64.0 317.8h.75M70.6 315.9h.75M68.6 328.2h.75M62.8 317.9h.75M72.0 308.4h.75M64.3 313.9h.75M63.4 314.7h.75M68.7 323.6h.75M64.9 310.2h.75M68.6 317.3h.75M66.3 320.2h.75M68.3 310.7h.75M70.3 315.5h.75M67.1 304.3h.75M70.5 315.6h.75M70.4 303.3h.75M64.1 313.0h.75M70.5 324.2h.75M69.6 317.2h.75M67.7 315.3h.75M71.5 315.8h.75M73.5 326.5h.75M70.1 318.0h.75M61.7 320.6h.75M68.9 312.7h.75M66.7 312.7h.75M66.2 309.5h.75M68.5 314.1h.75M66.0 311.3h.75M73.4 320.3h.75M68.3 318.5h.75M67.3 314.4h.75M70.2 312.1h.75M70.3 299.6h.75M71.7 311.9h.75M69.6 316.7h.75M67.1 318.6h.75M67.8 298.6h.75M59.1 302.2h.75M61.7 315.9h.75M71.2 309.5h.75M66.0 313.9h.75M74.1 312.5h.75M74.1 318.2h.75M62.5 305.1h.75M68.4 312.0h.75M78.2 320.1h.75M64.3 316.1h.75M68.8 310.6h.75M66.4 317.4h.75M66.3 316.5h.75M66.2 310.3h.75M67.2 318.7h.75M70.1 318.6h.75M64.2 314.3h.75M69.2 320.1h.75M64.6 308.8h.75M69.2 319.1h.75M68.5 314.0h.75M64.3 310.0h.75M67.8 311.8h.75M64.5 321.3h.75M64.1 312.1h.75M71.7 313.2h.75M60.4 311.5h.75M69.4 310.8h.75M69.9 320.2h.75M65.0 326.8h.75M71.4 322.2h.75M70.7 317.7h.75M62.4 319.1h.75M69.3 313.2h.75M69.0 312.4h.75M64.5 308.8h.75M69.4 322.7h.75M70.1 313.2h.75M64.5 311.2h.75M59.7 311.6h.75M68.8 316.1h.75M64.5 312.1h.75M60.8 315.1h.75M65.8 315.9h.75M58.3 322.2h.75M66.0 308.4h.75M72.9 316.6h.75M56.5 311.3h.75M69.0 312.7h.75M63.8 323.7h.75M65.7 318.4h.75M63.8 313.0h.75M69.7 317.7h.75M67.2 314.9h.75M64.3 321.0h.75M62.3 312.4h.75M65.6 317.6h.75M71.6 313.9h.75M62.7 315.1h.75M68.8 314.2h.75M68.5 311.7h.75M59.7 315.6h.75M71.5 320.3h.75M67.1 311.8h.75M75.7 313.0h.75M73.9 317.0h.75M66.3 311.0h.75M66.7 319.7h.75M63.4 318.8h.75M62.1 302.8h.75M70.3 311.6h.75M66.3 309.3h.75M65.7 319.5h.75M66.6 320.1h.75M69.9 308.7h.75M70.8 311.4h.75M67.3 314.6h.75M66.5 313.1h.75M67.7 318.9h.75M75.1 320.3h.75M59.4 318.2h.75M62.9 320.9h.75M69.1 320.0h.75M67.8 314.7h.75M72.0 312.7h.75M72.3 311.1h.75M74.8 319.4h.75M64.2 319.8h.75M69.6 320.5h.75M66.4 313.3h.75M71.0 313.0h.75M68.0 316.5h.75M70.7 321.7h.75M64.5 317.0h.75M67.9 316.3h.75M65.3 310.7h.75M66.3 317.4h.75M65.6 317.9h.75M63.4 310.0h.75M71.5 324.4h.75M68.4 310.2h.75M71.5 320.0h.75M63.5 314.0h.75M59.8 315.9h.75M64.8 310.9h.75M66.7 312.1h.75M70.3 318.8h.75M71.3 314.0h.75M72.0 313.3h.75M73.2 319.8h.75M70.1 318.9h.75M67.7 316.0h.75M64.4 316.3h.75M69.9 324.2h.75M65.4 314.2h.75M64.2 317.1h.75M69.5 317.3h.75M68.1 307.6h.75M70.6 304.8h.75M64.6 315.8h.75M71.8 319.7h.75M68.7 316.2h.75M66.7 312.2h.75M64.4 311.6h.75M63.2 319.4h.75M62.1 313.5h.75M72.7 306.5h.75M61.9 318.7h.75M69.7 316.3h.75M66.4 317.1h.75M65.1 320.6h.75M65.5 322.1h.75M66.9 318.1h.75M70.8 314.2h.75M69.5 303.8h.75M67.3 316.6h.75M62.1 314.3h.75M60.5 322.1h.75M74.4 321.9h.75M63.4 317.6h.75M61.3 322.4h.75M71.6 314.7h.75M61.6 314.8h.75M70.1 310.6h.75M70.9 313.4h.75M68.2 316.2h.75M71.0 320.7h.75M62.0 311.2h.75M62.6 319.3h.75M66.6 327.5h.75M67.3 307.9h.75M67.0 313.7h.75M69.1 315.2h.75M64.5 320.4h.75M59.1 325.6h.75M68.8 321.6h.75M66.4 314.9h.75M70.4 310.6h.75M75.3 314.8h.75M67.6 314.9h.75M69.5 316.4h.75M63.9 310.3h.75M70.8 323.2h.75M68.6 311.2h.75M68.2 318.7h.75M70.8 316.2h.75M63.0 309.2h.75M69.4 315.4h.75M69.0 315.2h.75M73.4 314.1h.75M60.4 319.4h.75M66.9 312.5h.75M75.7 328.6h.75M65.7 321.1h.75M65.6 310.2h.75M74.1 301.8h.75M76.9 321.7h.75M67.7 316.4h.75M64.5 315.5h.75M65.0 309.9h.75M65.8 307.4h.75M64.0 305.1h.75M64.2 328.7h.75M67.9 323.6h.75M67.4 312.1h.75M69.1 325.1h.75M67.4 305.2h.75M62.6 318.8h.75M70.1 318.8h.75M68.2 310.5h.75M65.0 312.6h.75M66.2 309.5h.75M68.5 315.3h.75M67.6 322.1h.75M66.8 320.4h.75M70.2 317.3h.75M71.4 321.0h.75M66.1 305.5h.75M67.2 325.8h.75M63.0 314.8h.75M66.6 308.0h.75M69.1 313.0h.75M70.6 311.6h.75M67.9 315.5h.75M66.9 316.7h.75M64.5 302.5h.75M68.1 321.8h.75M63.1 324.3h.75M67.8 309.5h.75M67.4 322.9h.75M63.8 321.8h.75M68.5 320.5h.75M66.5 323.8h.75M69.6 307.6h.75M65.4 318.9h.75M69.1 309.6h.75M73.2 327.7h.75M68.0 309.8h.75M70.3 308.4h.75M64.8 321.0h.75M65.9 318.4h.75M60.1 315.2h.75M66.7 315.8h.75M62.9 318.3h.75M67.7 324.3h.75M59.4 311.2h.75M64.0 312.0h.75M67.6 311.9h.75M68.8 314.6h.75M60.9 315.1h.75M65.7 308.1h.75M77.1 316.6h.75M70.3 308.2h.75M67.9 313.3h.75M56.7 313.7h.75M63.7 313.7h.75M69.2 323.0h.75M68.2 323.8h.75M69.0 320.8h.75M70.9 323.5h.75M67.6 313.5h.75M70.5 322.6h.75M60.4 314.7h.75M76.8 316.2h.75M66.1 316.5h.75M64.8 307.8h.75M73.0 311.7h.75M69.6 314.2h.75M71.0 317.0h.75M64.9 314.3h.75M68.3 310.4h.75M70.0 308.8h.75M62.9 315.1h.75M66.4 308.6h.75M66.3 308.7h.75M66.1 314.4h.75M64.6 316.0h.75M62.4 310.5h.75M68.9 305.4h.75M68.2 316.5h.75M71.7 319.4h.75M67.0 312.8h.75M64.7 313.0h.75M61.7 302.5h.75M67.6 319.9h.75M66.1 309.1h.75M74.9 318.9h.75M76.0 311.8h.75M73.3 314.2h.75M63.8 314.0h.75M61.9 305.3h.75M66.3 329.8h.75M63.8 306.6h.75M72.7 315.6h.75M67.7 310.6h.75M65.7 313.7h.75M67.2 322.4h.75M72.0 304.9h.75M63.6 314.2h.75M69.1 317.7h.75M62.2 315.7h.75M66.4 317.1h.75M64.7 311.0h.75M68.4 306.1h.75M67.8 307.9h.75M71.8 312.8h.75M69.9 319.0h.75M64.9 315.4h.75M62.2 323.7h.75M64.1 315.5h.75M65.6 316.0h.75M66.4 316.1h.75M64.3 305.7h.75M71.4 318.1h.75M70.8 309.0h.75M66.2 313.0h.75M65.3 327.7h.75M66.3 308.3h.75M67.1 315.6h.75M67.1 316.6h.75M61.1 315.7h.75M65.6 315.0h.75M60.1 312.0h.75M67.4 325.8h.75M69.8 304.2h.75M63.2 309.5h.75M67.9 323.0h.75M64.9 318.0h.75M64.6 310.9h.75M74.7 310.1h.75M70.6 313.7h.75M69.1 329.3h.75M65.6 317.7h.75M68.8 309.4h.75M66.5 316.3h.75M69.0 311.6h.75M63.8 323.1h.75M66.9 316.6h.75M65.7 321.8h.75M61.8 315.9h.75M73.7 326.0h.75M70.3 317.2h.75M64.2 316.5h.75M61.6 309.5h.75M64.4 312.7h.75M64.0 317.1h.75M64.9 312.3h.75M61.4 328.4h.75M64.1 314.9h.75M67.5 310.9h.75M68.8 320.3h.75M59.7 312.1h.75M67.2 317.2h.75M63.4 314.5h.75M63.2 311.1h.75M66.0 322.5h.75M64.6 315.5h.75M69.9 320.9h.75M69.9 313.2h.75M66.0 307.3h.75M64.7 308.3h.75M74.1 312.2h.75M74.4 314.0h.75M68.7 315.3h.75M66.6 317.8h.75M71.1 308.3h.75M72.8 316.2h.75M65.2 308.4h.75M74.1 311.3h.75M66.6 328.9h.75M71.4 321.9h.75M65.2 313.0h.75M67.5 324.7h.75M65.5 322.7h.75M67.3 319.8h.75M71.1 322.9h.75M63.8 313.7h.75M66.1 314.3h.75M69.3 310.4h.75M65.4 318.2h.75M75.0 308.2h.75M61.6 312.3h.75M77.0 317.5h.75M64.7 312.3h.75M71.0 316.9h.75M73.4 324.9h.75M69.3 309.7h.75M61.8 322.6h.75M65.9 311.3h.75M67.5 310.0h.75M69.4 316.2h.75M71.0 320.6h.75M71.5 311.1h.75M72.9 311.1h.75M63.5 312.6h.75M71.0 311.1h.75M60.5 316.0h.75M67.8 311.2h.75M63.1 313.6h.75M60.3 316.9h.75M70.8 312.7h.75M67.1 321.2h.75M71.0 311.3h.75M61.1 310.8h.75M62.5 326.0h.75M66.8 323.1h.75M64.6 315.4h.75M67.5 319.5h.75M64.8 316.8h.75M65.9 312.2h.75M62.8 318.6h.75M72.2 316.6h.75M66.0 321.9h.75M62.6 305.0h.75M69.8 319.4h.75M69.1 315.9h.75M68.0 311.3h.75M68.1 312.7h.75M65.7 312.8h.75M66.7 307.9h.75M58.6 311.9h.75M61.2 319.2h.75M62.4 306.8h.75M68.3 313.0h.75M71.9 302.2h.75M66.6 311.9h.75M66.2 317.1h.75M71.6 314.7h.75M65.8 315.2h.75M69.7 309.0h.75M68.9 318.1h.75M62.1 310.1h.75M68.4 319.9h.75M68.0 316.1h.75M62.8 312.9h.75M63.2 323.0h.75M62.3 312.9h.75M72.5 320.5h.75M75.4 315.6h.75M69.9 315.0h.75M73.3 320.4h.75M62.0 317.4h.75M72.7 315.0h.75M74.9 314.4h.75M73.5 316.1h.75M63.6 315.5h.75M71.4 313.2h.75M66.8 309.4h.75M71.4 301.0h.75M64.7 314.4h.75M67.3 313.7h.75M65.0 321.6h.75M69.1 317.4h.75M66.8 321.2h.75M71.5 324.4h.75M70.4 314.4h.75M68.8 310.5h.75M67.1 319.4h.75M66.0 311.8h.75M67.2 313.6h.75M70.1 322.8h.75M67.7 318.0h.75M68.3 320.9h.75M67.1 307.7h.75M66.9 315.2h.75M64.6 321.1h.75M59.9 308.1h.75M69.4 316.1h.75M69.4 317.2h.75M63.4 302.6h.75M74.6 323.6h.75M62.7 311.2h.75M71.1 314.3h.75M68.2 324.1h.75M68.4 305.3h.75M71.6 317.5h.75M70.8 312.6h.75M67.3 315.2h.75M63.1 310.6h.75M62.5 322.4h.75M68.0 309.0h.75M73.4 317.0h.75M70.6 317.9h.75M67.1 314.5h.75M68.5 313.5h.75M69.9 313.6h.75M73.9 320.5h.75M64.3 317.5h.75M70.0 314.6h.75M68.3 309.1h.75M64.3 315.9h.75M63.3 317.9h.75M72.2 314.8h.75M68.5 322.8h.75M66.4 304.7h.75M67.6 328.5h.75M71.0 314.0h.75M67.6 308.9h.75M73.5 305.6h.75M66.2 319.7h.75M64.2 318.1h.75M66.8 313.8h.75M63.6 314.8h.75M65.9 315.9h.75M72.0 312.7h.75M73.9 321.3h.75M69.7 318.4h.75M68.0 314.4h.75M63.7 306.2h.75M63.3 322.4h.75M68.7 312.4h.75M67.9 309.4h.75M65.0 322.0h.75M65.5 317.7h.75M73.3 304.1h.75M71.1 306.0h.75M67.4 312.9h.75M68.1 308.2h.75M72.2 314.2h.75M68.6 329.2h.75M68.1 331.1h.75M61.1 314.8h.75M60.7 319.4h.75M59.8 319.8h.75M58.4 314.4h.75M67.2 307.1h.75M68.5 320.8h.75M63.8 314.1h.75M68.9 317.5h.75M68.9 318.9h.75M66.9 310.7h.75M61.5 324.2h.75M72.8 315.5h.75M72.6 316.3h.75M65.0 312.7h.75M74.8 318.9h.75M67.4 320.5h.75M64.2 312.0h.75M65.6 318.2h.75M60.0 312.7h.75M65.9 308.4h.75M61.0 313.3h.75M71.6 318.3h.75M68.5 318.0h.75M61.8 320.9h.75M69.5 311.4h.75M60.5 313.4h.75M67.8 315.4h.75M69.1 318.4h.75M67.5 314.4h.75M62.8 309.9h.75M66.8 306.7h.75M66.5 321.4h.75M67.5 320.8h.75M73.0 311.5h.75M73.8 323.1h.75M73.4 314.7h.75M64.7 317.5h.75M64.3 321.9h.75M67.3 312.5h.75M68.9 310.9h.75M59.2 305.7h.75M64.8 316.7h.75M74.2 317.5h.75M62.4 319.7h.75M64.3 318.3h.75M64.5 315.6h.75M69.1 321.3h.75M67.0 309.5h.75M65.9 317.2h.75M61.3 317.9h.75M69.6 314.4h.75M67.2 324.4h.75M64.6 317.5h.75M67.3 322.4h.75M70.3 319.9h.75M61.4 314.1h.75M61.2 325.6h.75M63.2 321.1h.75M63.8 315.2h.75M55.3 314.4h.75M64.9 309.5h.75M71.5 314.3h.75M65.9 313.8h.75M71.2 316.2h.75M56.0 312.8h.75M66.8 318.2h.75M72.6 314.6h.75M73.3 306.5h.75M65.3 312.3h.75M64.0 310.2h.75M68.7 308.2h.75M62.4 313.7h.75M65.8 320.0h.75M60.7 309.0h.75M67.5 304.2h.75M67.2 314.2h.75M73.6 331.3h.75M68.6 311.9h.75M64.6 316.6h.75M66.8 312.9h.75M62.2 319.8h.75M67.3 322.9h.75M66.4 314.2h.75M68.8 321.5h.75M70.8 309.2h.75M59.4 316.2h.75M68.5 308.2h.75M70.1 316.1h.75M62.5 311.8h.75M74.6 316.4h.75M64.4 309.0h.75M76.8 316.4h.75M70.3 315.7h.75M71.0 312.0h.75M68.3 310.8h.75M71.1 308.7h.75M63.2 313.0h.75M64.0 317.3h.75M59.5 314.4h.75M69.3 316.0h.75M64.4 322.0h.75M70.1 313.4h.75M69.5 316.7h.75M62.0 319.6h.75M69.9 317.9h.75M68.2 317.2h.75M68.0 315.6h.75M69.0 325.6h.75M67.1 314.7h.75M67.2 313.0h.75M71.3 318.3h.75M63.3 324.0h.75M62.5 322.8h.75M64.2 315.3h.75M71.2 319.6h.75M65.9 317.8h.75M74.7 315.5h.75M55.2 318.7h.75M64.4 318.5h.75M65.5 315.9h.75M68.3 324.5h.75M72.4 313.1h.75M66.5 322.7h.75M63.2 326.5h.75M70.5 326.6h.75M73.3 316.6h.75M57.2 314.1h.75M69.5 306.5h.75M68.4 314.8h.75M63.9 328.4h.75M65.3 306.6h.75M68.3 306.8h.75M67.3 319.7h.75M66.2 318.5h.75M62.6 305.3h.75M68.3 314.8h.75M64.6 317.0h.75M67.5 306.9h.75M64.9 320.3h.75M68.0 308.0h.75M70.1 321.3h.75M68.1 316.2h.75M69.8 311.4h.75M61.8 306.4h.75M69.0 313.3h.75M68.3 314.6h.75M64.7 314.4h.75M66.6 311.9h.75M56.3 314.0h.75M67.5 319.9h.75M65.6 310.2h.75M58.3 314.0h.75M69.2 317.6h.75M64.7 315.0h.75M68.3 319.8h.75M66.3 323.6h.75M69.1 313.2h.75M67.5 316.3h.75M66.1 299.2h.75M69.1 313.2h.75M70.4 318.8h.75M58.3 309.1h.75M67.3 322.3h.75M64.9 304.9h.75M62.9 322.4h.75M72.3 312.3h.75M70.9 309.6h.75M63.1 312.5h.75M62.8 313.7h.75M70.4 309.6h.75M64.7 307.6h.75M65.9 312.3h.75M59.5 320.2h.75M66.6 317.3h.75M71.6 322.4h.75M65.4 311.8h.75M66.7 313.2h.75M74.0 313.3h.75M70.6 315.9h.75M72.7 317.6h.75M69.6 324.6h.75M71.9 318.9h.75M60.7 316.0h.75M64.0 322.4h.75M60.7 310.9h.75M75.8 308.0h.75M67.9 318.7h.75M66.7 316.0h.75M64.2 315.7h.75M63.2 320.1h.75M56.2 313.3h.75M75.9 314.5h.75M66.8 317.1h.75M67.4 318.6h.75M61.7 320.4h.75M66.9 315.7h.75M68.6 316.5h.75M66.9 302.0h.75M69.6 321.7h.75M63.9 306.6h.75M68.4 314.8h.75M70.7 328.8h.75M69.4 313.3h.75M68.7 306.5h.75M66.8 323.8h.75M63.3 312.1h.75M69.3 314.2h.75M65.6 314.2h.75M63.5 319.0h.75M70.2 319.3h.75M60.9 314.4h.75M65.0 321.1h.75M70.2 310.2h.75M70.9 318.7h.75M65.7 311.7h.75M67.4 318.8h.75M69.3 311.4h.75M66.9 312.7h.75M64.2 323.0h.75M68.9 309.0h.75M67.8 308.7h.75M67.6 318.2h.75M71.5 313.6h.75M68.4 312.7h.75M65.4 314.3h.75M67.8 326.5h.75M74.7 309.4h.75M64.4 313.6h.75M66.1 315.9h.75M64.0 310.0h.75M68.5 314.8h.75M62.2 317.7h.75M68.9 310.1h.75M70.1 321.1h.75M64.1 308.9h.75M63.9 314.3h.75M61.4 316.8h.75M67.3 332.2h.75M62.8 305.6h.75M64.7 316.6h.75M65.5 328.7h.75M64.5 311.8h.75M70.4 320.9h.75M73.4 316.2h.75M58.9 307.3h.75M64.0 317.2h.75M68.1 310.2h.75M63.1 315.5h.75M65.1 306.9h.75M68.0 319.0h.75M72.6 302.0h.75M71.8 314.1h.75M66.0 322.0h.75M67.7 317.8h.75M65.8 313.1h.75M66.5 313.7h.75M62.6 312.7h.75M60.3 329.7h.75M65.7 314.7h.75M71.0 314.9h.75M70.2 311.0h.75M59.9 312.4h.75M66.4 318.3h.75M64.7 311.7h.75M68.3 310.7h.75M62.9 312.0h.75M70.7 313.1h.75M66.4 315.9h.75M69.4 312.4h.75M70.6 314.0h.75M59.6 311.0h.75M66.3 321.7h.75M73.1 315.5h.75M67.3 313.3h.75M71.2 316.6h.75M68.8 314.8h.75M65.2 306.5h.75M68.3 314.0h.75M71.3 323.9h.75M72.2 317.7h.75M72.8 321.4h.75M62.9 311.4h.75M70.4 307.0h.75M61.8 311.2h.75M66.7 322.3h.75M66.4 309.6h.75M69.6 310.7h.75M68.4 321.0h.75M72.0 313.6h.75M64.8 313.9h.75M70.5 317.1h.75M68.7 315.5h.75M67.2 313.4h.75M62.5 316.4h.75M69.4 311.1h.75M68.4 314.8h.75M70.3 318.5h.75M67.0 309.3h.75M66.2 313.8h.75M68.7 308.8h.75M69.0 319.0h.75M69.9 318.3h.75M74.6 320.1h.75M64.8 320.6h.75M75.0 320.5h.75M55.7 318.9h.75M70.9 310.8h.75M64.0 320.1h.75M75.0 310.1h.75M63.7 327.6h.75M71.3 316.6h.75M63.3 318.2h.75M62.8 308.3h.75M70.3 320.8h.75M70.6 321.3h.75M64.5 306.5h.75M76.5 312.0h.75M65.9 312.5h.75M73.3 311.5h.75M63.2 322.5h.75M63.4 326.7h.75M67.5 309.2h.75M63.2 320.7h.75M69.0 313.6h.75M58.8 322.4h.75M67.9 301.8h.75M65.0 312.7h.75M63.5 321.6h.75M68.0 310.9h.75M66.3 321.4h.75M65.4 312.2h.75M70.3 321.1h.75M68.3 318.1h.75M68.7 312.7h.75M72.4 310.9h.75M66.9 314.1h.75M70.4 321.3h.75M65.6 315.0h.75M69.6 311.4h.75M69.2 332.9h.75M65.1 306.5h.75M61.3 313.8h.75M62.2 317.9h.75M63.5 309.3h.75M69.3 314.9h.75M66.7 312.7h.75M66.0 307.0h.75M69.0 317.4h.75M70.0 308.8h.75M72.6 310.9h.75M64.9 321.6h.75M69.3 308.9h.75M69.9 318.2h.75M63.5 321.4h.75M67.7 320.3h.75M63.6 317.5h.75M66.3 313.7h.75M68.8 307.4h.75M60.6 315.8h.75M63.8 317.4h.75M64.1 312.2h.75M67.6 309.6h.75M64.3 319.7h.75M68.6 309.3h.75M63.9 317.3h.75M65.2 312.4h.75M69.5 305.8h.75M68.4 323.7h.75M67.8 318.3h.75M67.0 317.9h.75M71.1 307.3h.75M72.5 314.2h.75M65.8 316.4h.75M64.4 310.9h.75M63.2 323.8h.75M73.9 304.0h.75M63.7 318.7h.75M62.1 304.7h.75M68.2 306.4h.75M71.3 308.0h.75M62.4 318.0h.75M66.7 311.0h.75M61.6 311.2h.75M64.5 309.9h.75M73.5 306.8h.75M67.8 310.0h.75M66.2 309.5h.75M67.5 313.1h.75M68.3 312.7h.75M66.8 301.8h.75M62.6 311.3h.75M62.6 321.3h.75M75.0 312.2h.75M64.2 314.3h.75M71.8 310.8h.75M64.4 311.0h.75M72.2 314.3h.75M69.9 307.4h.75M66.4 313.7h.75M75.0 305.6h.75M63.6 316.4h.75M66.3 306.1h.75M63.9 318.1h.75M64.2 320.1h.75M65.8 305.8h.75M63.5 318.2h.75M65.9 312.3h.75M73.3 320.8h.75M60.5 311.7h.75M62.3 313.0h.75M63.5 312.9h.75M65.4 321.3h.75M71.1 304.0h.75M70.0 318.6h.75M69.0 315.0h.75M68.0 311.8h.75M76.5 313.2h.75M62.8 319.5h.75M62.7 318.9h.75M67.1 323.6h.75M68.0 311.0h.75M66.3 304.2h.75M63.9 311.5h.75M62.1 313.4h.75M66.1 312.1h.75M64.5 321.1h.75M65.3 326.8h.75M63.0 316.5h.75M72.4 304.8h.75M68.9 320.1h.75M74.4 311.0h.75M65.2 314.7h.75M67.4 319.0h.75M66.2 316.4h.75M67.3 314.1h.75M66.2 316.0h.75M66.6 318.5h.75M59.6 317.8h.75M66.1 325.6h.75M69.9 298.3h.75M59.6 310.2h.75M65.8 311.3h.75M69.4 318.9h.75M72.1 315.6h.75M66.9 319.0h.75M69.0 306.7h.75M74.0 313.2h.75M72.2 317.9h.75M65.4 314.1h.75M64.9 312.3h.75M71.1 315.9h.75M68.1 323.3h.75M65.1 303.0h.75M66.3 323.0h.75M68.4 315.9h.75M66.4 309.8h.75M66.2 318.0h.75M66.3 314.6h.75M61.4 320.9h.75M73.9 310.1h.75M71.9 319.6h.75M73.1 309.5h.75M66.7 316.1h.75M67.7 318.2h.75M69.4 314.0h.75M70.4 317.9h.75M60.1 311.2h.75M68.6 320.2h.75M63.3 311.7h.75M66.9 310.6h.75M64.6 313.8h.75M73.8 314.1h.75M69.3 309.9h.75M67.1 318.7h.75M72.6 313.8h.75M66.9 317.7h.75M64.4 306.4h.75M66.5 307.3h.75M65.8 313.0h.75M67.4 309.1h.75M70.5 313.7h.75M66.7 317.5h.75M66.9 320.4h.75M71.1 322.4h.75M71.0 307.8h.75M66.6 308.5h.75M70.3 309.3h.75M67.2 305.4h.75M70.3 303.7h.75M65.6 305.0h.75M72.6 303.5h.75M69.9 301.3h.75M67.9 309.9h.75M64.7 310.8h.75M69.5 303.5h.75M67.2 302.6h.75M69.4 301.5h.75M66.6 296.8h.75M67.1 300.8h.75M70.5 301.4h.75M73.0 303.4h.75M65.0 299.5h.75M68.1 295.9h.75M69.8 306.1h.75M68.3 310.4h.75M67.4 295.0h.75M75.0 303.0h.75M66.3 306.9h.75M69.7 298.8h.75M67.3 297.8h.75M68.4 303.6h.75M62.1 302.6h.75M71.3 301.0h.75M68.1 310.1h.75M65.9 309.5h.75M73.5 306.1h.75M67.9 303.3h.75M66.9 302.2h.75M66.3 307.1h.75M71.8 302.6h.75M68.8 309.5h.75M67.8 308.5h.75M64.9 301.1h.75M66.1 306.6h.75M69.7 309.8h.75M68.6 306.2h.75M62.9 299.8h.75M66.2 302.5h.75M69.4 302.2h.75M76.5 304.1h.75M66.5 303.7h.75M62.3 302.2h.75M70.9 307.1h.75M67.3 309.0h.75M64.9 301.4h.75M70.3 297.7h.75M68.0 305.1h.75M65.9 303.7h.75M64.9 305.3h.75M68.3 300.9h.75M69.0 304.8h.75M63.6 300.0h.75M71.6 308.1h.75M65.0 310.4h.75M72.8 300.0h.75M69.7 293.3h.75M68.2 301.8h.75M69.7 301.6h.75M67.0 304.5h.75M68.5 303.8h.75M73.5 305.7h.75M67.1 314.6h.75M71.1 301.5h.75M66.1 302.3h.75M68.7 305.5h.75M71.5 296.4h.75M65.2 306.9h.75M69.7 301.3h.75M62.5 298.0h.75M65.4 300.4h.75M67.5 305.8h.75M71.3 307.2h.75M70.8 308.8h.75M66.1 305.5h.75M68.3 300.9h.75M69.2 306.0h.75M64.2 303.5h.75M69.9 313.2h.75M72.6 295.6h.75M72.3 310.3h.75M67.0 306.9h.75M67.5 305.5h.75M66.0 303.5h.75M67.3 301.6h.75M68.0 300.0h.75M70.7 297.6h.75M68.9 312.0h.75M66.0 307.6h.75M71.1 306.6h.75M71.3 305.3h.75M66.9 296.2h.75M68.0 302.8h.75M68.4 304.4h.75M63.9 308.5h.75M69.1 299.9h.75M70.7 305.0h.75M74.4 302.9h.75M69.3 304.0h.75M67.9 300.8h.75M68.3 305.3h.75M70.5 304.2h.75M71.0 296.4h.75M66.2 308.8h.75M69.3 312.7h.75M70.6 300.4h.75M62.9 308.5h.75M72.7 300.0h.75M68.1 301.8h.75M71.2 311.0h.75M68.6 304.7h.75M68.0 310.0h.75M68.5 305.1h.75M69.6 308.0h.75M71.2 303.3h.75M68.0 309.7h.75M65.5 311.1h.75M66.7 306.7h.75M65.9 301.7h.75M70.9 302.5h.75M65.9 300.2h.75M73.1 306.4h.75M69.1 306.1h.75M68.5 301.2h.75M72.5 307.7h.75M67.7 301.7h.75M67.9 311.3h.75M71.0 307.3h.75M70.9 310.4h.75M65.8 301.2h.75M75.9 300.0h.75M70.4 296.7h.75M65.1 306.6h.75M68.2 299.5h.75M71.4 309.4h.75M69.4 304.6h.75M71.2 307.1h.75M75.6 298.9h.75M71.5 301.7h.75M74.6 304.8h.75M70.7 307.0h.75M66.8 298.9h.75M73.1 305.4h.75M66.7 300.7h.75M71.5 307.3h.75M70.7 303.1h.75M66.3 302.9h.75M66.7 305.8h.75M68.3 308.7h.75M70.0 303.1h.75M72.7 309.0h.75M69.0 300.1h.75M74.3 305.2h.75M71.3 299.6h.75M67.0 304.9h.75M67.0 300.4h.75M69.1 304.2h.75M67.3 306.5h.75M68.6 300.2h.75M71.1 297.1h.75M69.6 303.4h.75M71.7 306.1h.75M66.9 305.0h.75M66.4 300.4h.75M64.8 307.4h.75M63.7 302.9h.75M67.6 307.1h.75M69.1 300.5h.75M68.3 305.8h.75M68.9 308.7h.75M74.8 301.4h.75M65.7 302.9h.75M68.1 306.5h.75M67.5 306.1h.75M66.3 305.4h.75M72.8 303.5h.75M68.8 297.8h.75M72.5 304.0h.75M65.6 298.9h.75M74.3 304.4h.75M75.5 294.7h.75M66.4 309.7h.75M68.9 311.6h.75M68.5 305.8h.75M70.5 300.6h.75M65.1 302.8h.75M70.3 307.5h.75M71.0 306.6h.75M67.2 301.2h.75M62.4 308.8h.75M67.0 306.9h.75M67.8 306.1h.75M71.1 302.6h.75M67.1 304.0h.75M65.6 301.2h.75M70.7 304.7h.75M70.0 301.4h.75M71.1 308.6h.75M69.1 304.1h.75M72.0 304.8h.75M70.4 305.3h.75M63.8 305.3h.75M69.5 298.3h.75M71.2 309.1h.75M69.0 304.4h.75M73.2 301.8h.75M67.6 300.1h.75M71.0 301.3h.75M65.4 301.5h.75M68.9 304.0h.75M67.4 300.6h.75M66.0 304.4h.75M65.2 304.5h.75M69.6 301.2h.75M70.2 312.7h.75M67.1 303.5h.75M65.4 305.3h.75M66.4 304.4h.75M71.2 303.3h.75M65.5 306.6h.75M72.2 309.4h.75M64.1 303.7h.75M69.8 300.5h.75M70.9 306.1h.75M72.5 295.4h.75M67.7 304.6h.75M66.7 303.2h.75M64.8 305.2h.75M71.6 297.9h.75M68.6 302.2h.75M67.6 299.8h.75M67.7 301.8h.75M69.7 306.2h.75M69.1 303.1h.75M72.4 301.5h.75M62.7 308.6h.75M71.4 303.9h.75M67.4 295.8h.75M68.7 299.7h.75M68.1 305.5h.75M68.7 305.6h.75M71.2 304.7h.75M69.6 304.8h.75M64.8 300.2h.75M68.8 303.4h.75M68.7 299.1h.75M70.0 300.5h.75M69.1 300.2h.75M68.7 300.4h.75M71.9 302.4h.75M65.8 302.8h.75M75.3 300.6h.75M67.3 308.0h.75M66.0 301.9h.75M71.2 309.8h.75M90.5 326.9h.75M82.2 317.3h.75M90.1 310.5h.75M81.5 310.7h.75M92.2 326.0h.75M88.0 323.2h.75M83.0 324.0h.75M78.5 318.4h.75M85.2 324.7h.75M81.6 327.4h.75M90.8 323.1h.75M82.0 308.3h.75M85.8 306.0h.75M88.5 309.2h.75M86.7 320.5h.75M87.6 309.0h.75M85.7 311.7h.75M89.3 319.0h.75M83.1 313.0h.75M88.8 310.4h.75M82.1 325.0h.75M87.3 321.9h.75M82.4 323.8h.75M85.9 324.7h.75M88.8 328.1h.75M91.2 318.4h.75M79.9 317.4h.75M83.7 307.2h.75M82.9 317.1h.75M91.1 314.7h.75M83.3 325.4h.75M89.2 323.0h.75M84.7 328.2h.75M81.2 325.7h.75M87.0 326.3h.75M82.3 322.0h.75M89.3 319.5h.75M89.7 316.1h.75M91.6 318.5h.75M82.8 312.3h.75M92.5 321.1h.75M90.2 318.0h.75M79.8 305.3h.75M94.9 300.9h.75M92.9 313.8h.75M82.7 315.5h.75M87.8 316.6h.75M81.5 327.0h.75M86.1 314.4h.75M87.3 310.2h.75M88.9 321.0h.75M83.5 325.0h.75M86.5 329.2h.75M83.1 311.9h.75M88.0 316.8h.75M89.0 315.7h.75M86.8 328.3h.75M90.9 323.0h.75M89.4 318.6h.75M88.0 323.2h.75M90.9 316.1h.75M81.9 317.1h.75M86.4 318.2h.75M79.9 315.2h.75M86.5 316.8h.75M84.8 320.8h.75M89.7 320.0h.75M84.9 328.1h.75M84.2 324.1h.75M86.2 318.0h.75M86.1 304.2h.75M88.5 308.8h.75M83.3 315.2h.75M80.9 315.9h.75M80.6 309.9h.75M90.9 316.0h.75M81.8 319.1h.75M84.8 314.3h.75M82.4 317.5h.75M89.9 317.8h.75M84.4 313.8h.75M91.2 312.8h.75M83.9 317.5h.75M87.7 320.1h.75M89.4 311.6h.75M90.2 305.1h.75M82.1 312.1h.75M85.2 321.6h.75M86.3 307.9h.75M79.7 324.3h.75M89.2 314.5h.75M88.0 319.1h.75M88.5 313.3h.75M81.3 322.1h.75M87.3 318.6h.75M88.2 320.7h.75M90.4 305.7h.75M84.6 323.0h.75M89.1 307.4h.75M94.0 316.1h.75M84.9 321.7h.75M85.0 317.0h.75M85.4 321.5h.75M81.0 319.4h.75M85.2 318.9h.75M92.7 313.0h.75M83.1 324.8h.75M85.9 325.5h.75M91.1 314.8h.75M88.7 312.5h.75M87.4 319.6h.75M85.3 313.4h.75M86.2 319.2h.75M86.6 323.6h.75M89.2 322.6h.75M86.9 327.8h.75M90.1 321.3h.75M79.6 311.5h.75M89.7 312.8h.75M84.6 321.7h.75M86.6 330.6h.75M85.0 316.0h.75M89.0 312.4h.75M86.2 327.3h.75M88.9 317.5h.75M83.6 322.7h.75M87.3 325.2h.75M91.2 311.9h.75M90.8 316.0h.75M85.3 314.7h.75M87.1 321.7h.75M85.2 322.5h.75M86.2 315.1h.75M86.7 321.8h.75M91.1 306.8h.75M88.8 320.5h.75M92.1 320.5h.75M92.4 318.3h.75M81.9 308.9h.75M87.8 317.6h.75M84.9 311.4h.75M80.5 327.6h.75M82.6 316.4h.75M84.7 316.9h.75M92.9 317.5h.75M86.9 321.7h.75M85.9 318.7h.75M86.5 321.7h.75M83.8 312.3h.75M87.3 325.3h.75M86.3 315.1h.75M80.5 323.1h.75M84.6 319.8h.75M99.2 325.1h.75M89.0 317.8h.75M86.3 308.8h.75M89.1 310.9h.75M83.0 316.8h.75M87.0 327.1h.75M89.9 315.6h.75M80.6 318.6h.75M83.9 326.3h.75M85.1 314.6h.75M85.6 320.2h.75M84.7 320.0h.75M87.6 314.4h.75M90.4 319.7h.75M87.9 324.9h.75M90.4 324.9h.75M90.5 316.1h.75M84.4 336.9h.75M87.6 320.5h.75M85.2 316.5h.75M89.1 313.6h.75M85.3 312.0h.75M85.9 323.5h.75M93.0 299.8h.75M86.0 317.3h.75M80.8 309.5h.75M87.1 317.2h.75M87.7 318.0h.75M84.7 309.9h.75M86.9 311.9h.75M90.4 326.3h.75M84.7 314.7h.75M85.9 318.2h.75M84.0 316.2h.75M87.9 323.5h.75M86.2 326.0h.75M83.2 324.1h.75M86.1 321.8h.75M93.4 321.8h.75M80.3 310.7h.75M81.5 326.6h.75M87.9 314.7h.75M81.5 312.6h.75M93.9 315.8h.75M81.1 313.2h.75M81.8 320.9h.75M84.7 322.9h.75M90.7 326.4h.75M89.6 317.6h.75M88.8 314.4h.75M87.8 316.5h.75M91.5 310.8h.75M79.9 313.5h.75M87.7 331.0h.75M92.0 313.3h.75M82.7 315.3h.75M87.8 322.3h.75M91.2 319.9h.75M91.3 323.1h.75M86.1 312.7h.75M93.6 311.4h.75M88.5 326.7h.75M90.6 313.9h.75M82.7 317.6h.75M83.9 319.6h.75M83.8 306.4h.75M93.2 317.0h.75M78.0 314.1h.75M79.8 321.6h.75M89.6 316.3h.75M87.2 303.9h.75M75.7 323.3h.75M85.2 301.9h.75M85.5 315.6h.75M91.1 313.8h.75M79.6 314.3h.75M84.7 318.2h.75M90.6 324.3h.75M89.5 312.7h.75M83.3 314.3h.75M85.6 323.0h.75M81.2 321.5h.75M91.7 322.8h.75M85.1 320.4h.75M91.4 316.7h.75M89.6 315.1h.75M83.4 315.2h.75M86.1 324.0h.75M89.1 327.8h.75M88.3 330.9h.75M92.3 311.6h.75M90.8 316.7h.75M87.9 318.3h.75M89.2 317.2h.75M84.1 311.0h.75M84.5 332.2h.75M88.9 327.9h.75M87.9 317.2h.75M82.6 315.3h.75M86.4 318.2h.75M83.7 310.5h.75M84.6 316.1h.75M91.5 323.2h.75M83.2 328.8h.75M84.3 323.9h.75M88.8 326.6h.75M87.0 311.5h.75M87.3 297.5h.75M81.4 327.1h.75M86.6 319.4h.75M85.3 317.7h.75M83.7 329.0h.75M84.6 312.1h.75M85.6 312.1h.75M89.8 313.5h.75M93.6 328.6h.75M87.1 324.3h.75M92.2 306.8h.75M87.1 328.9h.75M81.3 318.3h.75M86.9 321.0h.75M91.4 313.3h.75M91.9 330.3h.75M83.5 321.1h.75M95.0 326.7h.75M84.0 311.8h.75M84.0 322.8h.75M84.8 318.8h.75M92.1 316.8h.75M88.2 313.0h.75M90.1 313.7h.75M78.6 310.7h.75M86.5 314.0h.75M86.3 318.1h.75M89.3 322.0h.75M85.0 308.2h.75M91.1 311.6h.75M84.2 314.3h.75M81.6 307.7h.75M80.7 316.4h.75M91.4 316.5h.75M89.5 317.0h.75M83.9 320.9h.75M90.8 324.3h.75M86.1 323.4h.75M86.3 320.0h.75M81.4 322.1h.75M84.7 313.1h.75M87.2 312.2h.75M87.5 322.4h.75M84.7 321.9h.75M90.4 332.4h.75M92.1 316.8h.75M83.8 311.9h.75M88.2 320.1h.75M81.2 315.3h.75M88.3 312.5h.75M83.2 327.1h.75M86.2 330.7h.75M87.4 320.6h.75M85.9 314.0h.75M90.6 319.9h.75M83.9 317.9h.75M85.1 309.3h.75M88.0 323.7h.75M86.7 320.5h.75M87.7 326.4h.75M86.0 314.7h.75M83.8 318.2h.75M89.2 317.5h.75M87.1 307.1h.75M90.1 334.5h.75M91.7 304.7h.75M85.5 310.9h.75M84.1 316.0h.75M85.1 308.1h.75M84.4 321.0h.75M79.5 315.3h.75M92.8 318.8h.75M88.3 319.8h.75M95.4 318.8h.75M84.7 318.9h.75M89.0 317.3h.75M87.8 321.1h.75M86.5 323.6h.75M90.4 316.7h.75M86.8 315.4h.75M86.5 315.7h.75M87.4 320.3h.75M78.6 315.9h.75M84.2 315.9h.75M84.1 308.6h.75M92.9 330.9h.75M89.0 310.3h.75M89.7 329.3h.75M89.1 323.6h.75M86.1 325.0h.75M92.9 320.1h.75M86.1 321.6h.75M81.6 320.3h.75M89.1 322.3h.75M91.1 323.9h.75M87.2 328.3h.75M88.2 312.0h.75M90.3 321.6h.75M92.4 329.0h.75M89.0 327.5h.75M93.0 311.8h.75M87.9 320.5h.75M94.5 320.3h.75M81.8 320.1h.75M90.3 303.8h.75M87.9 324.1h.75M87.3 308.0h.75M82.1 332.8h.75M90.8 322.8h.75M86.1 317.9h.75M83.2 322.7h.75M84.5 319.5h.75M86.0 315.0h.75M87.2 317.9h.75M83.5 320.8h.75M83.5 313.3h.75M88.4 323.2h.75M86.6 325.9h.75M94.0 325.6h.75M85.3 326.3h.75M89.6 327.1h.75M93.2 323.2h.75M86.1 327.2h.75M90.4 319.0h.75M87.9 321.3h.75M87.0 327.9h.75M92.7 331.3h.75M83.2 316.3h.75M84.6 309.1h.75M80.4 332.7h.75M86.4 326.2h.75M90.4 330.6h.75M85.9 324.6h.75M89.8 320.2h.75M84.1 314.4h.75M91.0 312.3h.75M86.4 328.2h.75M85.1 325.1h.75M92.8 320.7h.75M86.8 311.3h.75M88.9 315.2h.75M87.3 314.5h.75M89.4 316.6h.75M87.3 299.6h.75M82.4 320.1h.75M87.9 328.9h.75M88.6 315.0h.75M88.2 318.8h.75M86.0 320.5h.75M93.4 312.0h.75M84.2 321.5h.75M87.3 313.3h.75M87.6 315.7h.75M82.9 320.3h.75M82.5 318.3h.75M89.3 319.3h.75M89.3 312.6h.75M87.3 323.5h.75M81.0 311.5h.75M85.8 324.2h.75M87.7 315.5h.75M89.1 310.8h.75M91.2 318.1h.75M88.5 311.6h.75M90.3 315.1h.75M92.9 317.6h.75M78.3 323.8h.75M90.4 323.9h.75M85.2 321.8h.75M88.6 316.8h.75M87.6 308.5h.75M83.1 317.2h.75M83.5 316.5h.75M88.4 317.8h.75M86.2 315.1h.75M89.5 315.2h.75M85.4 324.0h.75M94.6 309.8h.75M85.9 318.7h.75M94.4 327.0h.75M84.0 313.5h.75M88.9 312.1h.75M90.9 317.2h.75M82.0 316.4h.75M83.3 320.4h.75M88.3 327.6h.75M91.0 317.8h.75M91.8 322.3h.75M88.8 314.8h.75M90.6 315.4h.75M82.6 320.6h.75M85.3 314.2h.75M92.1 326.6h.75M84.8 315.9h.75M85.9 317.6h.75M80.5 311.7h.75M86.1 315.7h.75M81.0 312.0h.75M88.1 315.4h.75M92.2 306.8h.75M87.9 318.6h.75M87.4 330.2h.75M85.3 306.2h.75M88.8 330.2h.75M82.8 317.8h.75M85.1 324.5h.75M94.7 311.9h.75M82.0 332.1h.75M84.7 311.4h.75M81.7 318.1h.75M75.0 333.8h.75M59.7 330.3h.75M54.0 337.8h.75M66.2 331.1h.75M62.4 328.2h.75M61.3 328.2h.75M61.6 339.4h.75M58.7 343.8h.75M74.2 342.5h.75M73.2 319.2h.75M59.2 340.7h.75M66.0 323.0h.75M64.1 329.2h.75M72.5 336.6h.75M62.0 321.3h.75M75.4 322.1h.75M66.6 325.9h.75M62.3 345.5h.75M66.1 340.6h.75M63.4 324.8h.75M78.8 333.1h.75M67.4 333.0h.75M64.0 334.4h.75M67.1 326.3h.75M74.6 343.5h.75M61.3 328.9h.75M57.4 338.5h.75M73.7 318.5h.75M69.9 335.1h.75M64.1 333.1h.75M66.1 342.8h.75M72.6 311.2h.75M51.7 336.4h.75M73.5 338.5h.75M65.6 329.8h.75M70.2 342.5h.75M66.3 348.8h.75M83.4 339.0h.75M63.2 338.4h.75M72.6 342.8h.75M52.3 335.5h.75M66.8 341.8h.75M70.8 336.8h.75M58.1 326.5h.75M55.4 323.6h.75M67.1 341.4h.75M72.1 336.8h.75M73.0 326.6h.75M62.8 332.2h.75M68.4 343.7h.75M58.8 318.2h.75M76.1 324.7h.75M63.4 337.6h.75M73.5 338.6h.75M65.1 322.6h.75M64.7 324.0h.75M75.4 333.3h.75M61.8 343.2h.75M73.6 332.1h.75M64.6 313.4h.75M61.7 340.2h.75M61.9 331.8h.75M72.7 328.3h.75M66.1 322.7h.75M64.6 341.5h.75M58.2 334.1h.75M73.0 335.2h.75M72.3 334.8h.75M68.3 335.5h.75M70.8 338.7h.75M48.7 345.7h.75M63.6 323.5h.75M67.4 331.4h.75M67.1 328.3h.75M63.4 345.4h.75M67.8 329.7h.75M62.5 319.1h.75M62.9 331.7h.75M59.7 326.1h.75M67.3 326.0h.75M62.5 328.4h.75M63.7 321.5h.75M74.1 316.5h.75M66.3 347.6h.75M66.3 331.0h.75M58.1 324.5h.75M63.6 337.0h.75M71.9 342.6h.75M69.5 318.0h.75M66.8 328.4h.75M65.5 334.2h.75M66.9 325.2h.75M68.7 335.6h.75M64.7 322.1h.75M52.8 326.6h.75M77.3 331.0h.75M72.7 335.4h.75M65.6 332.3h.75M74.3 326.5h.75M59.3 329.0h.75M73.6 315.0h.75M67.5 349.1h.75M71.4 328.7h.75M64.6 329.6h.75M67.3 334.1h.75M69.7 336.5h.75M72.3 334.7h.75M69.3 326.5h.75M68.9 318.7h.75M63.2 330.6h.75M75.9 325.6h.75M67.6 327.5h.75M65.3 331.9h.75M64.7 333.9h.75M59.9 342.3h.75M62.4 330.8h.75M58.1 318.1h.75M67.6 336.6h.75M66.0 339.4h.75M67.7 318.8h.75M59.6 336.8h.75M64.2 333.4h.75M63.0 327.6h.75M71.9 333.3h.75M58.3 335.0h.75M58.1 336.7h.75M73.6 341.1h.75M68.5 331.8h.75M57.9 331.9h.75M74.7 323.4h.75M72.8 329.7h.75M55.1 329.1h.75M67.2 338.1h.75M61.7 340.8h.75M65.0 321.3h.75M57.8 341.8h.75M76.0 322.4h.75M68.0 326.6h.75M70.9 340.8h.75M69.9 329.8h.75M68.8 337.6h.75M64.3 325.9h.75M67.7 333.0h.75M65.3 332.1h.75M54.0 332.7h.75M72.0 338.3h.75M63.0 328.4h.75M63.6 329.3h.75M64.2 321.4h.75M58.8 330.8h.75M59.8 328.0h.75M56.6 339.0h.75M69.1 337.3h.75M73.0 326.1h.75M66.9 335.5h.75M60.2 342.5h.75M73.7 330.3h.75M64.7 322.5h.75M56.1 336.4h.75M67.5 337.6h.75M64.4 325.5h.75M63.0 334.4h.75M65.0 316.8h.75M61.8 335.9h.75M63.5 335.1h.75M67.9 325.7h.75M62.5 325.1h.75M71.6 330.5h.75M61.1 330.1h.75M70.4 344.6h.75M68.4 330.0h.75M64.3 330.7h.75M64.8 330.5h.75M64.7 319.1h.75M75.7 328.0h.75M62.0 321.1h.75M73.0 333.0h.75M72.0 314.4h.75M64.6 322.9h.75M75.4 334.0h.75M53.4 315.1h.75M67.8 319.5h.75M67.2 339.9h.75M66.6 321.3h.75M71.1 331.9h.75M64.3 334.4h.75M65.4 323.4h.75M72.8 318.4h.75M65.8 344.2h.75M60.8 327.5h.75M69.6 336.1h.75M66.0 325.8h.75M63.4 334.9h.75M69.5 321.4h.75M62.2 320.9h.75M61.1 323.6h.75M65.0 326.9h.75M65.4 326.9h.75M66.8 329.3h.75M59.8 335.4h.75M75.9 327.6h.75M70.2 339.4h.75M67.2 326.6h.75M67.7 337.2h.75M52.7 342.4h.75M71.5 345.9h.75M60.8 316.0h.75M69.2 345.8h.75M59.9 317.8h.75M71.9 343.3h.75M63.5 331.8h.75M65.3 334.7h.75M74.9 324.4h.75M71.9 339.4h.75M58.9 337.4h.75M62.6 327.5h.75M67.5 327.0h.75M65.2 338.8h.75M70.9 340.2h.75M62.7 338.1h.75M56.1 328.9h.75M61.4 332.0h.75M65.4 339.5h.75M69.5 338.7h.75M70.6 341.0h.75M73.3 333.1h.75M82.4 320.6h.75M87.4 284.8h.75M88.2 287.2h.75M83.3 294.6h.75M88.2 288.2h.75M81.8 297.4h.75M87.3 301.6h.75M82.9 296.8h.75M96.6 297.8h.75M91.9 300.6h.75M87.3 303.9h.75M79.4 291.0h.75M79.8 290.9h.75M89.5 307.7h.75M85.2 293.9h.75M87.5 289.4h.75M78.1 299.5h.75M78.4 293.8h.75M86.5 298.0h.75M84.9 296.3h.75M79.3 302.6h.75M82.0 305.1h.75M89.9 289.4h.75M83.8 286.0h.75M88.8 311.3h.75M94.2 290.7h.75M87.7 282.9h.75M86.6 279.8h.75M83.0 296.6h.75M92.1 291.1h.75M78.7 280.4h.75M80.5 288.4h.75M85.9 287.4h.75M78.6 305.9h.75M90.9 299.0h.75M82.8 296.8h.75M88.6 285.4h.75M84.4 295.2h.75M84.7 302.8h.75M86.0 298.3h.75M76.1 306.4h.75M80.5 297.6h.75M83.6 303.1h.75M97.1 301.0h.75M90.0 291.8h.75M89.6 308.9h.75M80.8 300.1h.75M90.4 304.3h.75M92.2 287.3h.75M89.7 287.1h.75M53.8 318.2h.75M50.1 310.3h.75M58.6 312.3h.75M57.4 318.1h.75M62.3 307.4h.75M58.4 332.8h.75M48.1 319.0h.75M60.6 312.9h.75M51.0 326.6h.75M50.5 308.4h.75M55.3 327.4h.75M54.9 318.6h.75M61.1 334.7h.75M71.9 312.9h.75M57.4 314.3h.75M63.6 310.3h.75M53.6 306.7h.75M56.9 320.1h.75M51.8 308.4h.75M52.4 320.7h.75M63.0 312.1h.75M57.6 327.3h.75M57.6 295.0h.75M50.1 321.6h.75M65.2 318.3h.75M53.8 317.9h.75M51.0 312.2h.75M54.8 333.5h.75M58.9 314.2h.75M59.4 321.7h.75M63.7 315.5h.75M48.6 314.6h.75M52.3 318.6h.75M64.3 323.9h.75M68.5 307.8h.75M51.1 313.6h.75M54.3 305.2h.75M45.7 321.4h.75M50.0 310.2h.75M49.6 311.1h.75M54.3 323.7h.75M47.8 317.7h.75M60.5 321.5h.75M54.6 316.6h.75M53.4 321.5h.75M60.4 318.6h.75M53.3 307.8h.75M47.5 319.7h.75M55.1 314.7h.75M67.9 315.7h.75M55.5 320.3h.75M58.1 312.9h.75M53.7 308.3h.75M53.6 328.4h.75M57.9 334.3h.75M39.1 314.7h.75M47.5 328.1h.75M51.4 321.3h.75M53.3 312.1h.75M63.6 310.3h.75M69.6 315.3h.75M58.7 314.0h.75M57.3 314.8h.75M59.0 316.7h.75M63.9 307.7h.75M49.0 325.6h.75M52.0 307.7h.75M55.9 308.2h.75M56.7 326.1h.75M43.6 324.6h.75M57.5 330.9h.75M45.4 319.0h.75M59.5 312.0h.75M60.0 328.1h.75M41.4 317.0h.75M57.9 316.7h.75M56.1 310.2h.75M51.2 321.4h.75M60.6 296.6h.75M66.9 322.5h.75M57.9 299.8h.75M48.4 325.7h.75M46.3 303.8h.75M47.9 323.9h.75M48.8 340.0h.75M61.6 315.3h.75M56.6 307.3h.75M54.8 335.3h.75M60.1 313.9h.75M55.0 307.8h.75M87.7 330.5h.75M104.8 325.2h.75M71.0 328.0h.75M54.4 324.6h.75M84.2 327.4h.75M80.8 335.9h.75M56.3 321.2h.75M76.1 308.9h.75M74.0 335.2h.75M67.5 326.0h.75M65.0 342.5h.75M101.8 308.9h.75M84.2 338.7h.75M67.5 320.0h.75M77.7 340.6h.75M82.0 320.9h.75M98.2 312.9h.75M70.2 333.9h.75M94.6 316.5h.75M50.6 339.9h.75M88.9 330.1h.75M87.0 342.1h.75M40.8 335.0h.75M83.1 326.1h.75M44.9 332.1h.75M100.9 310.2h.75M77.2 312.0h.75M50.1 318.0h.75M89.1 328.6h.75M58.3 343.9h.75M44.6 308.4h.75M77.6 318.5h.75M93.6 311.6h.75M87.9 340.8h.75M93.8 343.4h.75M87.6 330.1h.75M65.8 316.8h.75M54.6 341.0h.75M62.7 321.3h.75M95.8 332.7h.75M41.6 339.8h.75M45.2 321.5h.75M101.6 316.6h.75M40.7 310.8h.75M77.2 344.7h.75M100.0 309.4h.75M74.9 340.8h.75M89.8 345.5h.75M42.0 324.7h.75M89.5 313.4h.75M81.4 335.5h.75M82.4 315.9h.75M58.5 325.5h.75M80.8 321.2h.75M91.1 337.1h.75M96.6 337.9h.75M45.2 332.7h.75M99.4 328.3h.75M87.7 337.6h.75M76.5 315.2h.75M89.3 316.1h.75M90.1 314.9h.75M76.9 315.7h.75M97.6 326.1h.75M98.5 313.7h.75M94.2 345.1h.75M54.8 310.8h.75M65.9 345.3h.75M101.7 339.7h.75M77.9 330.1h.75M51.4 329.1h.75M94.0 339.9h.75M51.8 321.1h.75M104.6 340.5h.75M84.2 325.3h.75M103.5 340.1h.75M61.0 328.7h.75M99.1 347.1h.75M60.5 332.6h.75M45.1 333.7h.75M90.5 317.3h.75M102.4 347.9h.75M101.9 310.6h.75M49.0 309.0h.75M77.2 322.2h.75M84.7 347.3h.75M61.0 318.4h.75M89.0 310.8h.75M65.3 320.8h.75M98.0 338.6h.75M93.0 299.9h.75M45.2 280.0h.75M67.9 286.7h.75M68.7 299.9h.75M51.6 305.0h.75M49.9 297.5h.75M61.5 300.6h.75M65.7 284.6h.75M80.6 280.9h.75M83.8 303.5h.75M81.1 286.1h.75M68.3 286.9h.75M51.7 295.9h.75M47.5 292.9h.75M49.2 301.1h.75M89.2 286.0h.75M52.8 284.4h.75M71.7 282.0h.75M56.5 299.8h.75M57.7 296.3h.75M89.9 296.9h.75M92.9 286.7h.75M76.0 285.0h.75M81.9 298.2h.75M82.5 300.0h.75" stroke="#000" stroke-width="0.75" stroke-opacity="0.62" fill="none"/>
</g>
<rect x="36.50" y="278.50" width="72.00" height="72.00" fill="none" stroke="#8e8e8e" stroke-width="1"/>
<path d="M77.50 278.50V350.50M36.50 306.50H108.50" stroke="#999" stroke-width="1" fill="none"/>
<text x="29.30" y="286.70" font-size="3.3" fill="#444">10<tspan font-size="2.4" dy="-1.3">5</tspan></text>
<path d="M35.10 285.20L36.50 285.20" stroke="#777" stroke-width="0.5" fill="none"/>
<text x="29.30" y="304.20" font-size="3.3" fill="#444">10<tspan font-size="2.4" dy="-1.3">4</tspan></text>
<path d="M35.10 302.70L36.50 302.70" stroke="#777" stroke-width="0.5" fill="none"/>
<text x="29.30" y="321.70" font-size="3.3" fill="#444">10<tspan font-size="2.4" dy="-1.3">3</tspan></text>
<path d="M35.10 320.20L36.50 320.20" stroke="#777" stroke-width="0.5" fill="none"/>
<text x="29.30" y="339.20" font-size="3.3" fill="#444">10<tspan font-size="2.4" dy="-1.3">2</tspan></text>
<path d="M35.10 337.70L36.50 337.70" stroke="#777" stroke-width="0.5" fill="none"/>
<text x="31.90" y="344.20" font-size="3" fill="#555">0</text>
<text x="43.50" y="357.90" font-size="3" fill="#555">0</text>
<path d="M45.00 350.50L45.00 351.90" stroke="#777" stroke-width="0.5" fill="none"/>
<text x="51.00" y="357.90" font-size="3" fill="#555">10<tspan font-size="2.2" dy="-1.2">2</tspan></text>
<path d="M52.50 350.50L52.50 351.90" stroke="#777" stroke-width="0.5" fill="none"/>
<text x="67.50" y="357.90" font-size="3" fill="#555">10<tspan font-size="2.2" dy="-1.2">3</tspan></text>
<path d="M69.00 350.50L69.00 351.90" stroke="#777" stroke-width="0.5" fill="none"/>
<text x="83.50" y="357.90" font-size="3" fill="#555">10<tspan font-size="2.2" dy="-1.2">4</tspan></text>
<path d="M85.00 350.50L85.00 351.90" stroke="#777" stroke-width="0.5" fill="none"/>
<text x="99.00" y="357.90" font-size="3" fill="#555">10<tspan font-size="2.2" dy="-1.2">5</tspan></text>
<path d="M100.50 350.50L100.50 351.90" stroke="#777" stroke-width="0.5" fill="none"/>
<text x="37.90" y="283.50" font-size="6.3" textLength="29.00" lengthAdjust="spacingAndGlyphs" fill="#222" stroke="#fff" stroke-width="1.6" stroke-opacity="0.55" paint-order="stroke" stroke-linejoin="round">33.0 &#177; 11.7</text>
<text x="107.30" y="283.50" font-size="6.3" text-anchor="end" textLength="22.50" lengthAdjust="spacingAndGlyphs" fill="#222" stroke="#fff" stroke-width="1.6" stroke-opacity="0.55" paint-order="stroke" stroke-linejoin="round">3.4 &#177; 1.2</text>
<text x="37.70" y="348.90" font-size="6.3" textLength="26.80" lengthAdjust="spacingAndGlyphs" fill="#222" stroke="#fff" stroke-width="1.6" stroke-opacity="0.55" paint-order="stroke" stroke-linejoin="round">38.9 &#177; 2.3</text>
<text x="107.30" y="348.90" font-size="6.3" text-anchor="end" textLength="28.50" lengthAdjust="spacingAndGlyphs" fill="#222" stroke="#fff" stroke-width="1.6" stroke-opacity="0.55" paint-order="stroke" stroke-linejoin="round">24.7 &#177; 12.6</text>
<clipPath id="c127_277"><rect x="127.50" y="277.50" width="73.00" height="72.00"/></clipPath>
<g clip-path="url(#c127_277)">
<ellipse cx="159.4" cy="290" rx="10" ry="17" fill="url(#bg)" opacity="0.8"/>
<ellipse cx="157.0" cy="314" rx="9" ry="11" fill="url(#bg)" opacity="0.35"/>
<path d="M157.5 294.6h.75M157.3 295.2h.75M155.9 295.1h.75M161.5 293.3h.75M162.9 285.8h.75M158.4 297.2h.75M158.8 292.5h.75M165.3 296.4h.75M159.8 292.3h.75M161.5 287.5h.75M154.8 289.3h.75M156.8 294.8h.75M150.3 298.4h.75M161.0 279.0h.75M158.3 285.2h.75M154.3 284.1h.75M159.8 291.3h.75M164.3 287.1h.75M158.7 300.8h.75M163.3 284.5h.75M159.1 283.7h.75M154.2 282.8h.75M155.5 287.1h.75M158.3 291.0h.75M169.1 285.6h.75M161.9 281.9h.75M158.4 278.2h.75M160.6 291.2h.75M160.3 285.0h.75M157.5 281.4h.75M159.0 287.4h.75M158.3 292.4h.75M162.6 306.8h.75M166.1 303.2h.75M165.1 282.2h.75M158.0 285.8h.75M159.7 297.2h.75M162.0 288.3h.75M162.9 283.9h.75M162.9 285.4h.75M162.6 284.0h.75M158.8 301.8h.75M167.1 285.8h.75M157.4 291.6h.75M162.5 293.6h.75M157.9 291.1h.75M167.2 279.0h.75M162.3 284.7h.75M157.6 296.0h.75M155.3 315.6h.75M154.0 298.0h.75M161.8 287.1h.75M157.5 296.9h.75M161.6 299.6h.75M157.9 280.4h.75M162.2 297.5h.75M157.2 278.9h.75M163.3 290.8h.75M162.0 295.9h.75M161.6 301.6h.75M159.4 290.1h.75M152.4 293.7h.75M153.8 303.0h.75M154.8 294.0h.75M153.9 300.6h.75M163.1 301.7h.75M155.7 280.9h.75M154.1 308.1h.75M157.3 299.7h.75M159.0 291.0h.75M152.3 296.7h.75M162.0 292.5h.75M162.5 291.8h.75M156.9 281.5h.75M162.8 286.5h.75M152.8 287.1h.75M157.1 299.0h.75M158.7 293.9h.75M159.7 293.3h.75M164.3 288.9h.75M158.0 300.5h.75M160.3 282.3h.75M160.1 297.9h.75M161.3 286.4h.75M158.0 295.3h.75M160.1 303.2h.75M157.0 296.6h.75M156.6 288.0h.75M156.8 280.3h.75M164.3 293.9h.75M156.2 298.6h.75M159.4 287.9h.75M161.8 294.2h.75M158.0 288.2h.75M163.2 306.0h.75M156.9 291.0h.75M163.7 291.9h.75M152.8 294.7h.75M153.7 298.8h.75M159.7 295.8h.75M165.4 289.7h.75M166.2 290.4h.75M155.8 294.2h.75M159.3 294.9h.75M157.3 286.8h.75M150.3 285.1h.75M162.5 288.0h.75M157.8 293.9h.75M165.2 286.2h.75M160.6 280.9h.75M157.1 287.2h.75M156.5 285.9h.75M158.6 295.1h.75M161.3 285.7h.75M157.3 286.6h.75M171.3 305.7h.75M160.3 293.7h.75M154.6 282.3h.75M159.7 300.0h.75M164.2 286.9h.75M161.2 283.2h.75M158.0 295.4h.75M156.6 278.2h.75M156.1 289.5h.75M154.4 294.7h.75M157.2 296.2h.75M160.5 285.6h.75M157.0 285.8h.75M166.3 289.3h.75M161.0 300.1h.75M159.3 296.9h.75M165.6 292.5h.75M152.2 301.4h.75M160.4 280.7h.75M170.7 299.7h.75M163.6 282.8h.75M155.6 292.5h.75M159.9 286.8h.75M171.2 289.6h.75M156.5 293.3h.75M158.2 297.2h.75M158.0 284.8h.75M153.4 280.3h.75M145.4 296.0h.75M158.4 287.1h.75M161.6 298.8h.75M157.6 302.0h.75M161.5 288.1h.75M162.6 288.6h.75M162.3 284.0h.75M165.8 290.0h.75M163.0 296.1h.75M162.8 298.9h.75M159.4 289.9h.75M159.4 305.5h.75M157.1 285.7h.75M161.2 289.9h.75M163.3 285.5h.75M157.0 286.4h.75M162.9 287.8h.75M157.4 284.3h.75M161.9 286.6h.75M158.8 292.5h.75M163.0 291.0h.75M167.6 281.4h.75M160.4 294.3h.75M157.3 283.3h.75M157.6 293.9h.75M162.0 290.7h.75M163.5 281.5h.75M160.7 298.1h.75M163.2 284.7h.75M157.1 284.6h.75M155.3 286.5h.75M156.2 291.1h.75M161.1 294.9h.75M156.1 287.7h.75M162.3 304.3h.75M150.7 285.4h.75M156.6 286.2h.75M158.7 288.6h.75M151.7 291.5h.75M156.8 302.4h.75M153.1 309.8h.75M159.1 287.3h.75M158.4 288.7h.75M162.5 295.5h.75M155.8 289.1h.75M152.5 297.4h.75M157.1 281.2h.75M160.0 297.3h.75M160.1 294.6h.75M164.6 295.8h.75M157.9 311.0h.75M158.5 282.5h.75M155.8 296.0h.75M156.9 295.6h.75M163.8 282.2h.75M160.9 292.3h.75M148.3 283.0h.75M164.5 280.3h.75M157.7 288.3h.75M163.5 281.3h.75M161.8 292.5h.75M160.7 295.9h.75M154.1 292.1h.75M161.0 283.1h.75M149.2 282.4h.75M158.2 278.7h.75M161.7 286.8h.75M159.9 286.9h.75M159.5 310.9h.75M160.6 285.0h.75M163.3 294.8h.75M160.8 298.7h.75M166.4 301.4h.75M157.9 281.7h.75M164.4 296.8h.75M157.9 288.1h.75M163.9 297.3h.75M153.7 296.1h.75M160.8 278.0h.75M162.6 283.0h.75M151.8 283.7h.75M159.7 278.3h.75M158.1 292.3h.75M160.2 283.5h.75M160.7 295.1h.75M163.0 289.0h.75M166.1 287.1h.75M161.3 305.0h.75M153.0 299.9h.75M162.3 278.7h.75M161.1 301.8h.75M160.1 296.5h.75M166.2 301.3h.75M160.6 293.8h.75M161.5 286.8h.75M163.5 278.0h.75M159.8 284.0h.75M166.7 300.8h.75M162.4 290.3h.75M161.1 291.8h.75M160.3 296.3h.75M154.5 282.2h.75M159.2 299.4h.75M160.8 291.9h.75M163.7 281.7h.75M161.3 285.0h.75M162.5 287.9h.75M162.4 295.2h.75M157.3 302.1h.75M160.8 287.3h.75M158.6 288.0h.75M154.2 305.4h.75M153.1 317.3h.75M163.0 305.4h.75M165.6 291.6h.75M165.6 286.9h.75M155.9 295.8h.75M165.9 292.6h.75M166.2 283.1h.75M156.3 301.6h.75M161.6 311.7h.75M166.8 282.7h.75M159.9 283.2h.75M164.6 285.6h.75M156.9 279.1h.75M158.1 296.9h.75M158.9 295.7h.75M160.1 293.4h.75M160.0 296.4h.75M165.9 291.2h.75M159.0 292.3h.75M158.2 297.6h.75M157.7 293.2h.75M159.8 284.9h.75M155.6 299.8h.75M163.2 301.9h.75M158.1 301.6h.75M162.9 283.5h.75M155.9 294.5h.75M155.3 282.1h.75M155.7 288.5h.75M160.5 296.5h.75M163.1 314.0h.75M158.2 300.5h.75M163.4 283.3h.75M157.9 285.0h.75M163.0 289.3h.75M155.2 288.7h.75M154.9 279.5h.75M162.1 288.8h.75M164.0 284.6h.75M156.6 305.5h.75M161.7 289.4h.75M156.1 286.6h.75M152.2 303.6h.75M165.6 292.7h.75M158.7 295.4h.75M163.6 285.0h.75M160.3 299.5h.75M152.3 287.1h.75M161.2 297.6h.75M164.1 295.5h.75M165.0 305.0h.75M166.5 298.6h.75M161.2 289.8h.75M159.1 280.8h.75M159.8 287.3h.75M154.6 284.0h.75M162.6 303.3h.75M162.6 286.1h.75M156.2 293.3h.75M162.2 297.0h.75M157.2 282.0h.75M164.8 296.2h.75M156.9 278.5h.75M157.3 292.1h.75M158.1 288.6h.75M155.1 292.7h.75M155.7 293.6h.75M158.3 284.1h.75M149.1 297.0h.75M168.0 285.6h.75M161.1 291.0h.75M160.7 302.3h.75M155.7 281.9h.75M160.3 290.6h.75M159.4 303.9h.75M159.9 300.9h.75M153.2 284.0h.75M159.0 284.6h.75M151.5 294.7h.75M158.6 284.2h.75M155.7 290.6h.75M156.9 278.0h.75M158.1 295.5h.75M164.7 291.1h.75M159.6 296.1h.75M154.9 284.1h.75M153.5 278.8h.75M158.5 305.6h.75M165.1 278.7h.75M161.2 292.8h.75M164.0 290.4h.75M158.2 298.9h.75M163.1 301.5h.75M158.8 293.9h.75M158.8 289.4h.75M160.7 285.0h.75M161.1 288.3h.75M161.9 298.2h.75M158.5 295.3h.75M153.0 295.4h.75M148.0 283.2h.75M158.2 283.9h.75M156.0 285.2h.75M162.9 280.7h.75M147.9 295.9h.75M167.9 299.2h.75M158.0 305.9h.75M152.6 285.3h.75M161.2 289.1h.75M161.5 290.8h.75M161.2 289.9h.75M168.7 282.6h.75M155.9 297.0h.75M160.0 285.7h.75M160.6 295.5h.75M155.8 279.8h.75M161.3 289.8h.75M163.7 280.8h.75M162.2 292.1h.75M152.6 286.5h.75M160.6 307.2h.75M157.8 279.2h.75M164.6 282.8h.75M158.9 295.0h.75M167.8 291.0h.75M154.2 293.9h.75M161.5 287.4h.75M155.7 298.3h.75M167.0 293.0h.75M166.1 301.6h.75M155.5 278.0h.75M162.6 292.2h.75M159.2 288.0h.75M152.5 293.5h.75M155.0 281.7h.75M159.8 297.1h.75M161.6 278.2h.75M157.8 297.8h.75M160.7 294.8h.75M160.6 293.5h.75M160.0 295.0h.75M153.0 289.4h.75M166.0 287.6h.75M168.3 294.4h.75M156.0 285.7h.75M155.4 299.6h.75M156.7 289.6h.75M156.4 314.3h.75M167.3 291.5h.75M159.6 305.6h.75M159.2 293.1h.75M161.0 290.8h.75M166.2 294.8h.75M160.1 283.4h.75M157.8 284.3h.75M160.6 304.6h.75M164.8 288.4h.75M158.5 279.9h.75M165.4 294.6h.75M160.7 282.7h.75M158.7 290.8h.75M161.5 300.1h.75M167.8 301.5h.75M158.4 306.2h.75M165.3 300.5h.75M161.8 296.0h.75M160.1 295.0h.75M159.6 292.8h.75M162.9 289.9h.75M162.0 310.3h.75M161.0 289.6h.75M162.2 305.0h.75M155.8 289.2h.75M156.6 301.0h.75M158.0 291.6h.75M158.5 284.8h.75M157.9 304.2h.75M161.7 303.6h.75M155.4 284.8h.75M158.4 289.7h.75M163.1 298.6h.75M166.6 293.1h.75M159.7 291.3h.75M164.5 299.1h.75M165.2 278.9h.75M155.1 304.7h.75M160.5 294.5h.75M157.8 282.5h.75M161.2 289.9h.75M154.0 310.7h.75M161.7 290.6h.75M158.4 302.7h.75M161.7 294.2h.75M155.9 290.7h.75M152.2 300.0h.75M159.5 287.4h.75M156.4 289.8h.75M158.6 299.7h.75M154.8 294.8h.75M155.4 299.5h.75M155.1 287.6h.75M154.0 305.8h.75M156.0 278.4h.75M156.1 278.8h.75M159.5 295.4h.75M172.8 288.2h.75M156.8 292.8h.75M152.7 291.3h.75M161.8 289.6h.75M154.2 281.6h.75M155.6 293.7h.75M157.9 302.6h.75M159.6 283.6h.75M159.7 307.7h.75M160.4 304.9h.75M158.9 283.6h.75M164.0 298.2h.75M162.9 281.4h.75M157.1 290.0h.75M158.5 281.4h.75M153.6 286.4h.75M158.5 289.7h.75M167.4 281.9h.75M156.5 283.2h.75M155.5 291.5h.75M152.3 307.9h.75M155.7 287.9h.75M160.8 289.8h.75M163.6 281.1h.75M155.7 287.0h.75M163.4 283.6h.75M157.2 283.2h.75M158.1 286.5h.75M166.3 293.8h.75M160.1 288.1h.75M160.6 293.5h.75M153.0 302.4h.75M160.0 299.2h.75M160.5 287.3h.75M155.7 289.3h.75M156.4 291.7h.75M155.5 299.7h.75M156.6 292.2h.75M162.2 315.5h.75M156.0 288.1h.75M164.7 296.7h.75M159.5 282.9h.75M155.5 282.1h.75M156.6 288.3h.75M153.5 292.7h.75M153.2 297.0h.75M163.0 300.8h.75M155.2 304.0h.75M157.4 302.8h.75M166.1 298.3h.75M156.2 289.7h.75M160.2 295.8h.75M161.4 302.2h.75M158.4 282.3h.75M158.5 296.7h.75M157.9 295.3h.75M159.8 289.6h.75M152.7 306.6h.75M159.5 284.7h.75M160.0 282.1h.75M153.7 290.4h.75M161.2 285.2h.75M155.4 302.5h.75M151.1 279.2h.75M159.7 293.5h.75M161.6 297.3h.75M157.5 280.3h.75M153.1 302.1h.75M163.1 299.7h.75M159.1 282.8h.75M153.1 286.5h.75M161.2 306.5h.75M158.4 290.1h.75M158.5 284.9h.75M159.5 292.7h.75M161.6 307.2h.75M158.8 291.2h.75M155.2 283.8h.75M158.8 292.4h.75M159.8 279.7h.75M164.2 284.5h.75M154.1 285.6h.75M158.6 296.2h.75M155.5 286.2h.75M160.4 294.8h.75M156.9 300.6h.75M146.3 304.4h.75M156.4 290.0h.75M154.6 280.4h.75M152.9 296.1h.75M154.7 292.7h.75M153.8 290.4h.75M158.6 285.8h.75M159.8 282.0h.75M160.7 299.0h.75M155.7 288.7h.75M161.8 290.7h.75M158.8 293.3h.75M161.1 297.4h.75M161.8 307.0h.75M157.7 288.9h.75M164.4 296.2h.75M157.5 287.0h.75M166.6 284.2h.75M166.2 284.9h.75M152.8 300.6h.75M149.8 291.4h.75M156.6 291.0h.75M161.2 291.1h.75M163.2 288.5h.75M162.0 288.5h.75M159.2 284.8h.75M163.3 285.8h.75M162.2 286.7h.75M157.4 288.9h.75M163.7 291.0h.75M156.6 290.1h.75M156.6 294.1h.75M155.7 280.7h.75M165.4 282.3h.75M162.1 297.4h.75M162.8 284.1h.75M157.7 294.6h.75M159.2 284.5h.75M164.4 279.9h.75M164.2 285.1h.75M159.2 286.3h.75M159.2 279.7h.75M161.6 302.8h.75M162.9 290.6h.75M166.6 282.7h.75M157.8 303.5h.75M166.4 297.6h.75M156.1 283.8h.75M155.7 281.5h.75M149.9 288.8h.75M162.8 296.8h.75M165.5 278.2h.75M154.3 300.5h.75M157.9 287.1h.75M158.2 297.7h.75M152.8 289.2h.75M159.6 294.7h.75M160.6 296.0h.75M157.2 301.7h.75M155.0 284.3h.75M159.9 307.0h.75M161.8 279.4h.75M153.4 293.2h.75M158.9 296.4h.75M161.7 290.7h.75M147.6 298.2h.75M166.5 290.1h.75M153.9 299.2h.75M164.8 290.6h.75M158.1 280.9h.75M161.9 291.9h.75M158.6 292.2h.75M154.5 281.9h.75M152.1 302.0h.75M169.3 285.9h.75M153.7 281.6h.75M158.2 291.5h.75M165.3 284.9h.75M160.6 288.9h.75M160.1 292.6h.75M150.9 286.9h.75M156.7 295.7h.75M153.7 293.1h.75M151.8 301.1h.75M160.9 281.9h.75M162.8 291.1h.75M156.1 292.8h.75M156.6 293.1h.75M163.0 281.3h.75M154.9 293.4h.75M164.3 295.6h.75M163.3 290.9h.75M159.4 292.2h.75M154.7 301.2h.75M161.7 287.5h.75M162.2 284.0h.75M166.7 303.6h.75M156.8 295.9h.75M166.0 289.2h.75M157.9 284.4h.75M161.6 304.5h.75M158.9 288.2h.75M159.7 283.6h.75M165.5 301.6h.75M162.8 289.3h.75M158.2 296.1h.75M159.2 288.2h.75M156.3 286.1h.75M160.2 294.4h.75M150.9 280.1h.75M158.3 288.8h.75M163.6 296.9h.75M162.9 281.1h.75M152.5 302.6h.75M154.6 288.8h.75M157.6 290.0h.75M167.2 286.5h.75M157.5 295.6h.75M159.3 286.5h.75M158.3 292.6h.75M160.6 301.5h.75M155.5 301.5h.75M161.4 302.3h.75M163.8 286.4h.75M155.6 293.2h.75M163.2 291.5h.75M167.5 293.0h.75M162.7 285.4h.75M162.3 295.7h.75M149.0 299.4h.75M165.0 285.6h.75M167.5 290.5h.75M164.5 297.7h.75M161.5 299.9h.75M162.9 293.5h.75M172.1 292.9h.75M156.4 294.8h.75M157.7 287.7h.75M164.0 293.5h.75M160.5 288.2h.75M150.2 287.6h.75M155.4 293.8h.75M161.0 297.0h.75M160.4 294.4h.75M151.7 291.5h.75M161.6 287.9h.75M168.5 295.4h.75M166.8 287.1h.75M154.6 290.5h.75M153.8 303.5h.75M159.6 278.5h.75M160.6 285.3h.75M153.7 288.4h.75M165.2 280.2h.75M160.4 299.7h.75M163.8 294.9h.75M159.2 289.3h.75M163.7 301.8h.75M157.1 281.9h.75M157.2 307.0h.75M155.3 289.9h.75M151.2 285.2h.75M157.7 299.9h.75M153.6 295.0h.75M157.4 292.2h.75M160.0 289.4h.75M157.7 290.4h.75M159.1 298.7h.75M164.3 283.5h.75M158.7 291.2h.75M154.6 289.9h.75M164.0 296.4h.75M155.7 296.8h.75M154.8 300.8h.75M163.5 283.5h.75M154.1 288.9h.75M163.6 297.1h.75M158.9 281.5h.75M156.7 287.7h.75M150.6 290.3h.75M165.0 290.2h.75M151.6 297.9h.75M154.1 294.0h.75M162.7 286.5h.75M161.5 297.2h.75M159.2 298.9h.75M158.2 294.7h.75M154.8 293.4h.75M156.5 294.1h.75M160.5 300.8h.75M155.1 285.9h.75M162.0 289.7h.75M160.3 281.6h.75M161.6 288.4h.75M160.3 283.1h.75M161.7 283.1h.75M162.8 289.4h.75M160.9 299.0h.75M155.4 301.2h.75M151.9 289.9h.75M159.5 284.3h.75M163.4 292.8h.75M155.3 288.0h.75M152.5 289.5h.75M157.0 302.5h.75M160.8 291.6h.75M163.0 293.3h.75M157.9 287.8h.75M154.3 288.6h.75M159.0 282.2h.75M162.2 289.1h.75M159.1 283.4h.75M163.6 300.0h.75M157.1 288.1h.75M163.0 296.5h.75M166.3 301.3h.75M155.0 298.9h.75M155.6 284.2h.75M162.1 304.6h.75M161.5 302.4h.75M164.9 282.2h.75M158.8 289.4h.75M152.4 283.9h.75M152.1 292.2h.75M162.8 295.5h.75M159.9 300.0h.75M164.5 301.7h.75M154.8 292.2h.75M156.2 289.6h.75M157.8 286.6h.75M154.0 313.9h.75M158.3 300.5h.75M158.6 295.5h.75M163.0 292.9h.75M158.9 299.5h.75M161.4 297.5h.75M164.0 285.1h.75M160.5 299.6h.75M157.7 283.4h.75M157.3 293.8h.75M153.7 283.6h.75M159.6 286.6h.75M159.2 304.0h.75M166.4 292.9h.75M160.2 293.4h.75M164.9 297.9h.75M151.3 284.4h.75M156.5 294.1h.75M158.3 281.2h.75M159.8 293.2h.75M154.4 294.8h.75M163.2 292.8h.75M161.5 282.3h.75M162.2 300.9h.75M154.6 293.2h.75M164.2 290.5h.75M156.7 316.5h.75M151.2 297.3h.75M159.8 286.8h.75M161.1 297.7h.75M156.4 292.5h.75M152.2 301.8h.75M154.4 281.4h.75M158.7 307.1h.75M148.4 285.7h.75M163.7 286.8h.75M163.6 283.7h.75M158.5 287.5h.75M163.8 306.7h.75M158.6 291.7h.75M154.4 280.8h.75M162.0 288.8h.75M161.7 292.3h.75M155.3 298.4h.75M153.3 287.3h.75M155.1 291.8h.75M164.3 315.6h.75M158.0 289.0h.75M171.4 291.1h.75M156.5 279.7h.75M161.9 298.4h.75M160.7 286.1h.75M158.3 306.2h.75M162.9 300.6h.75M155.6 297.1h.75M159.1 285.8h.75M154.3 287.2h.75M149.9 286.8h.75M159.6 290.9h.75M154.4 287.1h.75M153.7 285.4h.75M161.8 291.0h.75M158.6 289.9h.75M161.0 286.8h.75M166.7 298.1h.75M160.1 299.2h.75M161.3 285.3h.75M154.2 308.8h.75M162.9 293.4h.75M163.0 300.8h.75M154.8 306.5h.75M160.7 294.5h.75M158.4 298.1h.75M159.7 300.6h.75M169.7 297.0h.75M156.5 298.9h.75M159.8 281.8h.75M158.5 295.1h.75M162.1 285.4h.75M163.3 288.5h.75M166.8 293.4h.75M156.9 298.0h.75M153.9 292.3h.75M162.1 282.9h.75M154.9 281.8h.75M159.3 293.7h.75M157.6 295.2h.75M160.1 293.4h.75M157.4 291.4h.75M162.3 291.1h.75M155.4 278.0h.75M169.6 289.9h.75M162.7 296.8h.75M156.6 280.3h.75M155.2 293.9h.75M158.5 296.2h.75M157.3 310.5h.75M155.8 289.6h.75M165.3 288.0h.75M163.5 279.6h.75M154.7 280.7h.75M162.6 296.3h.75M156.5 290.1h.75M168.5 292.8h.75M165.1 304.3h.75M158.9 300.0h.75M166.5 278.5h.75M158.6 291.0h.75M154.8 291.6h.75M154.7 281.6h.75M156.6 284.6h.75M161.9 298.5h.75M161.0 296.4h.75M159.9 298.0h.75M163.9 293.0h.75M166.4 291.2h.75M155.0 294.6h.75M163.7 288.9h.75M169.3 305.0h.75M156.7 292.2h.75M156.9 295.0h.75M161.1 289.5h.75M160.3 284.5h.75M157.1 289.8h.75M159.1 287.4h.75M166.3 283.3h.75M163.3 297.4h.75M155.9 307.7h.75M152.0 292.8h.75M154.6 289.4h.75M160.1 284.1h.75M155.8 295.6h.75M162.5 295.3h.75M158.2 283.4h.75M157.7 291.1h.75M160.3 282.9h.75M165.6 302.7h.75M160.7 291.4h.75M162.3 294.2h.75M159.7 305.2h.75M154.1 294.0h.75M154.6 292.7h.75M157.2 287.9h.75M168.1 290.6h.75M166.0 301.3h.75M154.7 284.7h.75M157.4 284.8h.75M161.7 305.5h.75M159.7 299.3h.75M163.2 294.7h.75M157.3 297.5h.75M152.3 291.3h.75M162.0 288.0h.75M164.8 289.3h.75M152.8 293.3h.75M151.3 286.5h.75M151.4 289.2h.75M161.2 293.0h.75M154.4 289.4h.75M162.6 296.4h.75M157.9 293.1h.75M160.0 299.0h.75M162.2 291.7h.75M158.5 289.1h.75M155.0 295.6h.75M163.3 298.3h.75M153.1 286.8h.75M165.4 283.2h.75M156.8 302.2h.75M157.1 286.1h.75M161.1 293.9h.75M161.2 286.6h.75M161.6 292.5h.75M153.1 302.7h.75M155.6 305.2h.75M160.9 279.3h.75M161.0 278.1h.75M165.0 295.7h.75M158.6 304.1h.75M163.4 292.9h.75M164.1 288.1h.75M160.9 297.8h.75M158.6 282.5h.75M162.6 296.3h.75M161.3 302.3h.75M162.1 301.3h.75M155.7 296.7h.75M161.4 286.2h.75M166.3 287.8h.75M158.2 282.7h.75M160.0 306.7h.75M158.4 301.4h.75M163.2 290.1h.75M150.6 290.0h.75M166.3 292.7h.75M161.6 284.9h.75M158.5 295.1h.75M160.6 294.9h.75M164.3 294.3h.75M161.0 291.0h.75M164.6 288.9h.75M160.2 278.4h.75M165.8 309.9h.75M161.9 286.2h.75M156.8 288.9h.75M162.8 287.9h.75M168.2 283.1h.75M158.1 304.5h.75M161.3 294.6h.75M163.2 285.4h.75M157.7 301.4h.75M159.4 297.8h.75M167.8 291.1h.75M156.8 297.2h.75M162.8 298.9h.75M159.7 296.1h.75M166.0 287.9h.75M152.6 295.9h.75M159.9 283.7h.75M163.7 292.5h.75M154.1 293.6h.75M156.3 288.4h.75M161.5 281.8h.75M159.6 288.4h.75M158.2 282.8h.75M160.8 280.0h.75M153.5 299.4h.75M155.9 289.0h.75M166.9 285.9h.75M156.7 285.9h.75M161.3 294.1h.75M159.3 287.5h.75M163.1 284.2h.75M160.9 292.7h.75M161.2 291.6h.75M164.4 282.5h.75M160.9 281.0h.75M152.2 301.6h.75M156.7 287.9h.75M165.6 300.7h.75M164.0 295.5h.75M158.5 289.7h.75M152.7 288.2h.75M156.4 304.4h.75M168.3 284.7h.75M164.6 286.9h.75M164.7 283.2h.75M152.6 288.9h.75M153.7 282.2h.75M157.0 291.3h.75M153.7 279.4h.75M160.0 294.8h.75M154.8 293.2h.75M161.5 292.1h.75M158.5 285.1h.75M157.1 301.4h.75M162.2 307.7h.75M161.4 289.1h.75M160.0 283.6h.75M157.9 295.8h.75M159.3 288.4h.75M151.3 291.5h.75M151.1 295.9h.75M156.6 278.5h.75M160.1 296.5h.75M167.0 281.2h.75M161.2 279.4h.75M155.3 286.9h.75M157.4 302.9h.75M154.1 284.8h.75M159.3 294.3h.75M159.1 282.2h.75M159.3 295.7h.75M160.6 293.0h.75M163.9 300.3h.75M162.4 291.8h.75M154.6 290.3h.75M155.2 293.0h.75M161.1 297.1h.75M159.9 292.0h.75M166.6 291.8h.75M159.0 295.1h.75M159.1 297.8h.75M158.3 282.4h.75M163.1 289.6h.75M160.8 294.0h.75M158.3 292.4h.75M163.0 281.9h.75M166.4 293.0h.75M165.8 296.5h.75M157.2 304.7h.75M159.1 293.9h.75M160.2 282.7h.75M152.3 294.1h.75M166.8 289.2h.75M153.4 284.3h.75M160.0 284.1h.75M163.0 286.6h.75M161.7 290.7h.75M155.9 290.3h.75M156.7 292.2h.75M163.4 306.8h.75M159.2 289.6h.75M160.0 302.1h.75M163.5 283.4h.75M148.9 283.9h.75M160.6 285.6h.75M167.1 304.5h.75M162.4 292.4h.75M156.4 296.4h.75M163.6 305.2h.75M167.4 294.1h.75M156.8 304.3h.75M158.9 301.2h.75M157.8 292.8h.75M150.9 285.4h.75M149.5 299.6h.75M154.0 290.4h.75M156.8 284.1h.75M157.3 305.6h.75M165.3 290.8h.75M172.2 304.0h.75M163.2 295.8h.75M155.4 284.7h.75M163.7 287.8h.75M159.5 284.8h.75M161.0 292.3h.75M163.6 289.5h.75M162.8 278.9h.75M154.7 300.1h.75M160.6 279.0h.75M162.5 280.2h.75M168.4 310.4h.75M162.0 282.8h.75M158.0 278.5h.75M157.4 281.6h.75M156.5 296.7h.75M154.0 283.5h.75M154.0 288.8h.75M159.9 284.6h.75M156.2 290.3h.75M159.5 290.4h.75M158.3 302.8h.75M158.5 294.4h.75M159.5 282.1h.75M148.3 287.3h.75M160.6 290.3h.75M159.9 295.4h.75M156.5 296.8h.75M160.0 281.0h.75M162.3 281.4h.75M160.9 285.9h.75M153.4 279.1h.75M156.5 279.5h.75M162.4 298.7h.75M161.2 280.0h.75M160.1 292.4h.75M154.7 291.6h.75M156.6 286.6h.75M160.1 310.5h.75M159.4 312.4h.75M156.0 281.3h.75M158.5 287.4h.75M157.4 292.4h.75M154.6 299.5h.75M154.8 295.9h.75M156.0 286.7h.75M153.1 286.7h.75M161.4 300.1h.75M162.7 303.3h.75M163.2 285.1h.75M156.2 300.6h.75M156.3 294.8h.75M160.5 292.1h.75M157.5 280.1h.75M158.1 278.7h.75M158.1 293.6h.75M164.8 285.5h.75M153.4 293.6h.75M162.8 304.2h.75M154.8 304.5h.75M163.9 280.5h.75M160.9 288.9h.75M160.9 288.8h.75M157.8 285.1h.75M153.5 285.6h.75M154.4 294.1h.75M159.8 304.5h.75M159.0 290.6h.75M154.3 290.8h.75M154.6 291.1h.75M155.8 283.8h.75M159.1 295.4h.75M161.2 285.6h.75M163.2 281.3h.75M157.8 295.7h.75M162.4 285.5h.75M165.6 286.5h.75M155.7 288.8h.75M164.0 281.6h.75M152.0 288.7h.75M163.3 295.2h.75M161.1 288.9h.75M163.3 288.1h.75M160.1 282.6h.75M164.2 290.1h.75M157.2 295.6h.75M162.4 298.4h.75M162.4 289.8h.75M153.8 281.4h.75M164.4 301.7h.75M164.3 284.0h.75M163.7 301.8h.75M156.4 287.6h.75M164.7 283.3h.75M161.6 288.1h.75M163.3 284.0h.75M159.2 288.5h.75M157.6 294.3h.75M156.5 287.7h.75M156.9 286.0h.75M163.2 289.8h.75M156.2 293.4h.75M156.8 290.0h.75M160.8 294.7h.75M158.3 295.1h.75M150.9 292.5h.75M156.7 296.3h.75M157.9 290.1h.75M166.1 299.9h.75M162.2 293.5h.75M155.2 297.3h.75M154.8 288.3h.75M160.3 286.1h.75M156.2 290.3h.75M161.2 293.2h.75M153.5 289.7h.75M160.8 302.8h.75M164.4 278.7h.75M159.3 288.4h.75M160.5 284.1h.75M161.3 290.3h.75M159.8 295.7h.75M159.1 313.6h.75M160.6 278.6h.75M159.9 280.7h.75M159.8 289.5h.75M163.7 283.4h.75M163.2 301.2h.75M156.8 289.5h.75M157.4 289.8h.75M163.8 299.6h.75M163.6 291.1h.75M153.8 289.6h.75M168.2 292.3h.75M164.6 281.4h.75M157.1 286.3h.75M157.5 289.1h.75M150.9 296.4h.75M159.2 283.7h.75M164.4 295.3h.75M158.3 293.7h.75M167.9 296.7h.75M161.7 282.2h.75M161.1 287.5h.75M158.2 290.0h.75M161.8 292.5h.75M170.3 300.4h.75M161.3 291.6h.75M152.5 288.1h.75M160.3 288.3h.75M167.4 292.3h.75M164.4 296.7h.75M157.3 292.2h.75M160.9 285.3h.75M153.3 287.1h.75M162.1 283.2h.75M155.8 282.5h.75M157.2 285.8h.75M157.0 285.1h.75M156.4 296.6h.75M166.5 279.8h.75M165.5 290.6h.75M158.2 279.9h.75M159.8 296.8h.75M166.4 292.6h.75M158.2 300.8h.75M157.5 294.7h.75M155.9 281.2h.75M165.9 290.3h.75M160.1 284.6h.75M159.4 285.5h.75M157.6 281.3h.75M155.6 287.4h.75M163.4 290.8h.75M156.2 291.8h.75M157.2 311.2h.75M152.4 288.6h.75M154.8 290.7h.75M157.2 289.2h.75M157.3 287.8h.75M153.1 287.4h.75M156.8 290.5h.75M158.8 288.3h.75M148.5 296.3h.75M161.8 293.7h.75M158.2 282.5h.75M153.8 290.0h.75M158.2 292.6h.75M161.2 287.7h.75M159.3 288.1h.75M159.5 289.2h.75M159.4 295.2h.75M162.1 291.5h.75M153.7 285.4h.75M156.9 289.6h.75M160.9 300.5h.75M159.5 281.9h.75M154.9 295.6h.75M158.2 287.9h.75M156.4 321.5h.75M159.4 295.4h.75M152.4 290.5h.75M152.6 289.1h.75M158.8 285.7h.75M169.6 307.0h.75M163.4 293.1h.75M164.4 287.6h.75M159.4 290.0h.75M165.9 290.4h.75M160.8 282.0h.75M159.6 290.9h.75M163.8 294.3h.75M150.2 288.0h.75M163.1 297.1h.75M160.1 300.4h.75M158.3 305.7h.75M158.6 279.2h.75M160.9 289.3h.75M155.7 287.2h.75M162.5 299.0h.75M155.3 292.8h.75M164.9 290.7h.75M157.9 295.1h.75M155.5 286.2h.75M158.1 298.2h.75M155.4 287.2h.75M158.8 299.3h.75M151.8 291.6h.75M157.3 292.0h.75M159.6 280.5h.75M164.3 294.2h.75M158.4 301.5h.75M157.3 287.3h.75M159.3 278.8h.75M158.2 293.0h.75M165.1 279.6h.75M159.3 290.4h.75M155.4 287.8h.75M169.7 300.1h.75M159.5 297.6h.75M158.6 297.9h.75M163.0 286.2h.75M156.8 300.5h.75M158.3 289.5h.75M162.9 291.0h.75M154.3 293.7h.75M157.4 292.3h.75M163.2 278.9h.75M166.8 295.4h.75M158.8 294.0h.75M163.8 289.5h.75M153.1 290.7h.75M156.4 280.9h.75M156.0 298.4h.75M150.7 288.8h.75M147.2 297.1h.75M157.6 283.9h.75M163.1 284.0h.75M162.1 290.6h.75M164.6 298.6h.75M147.9 279.0h.75M158.7 285.2h.75M164.9 285.8h.75M155.7 287.8h.75M153.8 286.2h.75M160.7 299.0h.75M159.3 296.0h.75M162.0 290.2h.75M159.3 297.1h.75M164.5 298.7h.75M162.2 284.9h.75M160.4 284.0h.75M157.7 295.8h.75M162.3 307.8h.75M163.3 284.8h.75M164.1 296.6h.75M163.3 283.3h.75M153.9 297.3h.75M161.2 291.9h.75M160.9 279.5h.75M163.0 286.2h.75M152.8 293.2h.75M156.8 282.5h.75M159.0 295.0h.75M165.2 292.6h.75M156.8 287.5h.75M163.1 293.3h.75M159.9 287.0h.75M167.4 291.9h.75M160.7 281.7h.75M152.6 301.9h.75M158.2 287.8h.75M160.4 299.8h.75M164.6 308.0h.75M162.1 303.3h.75M158.1 289.9h.75M154.0 291.4h.75M159.5 289.7h.75M158.8 292.7h.75M164.9 283.1h.75M153.4 292.7h.75M149.6 290.4h.75M157.6 302.9h.75M160.5 305.2h.75M155.2 278.6h.75M157.2 282.3h.75M164.3 296.5h.75M162.4 299.9h.75M152.1 291.1h.75M160.8 290.5h.75M158.5 309.3h.75M161.7 284.2h.75M161.8 294.8h.75M169.8 292.9h.75M160.3 282.5h.75M156.3 297.2h.75M157.2 302.3h.75M162.4 289.6h.75M167.5 291.3h.75M161.9 295.6h.75M161.6 298.3h.75M160.5 297.3h.75M157.5 282.6h.75M159.7 282.2h.75M154.2 285.4h.75M161.3 278.9h.75M160.1 288.4h.75M155.7 284.4h.75M158.3 283.0h.75M156.9 297.5h.75M160.6 292.9h.75M158.2 297.0h.75M160.9 288.6h.75M163.3 286.5h.75M164.7 282.8h.75M155.1 292.1h.75M154.8 282.7h.75M164.6 295.0h.75M155.8 297.2h.75M165.1 289.5h.75M157.3 280.4h.75M163.7 294.8h.75M157.1 283.9h.75M158.4 289.0h.75M159.9 281.9h.75M159.8 305.3h.75M158.8 302.6h.75M162.2 282.9h.75M164.4 280.2h.75M163.0 289.6h.75M157.4 295.3h.75M151.6 300.6h.75M159.9 289.5h.75M147.4 279.6h.75M162.2 292.5h.75M162.0 292.3h.75M161.8 287.8h.75M156.6 287.5h.75M164.7 281.8h.75M156.2 291.9h.75M155.9 298.9h.75M156.6 298.5h.75M160.4 282.5h.75M155.0 285.1h.75M168.9 295.8h.75M157.8 287.2h.75M166.8 287.1h.75M158.2 308.5h.75M156.4 284.5h.75M156.2 283.0h.75M161.2 289.6h.75M164.4 304.4h.75M159.8 288.8h.75M155.6 287.6h.75M160.3 291.3h.75M156.1 287.5h.75M148.1 293.2h.75M159.9 311.4h.75M152.0 284.2h.75M156.7 288.3h.75M159.6 289.4h.75M158.3 295.1h.75M165.9 289.5h.75M165.8 287.7h.75M160.3 291.4h.75M160.3 282.5h.75M166.8 299.1h.75M156.8 285.0h.75M160.0 296.7h.75M160.6 288.9h.75M161.9 291.2h.75M162.8 278.4h.75M155.8 281.5h.75M161.5 288.7h.75M155.0 288.9h.75M163.9 301.6h.75M163.5 302.9h.75M158.5 291.1h.75M157.2 289.2h.75M159.3 305.9h.75M161.7 290.5h.75M153.0 298.5h.75M155.1 285.9h.75M163.3 289.1h.75M158.5 287.7h.75M154.0 284.2h.75M150.0 293.1h.75M157.5 283.1h.75M152.0 289.1h.75M159.9 293.5h.75M159.0 307.7h.75M154.1 290.6h.75M162.0 295.5h.75M154.3 287.1h.75M155.0 297.3h.75M158.4 294.5h.75M155.8 294.1h.75M166.9 286.5h.75M159.1 288.2h.75M156.1 288.1h.75M169.0 281.7h.75M156.0 291.5h.75M157.7 281.1h.75M158.4 282.2h.75M156.0 278.3h.75M161.8 299.2h.75M164.2 285.3h.75M153.9 282.6h.75M157.2 296.7h.75M157.7 286.5h.75M153.4 292.8h.75M153.7 288.5h.75M157.7 293.0h.75M155.5 291.6h.75M162.6 302.3h.75M160.0 298.4h.75M155.4 297.5h.75M156.7 288.1h.75M160.8 291.0h.75M161.6 300.8h.75M158.8 298.3h.75M161.5 298.2h.75M158.1 306.8h.75M154.3 299.1h.75M160.5 284.9h.75M157.4 279.3h.75M152.1 297.0h.75M160.8 287.1h.75M162.2 287.0h.75M157.2 284.1h.75M165.3 301.3h.75M161.2 292.7h.75M163.2 288.1h.75M156.5 297.5h.75M157.9 286.6h.75M164.5 300.1h.75M159.1 307.1h.75M159.3 288.9h.75M165.4 288.6h.75M164.0 299.7h.75M167.1 279.5h.75M153.0 281.4h.75M156.9 290.0h.75M165.3 292.5h.75M165.7 289.8h.75M157.2 289.8h.75M159.8 297.7h.75M163.1 299.0h.75M161.4 300.4h.75M160.3 288.8h.75M163.3 290.1h.75M167.3 302.3h.75M159.7 293.4h.75M154.7 301.0h.75M158.8 286.0h.75M159.1 289.6h.75M157.7 284.6h.75M162.1 289.8h.75M162.3 293.5h.75M163.0 286.2h.75M161.2 306.4h.75M155.0 297.2h.75M157.8 280.9h.75M155.7 292.5h.75M160.6 283.5h.75M158.8 290.6h.75M159.1 290.6h.75M161.4 283.3h.75M158.0 279.8h.75M163.6 284.0h.75M163.5 290.1h.75M155.4 296.8h.75M164.6 303.4h.75M156.3 293.8h.75M158.0 286.0h.75M154.0 290.1h.75M160.6 292.6h.75M164.2 296.6h.75M153.0 293.4h.75M161.0 289.8h.75M162.9 328.8h.75M158.0 316.8h.75M157.0 309.9h.75M161.3 317.9h.75M152.6 312.7h.75M153.4 311.8h.75M162.5 315.8h.75M156.2 317.1h.75M150.2 313.2h.75M160.0 314.1h.75M161.6 308.1h.75M154.0 314.0h.75M152.0 318.6h.75M156.8 314.8h.75M158.3 313.2h.75M154.7 305.5h.75M153.5 321.1h.75M158.9 307.2h.75M159.0 318.4h.75M150.9 312.1h.75M152.7 319.1h.75M155.7 320.6h.75M154.6 312.4h.75M157.8 295.9h.75M158.9 301.9h.75M164.0 308.3h.75M158.3 308.7h.75M160.4 316.0h.75M151.0 326.3h.75M154.3 318.3h.75M160.9 313.4h.75M151.4 322.5h.75M162.0 313.1h.75M159.0 319.5h.75M157.4 316.5h.75M156.5 302.6h.75M152.5 320.2h.75M152.8 325.0h.75M154.9 312.2h.75M155.3 319.0h.75M161.6 317.4h.75M153.1 312.7h.75M154.6 312.0h.75M150.3 320.4h.75M157.5 310.4h.75M156.9 311.0h.75M161.1 319.4h.75M164.2 319.9h.75M158.9 323.8h.75M153.7 310.8h.75M157.8 306.2h.75M158.0 320.9h.75M156.7 305.0h.75M152.8 311.8h.75M158.2 313.0h.75M152.3 324.7h.75M156.6 314.5h.75M155.8 307.0h.75M147.1 314.2h.75M159.2 322.4h.75M165.0 303.4h.75M155.5 306.4h.75M154.6 320.6h.75M160.4 315.1h.75M152.0 308.2h.75M157.0 313.1h.75M157.8 314.8h.75M154.8 307.4h.75M156.6 310.9h.75M153.7 323.1h.75M154.7 316.3h.75M159.4 321.1h.75M153.6 314.1h.75M154.7 311.0h.75M154.3 316.2h.75M158.8 308.8h.75M155.5 316.6h.75M153.7 312.5h.75M158.2 312.6h.75M149.3 312.7h.75M149.7 308.6h.75M158.0 322.6h.75M164.0 305.2h.75M155.1 315.7h.75M158.2 306.7h.75M151.7 319.8h.75M157.4 313.0h.75M157.7 315.5h.75M159.1 317.2h.75M154.1 316.5h.75M164.2 315.5h.75M153.3 316.6h.75M162.7 316.5h.75M152.8 311.6h.75M159.9 312.6h.75M162.0 312.9h.75M165.1 310.0h.75M156.5 311.1h.75M150.7 322.3h.75M160.1 305.7h.75M154.2 324.5h.75M152.9 311.2h.75M154.7 318.1h.75M153.5 314.4h.75M159.8 313.3h.75M157.6 317.7h.75M159.5 324.6h.75M160.2 313.7h.75M155.5 314.2h.75M159.6 311.1h.75M161.5 326.6h.75M164.0 321.4h.75M157.6 321.1h.75M156.0 314.6h.75M153.4 303.0h.75M155.5 317.3h.75M157.0 303.6h.75M157.9 310.6h.75M151.9 320.2h.75M155.4 310.9h.75M156.2 310.3h.75M154.7 301.6h.75M154.6 318.7h.75M158.3 316.9h.75M153.3 311.4h.75M158.7 316.6h.75M152.9 304.7h.75M157.8 308.8h.75M152.7 315.5h.75M161.4 319.7h.75M159.8 314.2h.75M162.0 307.0h.75M153.8 311.4h.75M152.0 321.1h.75M152.0 310.8h.75M156.1 315.9h.75M161.0 317.0h.75M159.6 311.1h.75M159.5 314.5h.75M152.3 303.6h.75M161.1 310.9h.75M159.7 314.6h.75M154.9 318.2h.75M147.3 322.2h.75M153.9 311.5h.75M156.5 317.2h.75M162.9 313.6h.75M157.8 309.6h.75M156.7 309.7h.75M163.0 314.0h.75M162.9 314.4h.75M158.4 309.8h.75M159.3 330.8h.75M161.7 314.2h.75M154.2 318.3h.75M158.5 312.7h.75M155.4 331.1h.75M153.3 300.9h.75M158.9 312.2h.75M161.2 315.4h.75M164.1 321.5h.75M159.9 314.0h.75M161.3 308.4h.75M156.3 323.7h.75M151.3 318.3h.75M154.6 312.8h.75M158.5 312.8h.75M154.7 312.8h.75M164.3 315.3h.75M161.6 304.0h.75M156.2 315.1h.75M163.6 310.7h.75M159.5 317.2h.75M163.3 316.3h.75M156.3 308.0h.75M160.0 322.4h.75M156.1 318.8h.75M157.1 308.9h.75M161.4 308.0h.75M164.3 310.2h.75M157.5 316.3h.75M158.1 321.8h.75M153.7 308.9h.75M156.2 309.6h.75M158.9 317.4h.75M152.2 314.0h.75M155.4 314.0h.75M152.8 313.5h.75M157.8 312.3h.75M160.4 324.7h.75M158.3 320.1h.75M156.0 312.3h.75M153.2 321.8h.75M150.9 325.5h.75M157.1 317.1h.75M162.8 316.1h.75M156.0 311.3h.75M156.8 315.0h.75M155.3 315.6h.75M152.7 322.1h.75M161.1 308.6h.75M159.7 304.5h.75M151.4 311.3h.75M152.3 316.5h.75M162.2 302.3h.75M153.7 313.0h.75M156.8 309.4h.75M153.1 307.5h.75M158.3 315.1h.75M154.0 321.2h.75M154.7 306.1h.75M152.8 315.6h.75M164.3 313.2h.75M167.0 318.1h.75M157.9 314.3h.75M159.6 310.5h.75M159.2 319.5h.75M157.1 316.8h.75M156.7 308.1h.75M155.7 302.3h.75M160.0 310.0h.75M152.3 315.4h.75M153.8 318.8h.75M159.7 310.8h.75M151.7 311.9h.75M163.2 303.4h.75M156.0 311.5h.75M157.8 314.9h.75M162.1 310.7h.75M156.9 313.6h.75M157.5 308.3h.75M154.8 308.8h.75M159.0 315.8h.75M159.7 304.9h.75M153.7 314.2h.75M159.6 321.2h.75M160.8 310.8h.75M158.8 311.2h.75M154.2 309.2h.75M160.6 306.4h.75M162.3 310.7h.75M155.2 306.5h.75M150.0 312.8h.75M154.3 310.8h.75M157.1 307.3h.75M162.0 314.2h.75M161.6 320.0h.75M159.7 318.7h.75M154.6 312.4h.75M160.0 313.9h.75M157.0 307.8h.75M153.1 312.5h.75M150.2 317.9h.75M160.9 318.5h.75M150.8 322.0h.75M161.8 305.0h.75M165.7 323.3h.75M157.2 316.2h.75M153.8 323.2h.75M154.6 314.0h.75M154.4 321.3h.75M158.5 313.8h.75M160.9 307.6h.75M154.1 315.8h.75M155.8 310.9h.75M154.5 313.7h.75M161.4 317.0h.75M160.8 318.5h.75M153.8 317.8h.75M155.9 319.7h.75M157.7 304.7h.75M150.2 320.8h.75M155.0 309.0h.75M157.6 314.5h.75M151.7 311.5h.75M157.9 307.1h.75M157.2 319.2h.75M154.9 307.9h.75M161.0 310.6h.75M153.4 322.6h.75M158.7 300.5h.75M156.1 303.9h.75M161.2 319.6h.75M154.0 311.5h.75M159.3 318.6h.75M159.4 313.8h.75M161.4 311.0h.75M163.2 318.1h.75M151.2 309.7h.75M156.7 310.6h.75M152.9 315.3h.75M160.8 307.4h.75M162.3 305.4h.75M155.9 304.1h.75M158.0 319.5h.75M162.1 325.4h.75M157.8 321.0h.75M156.5 310.1h.75M150.7 310.9h.75M154.3 308.0h.75M160.9 313.9h.75M151.4 320.1h.75M158.1 313.5h.75M157.9 313.8h.75M157.0 294.7h.75M160.1 315.8h.75M154.1 306.8h.75M162.4 312.5h.75M155.3 316.1h.75M160.9 314.7h.75M154.8 318.4h.75M158.0 323.1h.75M155.8 300.4h.75M163.5 304.7h.75M153.0 323.9h.75M154.6 316.9h.75M162.7 309.7h.75M160.1 312.4h.75M156.9 314.1h.75M156.0 320.3h.75M152.1 312.1h.75M156.0 314.0h.75M158.4 306.1h.75M161.7 322.8h.75M160.6 316.8h.75M162.6 311.3h.75M158.5 306.1h.75M154.3 314.0h.75M155.7 319.4h.75M162.9 327.9h.75M157.4 325.6h.75M162.5 311.9h.75M150.9 311.6h.75M155.1 308.3h.75M153.9 316.9h.75M158.0 309.6h.75M154.0 317.6h.75M151.9 316.1h.75M156.7 316.7h.75M148.2 308.4h.75M154.7 321.1h.75M158.7 313.0h.75M152.6 306.9h.75M156.8 314.0h.75M153.6 315.3h.75M155.7 314.6h.75M158.0 319.9h.75M158.8 321.5h.75M158.7 327.9h.75M154.1 313.7h.75M162.9 321.6h.75M158.3 298.7h.75M154.5 325.6h.75M162.2 314.1h.75M155.5 321.9h.75M164.6 312.9h.75M160.3 317.6h.75M156.6 318.1h.75M155.2 310.6h.75M153.8 310.9h.75M154.0 296.9h.75M156.0 317.7h.75M162.3 313.4h.75M157.8 313.0h.75M156.8 321.7h.75M158.7 316.4h.75M155.9 315.7h.75M152.2 302.9h.75M151.3 315.3h.75M162.6 312.6h.75M156.0 320.2h.75M163.3 311.3h.75M164.5 307.0h.75M158.2 312.9h.75M160.1 325.4h.75M155.7 309.1h.75M156.6 322.1h.75M157.4 313.3h.75M157.1 302.1h.75M163.0 318.1h.75M156.7 328.5h.75M160.6 317.1h.75M157.6 307.9h.75M159.6 313.0h.75M164.3 309.0h.75M151.0 331.6h.75M161.7 317.7h.75M154.7 300.1h.75M157.9 319.3h.75M155.8 317.1h.75M155.3 308.2h.75M151.8 310.7h.75M146.6 313.9h.75M165.5 324.7h.75M160.5 311.2h.75M156.2 309.8h.75M149.8 320.1h.75M159.8 310.5h.75M163.3 308.0h.75M158.8 313.5h.75M150.4 319.3h.75M155.1 315.2h.75M158.2 312.1h.75M156.8 323.0h.75M161.5 322.7h.75M153.3 304.7h.75M154.6 307.4h.75M147.3 308.8h.75M161.6 313.0h.75M159.6 315.4h.75M155.4 313.9h.75M150.0 314.8h.75M160.5 317.1h.75M151.5 306.6h.75M152.0 301.2h.75M149.4 316.1h.75M151.4 321.9h.75M153.3 315.5h.75M152.7 311.9h.75M161.4 317.7h.75M159.9 312.4h.75M157.4 306.5h.75M154.8 312.1h.75M156.9 319.0h.75M151.8 316.3h.75M158.6 318.5h.75M153.3 311.4h.75M155.0 317.7h.75M158.4 323.0h.75M153.5 312.4h.75M151.5 311.4h.75M161.1 321.8h.75M150.1 315.0h.75M151.9 307.4h.75M152.3 311.9h.75M154.1 322.3h.75M156.4 316.6h.75M144.1 325.6h.75M155.0 318.3h.75M162.6 316.0h.75M161.8 320.8h.75M160.5 310.8h.75M156.7 320.9h.75M157.9 313.9h.75M154.8 312.9h.75M150.3 316.8h.75M158.4 311.7h.75M161.3 307.7h.75M158.2 309.1h.75M156.9 317.6h.75M160.5 316.3h.75M158.3 315.0h.75M161.5 318.8h.75M155.3 309.1h.75M149.8 312.0h.75M159.0 324.2h.75M160.6 308.8h.75M153.9 322.2h.75M158.0 312.9h.75M159.9 317.6h.75M146.0 315.9h.75M166.9 313.0h.75M160.1 315.2h.75M156.2 320.2h.75M152.3 310.3h.75M150.6 308.8h.75M170.5 319.7h.75M155.7 312.1h.75M159.8 313.5h.75M154.3 313.4h.75M155.7 312.0h.75M159.7 303.7h.75M153.2 313.9h.75M156.7 311.7h.75M156.2 306.4h.75M158.9 311.1h.75M160.5 315.9h.75M156.3 324.9h.75M162.7 311.3h.75M155.1 322.5h.75M155.4 311.8h.75M157.3 317.3h.75M156.0 313.0h.75M160.2 319.0h.75M145.4 315.4h.75M149.8 312.2h.75M148.2 305.3h.75M162.7 320.4h.75M160.3 305.6h.75M154.2 310.9h.75M158.6 325.1h.75M149.8 316.0h.75M155.7 315.0h.75M163.0 315.3h.75M159.6 316.0h.75M165.7 312.5h.75M155.0 316.6h.75M161.7 313.6h.75M157.4 312.6h.75M158.3 317.3h.75M158.1 318.3h.75M160.2 316.6h.75M162.4 320.2h.75M157.3 325.7h.75M158.6 324.8h.75M156.6 315.2h.75M158.2 308.1h.75M153.7 321.4h.75M161.1 315.3h.75M159.9 319.2h.75M158.4 312.5h.75M157.0 319.7h.75M154.3 308.0h.75M153.2 315.6h.75M152.5 306.6h.75M153.8 326.6h.75M160.8 313.1h.75M158.8 302.2h.75M151.3 322.2h.75M153.1 320.4h.75M162.5 322.8h.75M163.9 308.0h.75M160.5 316.9h.75M165.7 322.5h.75M154.3 313.6h.75M158.9 317.0h.75M154.5 313.4h.75M166.2 312.9h.75M158.9 322.9h.75M158.9 310.1h.75M158.7 314.9h.75M154.4 318.2h.75M156.9 315.0h.75M147.9 319.7h.75M155.4 303.0h.75M153.1 321.5h.75M160.4 307.7h.75M162.7 313.5h.75M158.3 312.7h.75M153.1 317.5h.75M152.8 313.7h.75M160.3 312.2h.75M156.2 318.8h.75M156.2 327.0h.75M152.9 311.2h.75M158.3 310.8h.75M158.1 311.3h.75M160.5 307.5h.75M153.5 307.5h.75M157.1 311.9h.75M151.5 318.9h.75M158.2 311.7h.75M157.3 309.9h.75M155.8 314.1h.75M160.9 310.0h.75M152.1 330.7h.75M163.6 323.8h.75M159.0 314.9h.75M159.7 304.7h.75M158.4 311.4h.75M154.5 309.3h.75M155.0 309.5h.75M161.2 301.8h.75M157.3 311.6h.75M158.6 311.2h.75M155.9 310.7h.75M160.8 307.1h.75M160.0 316.8h.75M152.1 309.6h.75M165.3 301.3h.75M161.6 308.6h.75M160.7 319.3h.75M158.7 321.7h.75M157.1 307.9h.75M160.8 313.6h.75M167.8 317.9h.75M157.0 320.0h.75M152.9 311.8h.75M157.2 316.3h.75M157.6 312.0h.75M161.2 303.9h.75M152.4 320.0h.75M155.6 314.2h.75M156.0 317.0h.75M161.3 313.3h.75M161.8 309.4h.75M158.1 311.7h.75M161.7 316.5h.75M157.8 307.1h.75M157.7 323.6h.75M148.0 328.0h.75M153.7 301.1h.75M152.7 319.9h.75M159.1 312.0h.75M157.6 318.1h.75M152.9 315.6h.75M157.4 313.5h.75M156.7 319.8h.75M158.8 315.1h.75M155.0 323.3h.75M154.3 316.5h.75M162.1 306.1h.75M156.1 313.6h.75M161.3 314.6h.75M153.6 311.2h.75M156.3 307.4h.75M155.9 326.1h.75M153.3 314.2h.75M160.1 314.4h.75M151.7 305.0h.75M158.1 317.9h.75M148.5 313.9h.75M160.0 321.0h.75M157.3 324.6h.75M161.7 310.8h.75M165.3 310.4h.75M154.4 321.4h.75M157.2 321.0h.75M152.0 316.5h.75M155.3 318.9h.75M157.4 312.8h.75M157.3 314.5h.75M160.3 314.6h.75M159.1 302.1h.75M161.1 319.0h.75M154.4 319.2h.75M157.7 309.2h.75M152.9 311.4h.75M156.4 316.4h.75M146.1 318.9h.75M156.7 314.7h.75M157.3 312.0h.75M155.2 317.1h.75M155.5 315.4h.75M150.2 308.8h.75M154.5 312.8h.75M154.7 312.5h.75M158.0 318.5h.75M158.9 307.0h.75M155.3 309.9h.75M156.5 312.4h.75M158.5 314.8h.75M153.5 328.5h.75M161.1 313.6h.75M165.3 320.8h.75M158.6 319.2h.75M155.1 322.2h.75M158.0 324.8h.75M161.8 318.0h.75M162.2 309.0h.75M151.7 312.6h.75M158.4 323.4h.75M154.2 327.2h.75M155.3 322.1h.75M158.2 328.7h.75M159.2 318.7h.75M155.9 309.8h.75M153.7 315.2h.75M156.3 316.4h.75M152.9 320.1h.75M164.0 319.7h.75M150.8 309.5h.75M159.5 321.6h.75M157.5 311.4h.75M157.1 316.3h.75M152.9 318.5h.75M155.1 318.8h.75M155.7 317.7h.75M154.9 311.5h.75M156.1 313.9h.75M157.5 320.1h.75M155.3 312.0h.75M158.8 307.8h.75M159.9 299.7h.75M154.9 314.7h.75M160.0 309.3h.75M157.3 314.6h.75M154.8 308.3h.75M158.9 312.0h.75M161.5 312.4h.75M155.7 320.2h.75M149.7 309.4h.75M160.1 307.6h.75M161.0 315.2h.75M152.6 319.4h.75M156.5 309.2h.75M158.8 317.6h.75M147.6 314.7h.75M160.1 317.5h.75M159.9 303.6h.75M160.2 315.1h.75M162.9 313.1h.75M152.8 315.8h.75M160.8 310.6h.75M166.0 313.9h.75M148.0 301.7h.75M155.5 314.4h.75M159.8 322.6h.75M154.1 315.7h.75M149.6 315.0h.75M158.2 316.6h.75M157.6 322.9h.75M154.0 310.5h.75M157.9 305.9h.75M160.6 308.0h.75M160.9 310.6h.75M158.6 315.1h.75M152.0 319.4h.75M155.7 310.2h.75M147.8 308.5h.75M152.7 319.8h.75M157.6 320.9h.75M159.1 310.0h.75M156.8 319.0h.75M156.8 313.4h.75M149.1 311.6h.75M151.8 313.7h.75M152.3 309.4h.75M154.5 304.4h.75M154.5 306.1h.75M165.6 310.0h.75M160.9 316.2h.75M152.8 316.8h.75M154.2 319.6h.75M154.7 309.8h.75M154.5 314.3h.75M154.8 305.9h.75M148.7 308.6h.75M161.5 320.5h.75M159.6 313.6h.75M159.4 325.6h.75M157.2 318.5h.75M158.7 311.6h.75M155.4 310.3h.75M148.9 302.1h.75M157.3 322.2h.75M156.9 320.3h.75M151.5 335.8h.75M147.8 326.8h.75M161.4 316.4h.75M152.7 308.2h.75M156.0 303.9h.75M154.0 312.2h.75M163.5 314.3h.75M150.8 305.7h.75M161.0 318.6h.75M146.6 320.2h.75M160.5 308.6h.75M154.8 312.9h.75M147.8 306.1h.75M157.0 320.5h.75M156.5 309.1h.75M150.3 307.7h.75M158.2 302.7h.75M156.7 308.3h.75M158.7 304.1h.75M151.2 320.8h.75M153.8 318.2h.75M152.9 307.1h.75M157.3 309.1h.75M154.6 314.0h.75M152.7 315.1h.75M162.3 308.1h.75M154.6 322.5h.75M161.2 318.2h.75M160.1 326.5h.75M153.9 297.8h.75M149.4 304.9h.75M157.6 318.7h.75M159.5 315.7h.75M161.5 312.7h.75M158.3 307.5h.75M158.5 317.4h.75M154.2 311.3h.75M153.9 322.6h.75M169.7 321.1h.75M161.4 319.9h.75M151.4 303.3h.75M158.0 316.4h.75M158.6 325.0h.75M149.6 325.5h.75M155.6 321.9h.75M159.1 321.3h.75M163.5 309.8h.75M163.3 323.3h.75M155.4 325.8h.75M155.5 317.0h.75M154.9 317.6h.75M157.7 313.6h.75M160.3 315.6h.75M152.6 312.6h.75M156.1 317.3h.75M154.4 313.4h.75M153.7 305.3h.75M154.7 310.7h.75M164.2 316.9h.75M163.8 315.7h.75M162.7 323.2h.75M150.1 320.3h.75M158.1 322.3h.75M158.2 310.8h.75M162.0 308.4h.75M156.0 299.0h.75M156.1 310.6h.75M161.4 301.3h.75M159.2 300.8h.75M155.7 308.5h.75M161.6 302.8h.75M163.4 297.3h.75M161.0 306.7h.75M162.9 306.0h.75M161.6 306.3h.75M161.5 298.4h.75M155.6 307.4h.75M152.0 301.6h.75M157.2 307.8h.75M147.3 299.0h.75M156.5 300.2h.75M154.6 296.1h.75M158.8 300.9h.75M155.9 308.5h.75M158.4 305.1h.75M155.3 301.8h.75M157.5 309.7h.75M163.5 305.0h.75M154.8 307.3h.75M152.4 305.5h.75M163.2 303.7h.75M161.0 304.7h.75M158.2 305.9h.75M157.0 308.7h.75M159.4 306.6h.75M157.1 307.7h.75M161.7 299.6h.75M157.3 296.4h.75M156.2 305.4h.75M160.2 304.7h.75M155.6 305.9h.75M160.2 300.0h.75M154.3 304.7h.75M156.5 299.7h.75M159.0 304.4h.75M155.9 303.8h.75M161.7 303.4h.75M158.0 305.3h.75M159.1 302.0h.75M151.6 304.0h.75M160.3 306.9h.75M158.6 310.3h.75M151.6 305.7h.75M159.2 307.4h.75M159.5 306.5h.75M155.9 310.9h.75M154.6 312.6h.75M153.5 301.5h.75M158.4 306.9h.75M158.4 305.3h.75M157.6 310.6h.75M165.2 294.1h.75M158.3 301.4h.75M158.9 297.0h.75M152.9 309.7h.75M159.4 305.2h.75M161.5 306.8h.75M155.3 305.8h.75M165.5 305.2h.75M156.4 305.8h.75M158.8 302.4h.75M157.1 295.7h.75M157.0 305.4h.75M148.5 303.8h.75M161.3 301.8h.75M150.8 301.6h.75M162.6 309.4h.75M154.5 301.1h.75M156.5 299.8h.75M166.9 306.8h.75M155.0 310.1h.75M157.6 298.8h.75M154.0 300.0h.75M157.7 299.8h.75M159.7 305.6h.75M163.7 306.4h.75M149.4 309.8h.75M158.1 303.8h.75M160.4 303.1h.75M161.4 301.6h.75M155.7 308.7h.75M158.6 301.6h.75M164.7 300.7h.75M159.6 303.1h.75M165.6 303.9h.75M154.2 305.7h.75M155.9 301.5h.75M158.4 311.2h.75M154.8 311.9h.75M160.5 299.5h.75M154.5 304.6h.75M159.5 299.9h.75M153.2 302.9h.75M155.4 299.0h.75M159.2 302.9h.75M160.4 305.1h.75M155.0 304.7h.75M153.2 298.6h.75M160.2 295.9h.75M154.9 296.5h.75M159.7 309.0h.75M162.8 303.3h.75M160.5 304.3h.75M153.1 310.0h.75M162.6 299.9h.75M162.2 305.7h.75M156.3 301.3h.75M156.9 304.8h.75M163.2 296.4h.75M159.4 302.4h.75M159.8 303.7h.75M162.1 304.5h.75M160.2 298.2h.75M168.0 303.0h.75M163.1 307.6h.75M158.9 303.7h.75M158.8 307.5h.75M157.4 306.7h.75M162.6 305.0h.75M154.3 302.5h.75M161.4 304.3h.75M156.4 300.2h.75M152.1 306.7h.75M161.8 305.4h.75M159.9 308.9h.75M159.4 313.2h.75M157.4 307.5h.75M158.3 306.3h.75M156.3 304.8h.75M163.0 307.5h.75M163.1 309.7h.75M158.3 302.9h.75M158.5 298.9h.75M159.4 298.5h.75M161.5 308.1h.75M159.2 305.9h.75M156.9 306.2h.75M157.7 297.2h.75M159.4 301.7h.75M158.0 297.7h.75M157.1 299.3h.75M162.7 301.7h.75M159.9 301.2h.75M161.6 310.5h.75M155.5 298.8h.75M161.3 301.5h.75M158.6 301.0h.75M157.6 304.3h.75M156.2 307.0h.75M156.3 300.7h.75M156.9 297.2h.75M158.9 302.3h.75M158.2 305.7h.75M165.4 299.6h.75M160.1 308.0h.75M159.3 299.8h.75M158.2 301.4h.75M155.8 302.2h.75M155.7 311.9h.75M159.7 307.2h.75M153.3 305.5h.75M164.1 299.9h.75M163.9 299.4h.75M153.4 301.2h.75M162.7 310.6h.75M162.3 309.4h.75M162.4 304.6h.75M160.8 301.1h.75M164.1 296.8h.75M155.8 302.2h.75M157.0 306.1h.75M160.6 306.3h.75M158.7 305.6h.75M153.6 301.1h.75M161.3 306.1h.75M162.0 303.4h.75M157.8 307.6h.75M159.8 305.1h.75M161.8 307.2h.75M151.3 305.4h.75M156.6 302.1h.75M155.6 308.8h.75M158.0 299.8h.75M154.3 306.8h.75M154.2 302.2h.75M159.3 302.5h.75M164.8 305.1h.75M154.3 301.9h.75M164.0 299.8h.75M161.8 300.2h.75M162.0 299.4h.75M163.0 304.1h.75M157.1 305.3h.75M162.4 303.7h.75M153.4 297.7h.75M155.8 304.6h.75M159.7 307.9h.75M161.2 299.4h.75M153.8 300.3h.75M152.0 307.8h.75M159.9 303.3h.75M159.5 308.4h.75M160.9 302.7h.75M158.3 298.2h.75M154.1 303.9h.75M162.4 303.8h.75M161.2 305.2h.75M159.1 300.6h.75M166.0 302.1h.75M159.4 312.3h.75M163.7 301.8h.75M158.1 310.5h.75M148.6 299.4h.75M154.6 305.0h.75M149.2 305.5h.75M157.8 307.6h.75M162.6 304.0h.75M152.7 301.4h.75M161.0 304.5h.75M157.6 298.0h.75M161.7 293.9h.75M159.8 297.7h.75M155.1 310.4h.75M160.5 307.4h.75M158.4 311.5h.75M161.6 306.0h.75M165.2 298.1h.75M157.9 300.0h.75M164.2 305.3h.75M158.2 300.6h.75M160.7 300.2h.75M159.2 299.6h.75M156.3 300.9h.75M159.0 296.3h.75M157.1 305.7h.75M160.5 301.1h.75M155.0 309.2h.75M155.3 310.7h.75M161.6 303.7h.75M160.4 308.3h.75M160.5 308.5h.75M160.5 304.9h.75M162.2 303.3h.75M160.2 309.2h.75M161.7 306.7h.75M155.9 303.3h.75M160.4 302.0h.75M156.1 304.0h.75M154.4 307.8h.75M157.8 306.8h.75M160.8 301.6h.75M158.7 303.4h.75M164.7 304.7h.75M160.9 302.4h.75M160.1 303.7h.75M159.0 300.1h.75M154.0 300.8h.75M158.8 305.2h.75M158.7 305.0h.75M164.6 302.8h.75M155.9 312.8h.75M158.2 303.3h.75M156.1 306.9h.75M159.1 305.2h.75M152.7 302.1h.75M159.6 306.8h.75M158.7 308.5h.75M159.2 304.1h.75M167.6 306.1h.75M158.3 315.5h.75M160.3 300.5h.75M158.5 303.2h.75M162.3 306.4h.75M166.3 304.1h.75M164.4 300.8h.75M159.8 302.1h.75M154.3 303.1h.75M160.1 303.0h.75M153.0 304.3h.75M155.6 310.4h.75M156.6 305.0h.75M154.8 302.5h.75M158.6 306.8h.75M157.4 306.7h.75M156.1 299.8h.75M159.9 301.6h.75M156.1 299.7h.75M163.0 305.4h.75M160.8 307.5h.75M157.1 303.2h.75M160.1 309.0h.75M156.3 301.8h.75M156.4 302.8h.75M162.1 303.8h.75M153.1 304.8h.75M160.2 310.7h.75M165.2 299.6h.75M151.0 306.3h.75M166.8 304.4h.75M152.0 308.8h.75M150.9 298.7h.75M151.3 299.4h.75M154.6 310.9h.75M156.5 309.1h.75M152.0 308.4h.75M157.9 303.6h.75M161.3 308.3h.75M155.9 304.1h.75M159.0 299.7h.75M160.7 303.5h.75M164.5 303.0h.75M158.2 299.9h.75M161.0 301.8h.75M160.3 301.3h.75M158.7 306.2h.75M157.4 308.0h.75M159.8 308.5h.75M160.9 308.5h.75M154.0 299.8h.75M157.2 306.4h.75M159.7 307.3h.75M159.6 305.7h.75M159.7 300.3h.75M169.2 327.9h.75M179.1 314.7h.75M175.9 315.3h.75M181.4 313.2h.75M173.8 317.2h.75M180.3 321.1h.75M177.2 312.0h.75M174.3 325.3h.75M177.1 324.5h.75M178.1 321.9h.75M181.2 320.9h.75M181.1 331.0h.75M182.5 311.6h.75M181.0 314.5h.75M177.1 329.4h.75M177.1 310.7h.75M179.1 319.2h.75M177.4 316.6h.75M173.3 312.3h.75M172.0 312.3h.75M181.0 316.3h.75M178.9 319.0h.75M184.9 320.2h.75M176.9 320.8h.75M181.9 317.9h.75M179.0 317.7h.75M180.1 320.9h.75M178.8 314.0h.75M182.1 310.1h.75M180.2 322.1h.75M177.0 306.0h.75M178.2 320.6h.75M177.8 324.6h.75M178.8 310.6h.75M179.3 305.2h.75M177.2 312.8h.75M176.7 319.2h.75M178.5 312.1h.75M172.9 323.2h.75M179.8 321.0h.75M179.7 312.0h.75M168.6 321.7h.75M175.0 309.5h.75M178.5 315.0h.75M171.3 318.7h.75M179.9 324.8h.75M181.7 321.9h.75M180.0 325.8h.75M181.6 309.5h.75M178.2 335.3h.75M181.3 312.6h.75M180.8 319.0h.75M178.1 326.2h.75M178.8 320.3h.75M173.2 324.2h.75M174.2 310.7h.75M181.8 311.2h.75M181.8 315.0h.75M175.9 314.3h.75M173.6 318.1h.75M172.2 315.7h.75M182.2 311.0h.75M179.6 318.7h.75M184.6 309.7h.75M182.6 313.6h.75M185.0 319.2h.75M181.2 312.5h.75M176.7 317.4h.75M177.4 321.1h.75M182.1 325.7h.75M173.9 324.2h.75M180.3 322.4h.75M177.2 320.2h.75M182.6 310.5h.75M176.7 312.7h.75M176.2 312.6h.75M181.6 314.4h.75M168.2 316.7h.75M181.9 312.2h.75M179.4 315.0h.75M176.6 323.7h.75M180.6 315.0h.75M176.9 306.7h.75M180.5 315.9h.75M178.8 316.6h.75M180.9 315.4h.75M175.4 329.3h.75M176.3 322.6h.75M184.4 326.9h.75M179.5 314.0h.75M177.9 321.7h.75M175.6 318.8h.75M176.8 316.9h.75M179.2 312.8h.75M174.6 318.6h.75M178.4 306.7h.75M177.7 322.7h.75M172.2 332.9h.75M178.5 325.7h.75M182.4 305.8h.75M177.1 318.5h.75M177.8 313.2h.75M179.3 314.0h.75M176.5 315.9h.75M172.9 323.9h.75M178.6 321.4h.75M177.1 312.7h.75M176.4 320.5h.75M182.9 318.2h.75M178.8 328.7h.75M176.1 309.2h.75M176.3 316.7h.75M183.6 312.1h.75M181.1 317.2h.75M172.8 306.1h.75M180.4 312.2h.75M176.9 316.7h.75M176.6 314.0h.75M182.1 312.5h.75M180.8 316.7h.75M175.8 314.2h.75M178.4 312.2h.75M180.5 316.0h.75M178.1 317.5h.75M179.8 319.1h.75M176.2 307.7h.75M182.6 315.1h.75M183.1 323.8h.75M176.4 309.3h.75M173.9 318.0h.75M177.0 314.6h.75M181.3 323.3h.75M179.2 324.1h.75M178.3 318.8h.75M179.1 314.5h.75M173.7 308.6h.75M178.3 314.4h.75M178.2 312.7h.75M176.5 317.5h.75M181.0 325.9h.75M176.4 327.8h.75M176.4 319.0h.75M180.7 318.0h.75M180.5 316.6h.75M178.7 319.0h.75M179.2 316.2h.75M179.7 327.0h.75M179.6 313.2h.75M175.3 318.0h.75M181.2 314.0h.75M185.0 322.6h.75M179.7 327.3h.75M177.6 321.0h.75M182.3 318.4h.75M180.5 317.7h.75M176.1 320.6h.75M178.2 314.8h.75M176.6 326.5h.75M181.8 327.1h.75M174.3 323.0h.75M182.5 321.9h.75M176.3 315.2h.75M179.5 327.5h.75M177.1 309.9h.75M179.7 313.5h.75M182.2 329.1h.75M180.5 315.2h.75M174.6 313.0h.75M177.7 308.4h.75M178.9 323.2h.75M162.9 329.5h.75M158.1 341.5h.75M148.9 316.1h.75M156.6 335.7h.75M153.1 335.3h.75M161.5 334.6h.75M164.3 318.6h.75M159.3 321.5h.75M159.2 326.1h.75M164.8 325.9h.75M165.5 337.8h.75M151.2 329.1h.75M159.3 343.7h.75M151.3 332.4h.75M153.3 337.4h.75M162.8 327.4h.75M151.6 327.9h.75M156.3 335.9h.75M163.3 339.4h.75M159.4 327.4h.75M149.0 342.6h.75M156.6 330.7h.75M156.0 344.8h.75M152.7 323.0h.75M167.3 329.9h.75M157.5 337.6h.75M157.4 332.0h.75M162.3 328.1h.75M158.0 337.6h.75M150.7 340.0h.75M157.2 329.5h.75M159.3 338.6h.75M158.0 329.2h.75M162.5 326.4h.75M161.6 342.6h.75M159.8 328.2h.75M156.5 328.8h.75M157.5 338.5h.75M166.9 325.0h.75M149.1 325.2h.75M162.9 330.6h.75M159.5 333.3h.75M153.9 339.8h.75M157.3 331.1h.75M160.3 327.5h.75M150.4 322.6h.75M158.2 330.1h.75M160.2 329.0h.75M152.9 341.2h.75M158.0 320.0h.75M164.3 318.7h.75M158.3 318.0h.75M153.1 330.7h.75M149.5 335.9h.75M148.6 345.1h.75M162.2 319.9h.75M156.4 333.7h.75M156.9 327.7h.75M156.3 345.1h.75M153.7 335.2h.75M166.0 344.4h.75M160.8 332.3h.75M164.7 340.8h.75M151.4 335.3h.75M160.3 327.5h.75M160.6 339.8h.75M151.8 330.1h.75M153.1 314.9h.75M153.3 331.7h.75M162.4 322.9h.75M158.5 336.6h.75M153.9 344.5h.75M160.8 334.8h.75M154.1 336.8h.75M158.0 322.8h.75M157.0 326.3h.75M153.2 327.9h.75M162.0 347.8h.75M157.6 329.2h.75M146.1 334.6h.75M156.4 318.1h.75M164.8 328.5h.75M146.3 333.4h.75M161.8 331.4h.75M158.5 330.1h.75M151.3 335.8h.75M157.3 336.2h.75M151.8 323.0h.75M149.8 322.0h.75M159.3 336.8h.75M158.7 338.7h.75M148.5 321.7h.75M154.7 337.7h.75M157.5 321.4h.75M149.6 331.1h.75M162.7 342.4h.75M153.7 319.6h.75M159.3 332.3h.75M160.5 330.7h.75M152.7 323.5h.75M159.1 338.3h.75M157.9 325.0h.75M159.3 327.1h.75M155.2 323.7h.75M162.1 335.8h.75M160.9 336.7h.75M164.9 343.0h.75M162.6 330.4h.75M150.7 325.8h.75M154.6 344.1h.75M159.5 327.4h.75M162.3 337.7h.75M153.9 345.0h.75M157.4 338.5h.75M158.9 317.9h.75M156.8 324.0h.75M162.3 326.1h.75M152.5 338.9h.75M159.9 326.1h.75M153.5 338.3h.75M159.5 334.0h.75M152.8 333.5h.75M156.0 332.1h.75M161.9 326.3h.75M152.7 343.0h.75M157.7 333.2h.75M160.5 344.1h.75M156.8 325.0h.75M156.0 318.8h.75M157.4 343.2h.75M153.0 322.9h.75M161.1 333.0h.75M160.9 329.2h.75M165.9 330.9h.75M158.7 329.5h.75M162.7 323.4h.75M154.9 322.6h.75M159.7 333.7h.75M152.9 326.4h.75M158.5 345.7h.75M155.8 332.7h.75M162.1 343.1h.75M147.4 328.3h.75M156.5 338.3h.75M155.9 327.3h.75M160.6 324.6h.75M153.9 330.1h.75M155.3 330.4h.75M154.3 321.4h.75M177.4 287.3h.75M182.8 288.2h.75M179.3 300.1h.75M180.5 297.7h.75M183.0 294.4h.75M179.4 296.2h.75M177.1 280.2h.75M174.6 295.4h.75M179.7 294.8h.75M182.1 301.5h.75M180.8 289.6h.75M184.6 291.4h.75M178.3 298.8h.75M181.1 323.2h.75M176.6 290.7h.75M172.3 316.9h.75M182.2 287.6h.75M178.1 297.3h.75M182.5 287.5h.75M177.5 310.3h.75M173.8 298.1h.75M176.3 298.7h.75M178.7 306.9h.75M177.2 309.7h.75M178.8 290.3h.75M182.1 299.3h.75M179.9 291.9h.75M181.8 308.3h.75M177.2 318.5h.75M176.0 294.6h.75M182.2 299.6h.75M184.3 288.5h.75M176.0 297.2h.75M145.6 315.2h.75M151.3 311.0h.75M134.0 330.5h.75M147.3 320.8h.75M151.8 315.7h.75M137.2 325.6h.75M149.4 318.4h.75M149.7 327.8h.75M141.7 333.5h.75M133.5 319.3h.75M145.8 311.9h.75M142.1 306.1h.75M154.2 335.0h.75M143.5 321.4h.75M149.1 311.8h.75M147.0 316.7h.75M146.1 306.6h.75M137.6 330.8h.75M140.6 320.6h.75M145.5 314.1h.75M144.4 303.2h.75M144.3 338.3h.75M149.5 318.8h.75M145.2 295.9h.75M149.2 312.0h.75M145.5 317.4h.75M147.2 319.1h.75M141.8 307.0h.75M136.0 328.9h.75M150.0 323.3h.75M150.1 318.1h.75M148.8 311.2h.75M140.1 300.2h.75M151.5 313.1h.75M145.5 315.6h.75M145.9 306.0h.75M140.9 320.5h.75M142.0 325.4h.75M141.2 313.0h.75M147.1 313.6h.75M140.9 317.4h.75M144.8 333.9h.75M141.7 331.6h.75M137.3 301.4h.75M145.2 312.8h.75M145.7 342.6h.75M145.4 314.4h.75M151.1 322.5h.75M144.9 330.0h.75M139.2 314.1h.75M156.3 318.5h.75M145.1 323.0h.75M149.3 317.5h.75M145.7 317.1h.75M131.2 331.6h.75M152.0 316.1h.75M138.2 330.6h.75M151.4 311.8h.75M144.2 314.6h.75M139.8 324.8h.75M130.4 322.7h.75M142.1 327.2h.75M138.9 318.1h.75M145.1 317.4h.75M138.4 313.1h.75M149.2 302.3h.75M141.8 313.6h.75M142.2 327.8h.75M156.7 317.0h.75M149.6 319.7h.75M141.1 329.9h.75M147.1 308.7h.75M135.3 321.1h.75M140.5 312.2h.75M143.9 328.7h.75M140.5 303.4h.75M139.0 314.3h.75M148.7 312.7h.75M141.3 314.4h.75M140.1 312.3h.75M141.3 336.0h.75M141.0 315.6h.75M149.6 316.3h.75M146.6 303.7h.75M136.0 304.8h.75M152.8 310.3h.75M151.3 305.9h.75M143.2 322.7h.75M139.0 312.0h.75M145.0 313.3h.75M141.5 316.3h.75M147.9 308.8h.75M144.6 305.4h.75M152.4 311.1h.75M135.3 319.7h.75M141.2 316.6h.75M146.5 309.4h.75M141.9 333.2h.75M142.4 321.3h.75M138.1 324.2h.75M156.1 332.6h.75M143.8 308.8h.75M149.0 327.0h.75M140.3 320.2h.75M142.1 320.6h.75M144.4 303.0h.75M154.5 309.9h.75M152.9 317.8h.75M157.1 317.3h.75M153.8 332.7h.75M153.6 314.1h.75M143.6 320.1h.75M140.8 314.7h.75M152.6 305.1h.75M140.7 314.4h.75M148.0 318.7h.75M141.3 334.6h.75M138.7 329.8h.75M145.2 312.5h.75M139.6 309.1h.75M143.1 317.5h.75M150.0 312.3h.75M143.7 341.6h.75M150.7 326.0h.75M142.2 317.3h.75M146.9 312.6h.75M138.9 307.5h.75M152.6 316.9h.75M132.9 292.9h.75M146.5 314.1h.75M148.1 313.4h.75M129.5 332.6h.75M135.2 300.8h.75M135.9 326.6h.75M144.4 314.6h.75M143.3 325.4h.75M142.9 310.7h.75M148.4 321.8h.75M158.2 326.0h.75M138.9 342.6h.75M146.9 310.1h.75M145.1 316.6h.75M151.2 316.9h.75M132.4 312.2h.75M135.3 317.0h.75M138.5 318.2h.75M138.5 314.6h.75M146.2 301.3h.75M142.0 320.4h.75M133.0 303.9h.75M140.4 317.1h.75M135.3 327.6h.75M140.3 305.6h.75M143.7 316.6h.75M140.2 319.8h.75M152.0 317.5h.75M158.0 313.4h.75M147.7 318.1h.75M135.7 324.5h.75M153.2 308.1h.75M157.1 316.3h.75M143.7 324.8h.75M147.0 312.2h.75M151.2 306.3h.75M146.0 325.3h.75M152.2 324.6h.75M148.1 327.2h.75M141.2 317.8h.75M141.9 311.7h.75M146.3 327.3h.75M177.9 312.7h.75M172.1 331.0h.75M134.6 338.3h.75M147.3 326.9h.75M137.3 312.4h.75M141.6 315.1h.75M182.3 338.9h.75M158.5 313.7h.75M141.5 347.1h.75M173.2 344.6h.75M137.0 317.3h.75M145.3 318.4h.75M180.8 347.4h.75M157.0 342.6h.75M135.5 347.5h.75M142.8 336.3h.75M161.4 328.5h.75M162.0 320.1h.75M179.4 313.4h.75M176.8 335.2h.75M156.1 338.3h.75M196.0 337.1h.75M155.6 320.7h.75M148.1 336.9h.75M134.9 336.3h.75M165.4 323.7h.75M172.5 311.1h.75M180.0 347.5h.75M176.2 333.6h.75M181.3 332.6h.75M193.3 309.8h.75M169.3 332.4h.75M197.0 329.3h.75M183.0 323.4h.75M140.4 334.8h.75M158.3 344.4h.75M178.0 344.8h.75M144.2 311.8h.75M190.1 311.8h.75M184.7 321.9h.75M172.2 336.5h.75M146.5 312.6h.75M173.2 315.6h.75M188.0 318.0h.75M176.2 328.5h.75M147.1 345.3h.75M196.6 333.5h.75M165.1 329.2h.75M187.2 329.1h.75M181.3 332.7h.75M189.8 338.3h.75M149.7 325.7h.75M132.6 332.7h.75M188.3 339.4h.75M174.5 321.5h.75M151.6 322.5h.75M151.0 311.3h.75M163.8 316.0h.75M193.1 331.8h.75M142.3 342.3h.75M193.7 324.7h.75M155.9 329.5h.75M187.9 334.3h.75M148.5 325.9h.75M176.4 338.0h.75M171.4 313.2h.75M189.5 313.4h.75M197.0 346.7h.75M175.5 334.0h.75M183.1 307.7h.75M152.6 328.4h.75M144.6 342.3h.75M175.8 342.7h.75M141.5 346.0h.75M146.3 325.6h.75M171.5 311.2h.75M136.9 343.5h.75M138.3 346.9h.75M175.9 311.4h.75M148.3 287.6h.75M151.1 289.1h.75M152.6 298.5h.75M188.5 281.1h.75M152.9 301.0h.75M132.7 286.8h.75M181.3 293.9h.75M164.5 284.5h.75M185.3 299.5h.75M175.0 298.1h.75M196.2 284.5h.75M163.7 291.6h.75M164.2 292.1h.75M194.9 294.2h.75M142.6 280.8h.75M156.1 298.8h.75M196.4 296.7h.75M197.1 294.8h.75M185.0 288.4h.75M177.3 295.0h.75M186.3 293.9h.75M190.2 286.7h.75M173.2 289.8h.75M163.0 302.7h.75M166.0 287.3h.75" stroke="#000" stroke-width="0.75" stroke-opacity="0.62" fill="none"/>
</g>
<rect x="127.50" y="277.50" width="73.00" height="72.00" fill="none" stroke="#8e8e8e" stroke-width="1"/>
<path d="M169.50 277.50V349.50M127.50 305.50H200.50" stroke="#999" stroke-width="1" fill="none"/>
<text x="120.30" y="285.70" font-size="3.3" fill="#444">10<tspan font-size="2.4" dy="-1.3">5</tspan></text>
<path d="M126.10 284.20L127.50 284.20" stroke="#777" stroke-width="0.5" fill="none"/>
<text x="120.30" y="303.20" font-size="3.3" fill="#444">10<tspan font-size="2.4" dy="-1.3">4</tspan></text>
<path d="M126.10 301.70L127.50 301.70" stroke="#777" stroke-width="0.5" fill="none"/>
<text x="120.30" y="320.70" font-size="3.3" fill="#444">10<tspan font-size="2.4" dy="-1.3">3</tspan></text>
<path d="M126.10 319.20L127.50 319.20" stroke="#777" stroke-width="0.5" fill="none"/>
<text x="120.30" y="338.20" font-size="3.3" fill="#444">10<tspan font-size="2.4" dy="-1.3">2</tspan></text>
<path d="M126.10 336.70L127.50 336.70" stroke="#777" stroke-width="0.5" fill="none"/>
<text x="122.90" y="343.20" font-size="3" fill="#555">0</text>
<text x="134.50" y="357.10" font-size="3" fill="#555">0</text>
<path d="M136.00 349.50L136.00 350.90" stroke="#777" stroke-width="0.5" fill="none"/>
<text x="142.00" y="357.10" font-size="3" fill="#555">10<tspan font-size="2.2" dy="-1.2">2</tspan></text>
<path d="M143.50 349.50L143.50 350.90" stroke="#777" stroke-width="0.5" fill="none"/>
<text x="158.50" y="357.10" font-size="3" fill="#555">10<tspan font-size="2.2" dy="-1.2">3</tspan></text>
<path d="M160.00 349.50L160.00 350.90" stroke="#777" stroke-width="0.5" fill="none"/>
<text x="174.50" y="357.10" font-size="3" fill="#555">10<tspan font-size="2.2" dy="-1.2">4</tspan></text>
<path d="M176.00 349.50L176.00 350.90" stroke="#777" stroke-width="0.5" fill="none"/>
<text x="190.00" y="357.10" font-size="3" fill="#555">10<tspan font-size="2.2" dy="-1.2">5</tspan></text>
<path d="M191.50 349.50L191.50 350.90" stroke="#777" stroke-width="0.5" fill="none"/>
<text x="128.90" y="283.40" font-size="6.3" textLength="26.00" lengthAdjust="spacingAndGlyphs" fill="#222" stroke="#fff" stroke-width="1.6" stroke-opacity="0.55" paint-order="stroke" stroke-linejoin="round">56.2 &#177; 6.0</text>
<text x="199.30" y="283.40" font-size="6.3" text-anchor="end" textLength="21.80" lengthAdjust="spacingAndGlyphs" fill="#222" stroke="#fff" stroke-width="1.6" stroke-opacity="0.55" paint-order="stroke" stroke-linejoin="round">1.3 &#177; 0.2</text>
<text x="128.70" y="348.20" font-size="6.3" textLength="26.00" lengthAdjust="spacingAndGlyphs" fill="#222" stroke="#fff" stroke-width="1.6" stroke-opacity="0.55" paint-order="stroke" stroke-linejoin="round">34.1 &#177; 6.5</text>
<text x="199.30" y="348.20" font-size="6.3" text-anchor="end" textLength="22.50" lengthAdjust="spacingAndGlyphs" fill="#222" stroke="#fff" stroke-width="1.6" stroke-opacity="0.55" paint-order="stroke" stroke-linejoin="round">8.4 &#177; 1.5</text>
<text x="43.80" y="173.80" font-size="7.6" textLength="65.00" lengthAdjust="spacingAndGlyphs" fill="#222">BALB/c.WT &#8594; B6.WT</text>
<text x="124.30" y="173.80" font-size="7.6" textLength="83.00" lengthAdjust="spacingAndGlyphs" fill="#222">BALB/c.WT &#8594; B6.IFNAR1<tspan font-size="5.2" dy="-2.8" fill="#333">&#8722;/&#8722;</tspan></text>
<path d="M22.60 181.00V226.40" stroke="#000" stroke-width="1.1" fill="none"/>
<path d="M22.60 178.00l-2.7 5.2h5.4z" fill="#000"/>
<text x="26.00" y="250.20" font-size="7.2" textLength="21.50" lengthAdjust="spacingAndGlyphs" fill="#222" transform="rotate(-90 26.00 250.20)">IL-17A</text>
<path d="M22.60 283.00V334.00" stroke="#000" stroke-width="1.1" fill="none"/>
<path d="M22.60 280.00l-2.7 5.2h5.4z" fill="#000"/>
<text x="26.00" y="352.40" font-size="7.2" textLength="16.40" lengthAdjust="spacingAndGlyphs" fill="#222" transform="rotate(-90 26.00 352.40)">IFN-&#947;</text>
<text x="33.20" y="265.00" font-size="7.7" textLength="17.80" lengthAdjust="spacingAndGlyphs" fill="#222">CFSE</text>
<path d="M51.80 262.00H195.00" stroke="#000" stroke-width="1.1" fill="none"/>
<path d="M198.00 262.00l-5.2 -2.6v5.2z" fill="#000"/>
<text x="33.20" y="368.30" font-size="7.7" textLength="17.80" lengthAdjust="spacingAndGlyphs" fill="#222">CFSE</text>
<path d="M51.80 365.50H195.00" stroke="#000" stroke-width="1.1" fill="none"/>
<path d="M198.00 365.50l-5.2 -2.6v5.2z" fill="#000"/>
<path d="M310.80 166.55V258.30H448.68" stroke="#000" stroke-width="1.1" fill="none"/>
<path d="M308.00 258.30L310.80 258.30" stroke="#000" stroke-width="0.9" fill="none"/>
<text x="307.70" y="260.40" font-size="7.1" text-anchor="end" font-weight="bold" fill="#111">0</text>
<path d="M308.00 240.03L310.80 240.03" stroke="#000" stroke-width="0.9" fill="none"/>
<text x="307.70" y="242.13" font-size="7.1" text-anchor="end" font-weight="bold" fill="#111">20</text>
<path d="M308.00 221.76L310.80 221.76" stroke="#000" stroke-width="0.9" fill="none"/>
<text x="307.70" y="223.86" font-size="7.1" text-anchor="end" font-weight="bold" fill="#111">40</text>
<path d="M308.00 203.49L310.80 203.49" stroke="#000" stroke-width="0.9" fill="none"/>
<text x="307.70" y="205.59" font-size="7.1" text-anchor="end" font-weight="bold" fill="#111">60</text>
<path d="M308.00 185.22L310.80 185.22" stroke="#000" stroke-width="0.9" fill="none"/>
<text x="307.70" y="187.32" font-size="7.1" text-anchor="end" font-weight="bold" fill="#111">80</text>
<path d="M308.00 166.95L310.80 166.95" stroke="#000" stroke-width="0.9" fill="none"/>
<text x="307.70" y="169.05" font-size="7.1" text-anchor="end" font-weight="bold" fill="#111">100</text>
<path d="M310.80 258.30L310.80 261.10" stroke="#000" stroke-width="0.9" fill="none"/>
<text x="310.80" y="268.70" font-size="7.4" text-anchor="middle" font-weight="bold" fill="#111">0</text>
<path d="M345.17 258.30L345.17 261.10" stroke="#000" stroke-width="0.9" fill="none"/>
<text x="345.17" y="268.70" font-size="7.4" text-anchor="middle" font-weight="bold" fill="#111">10</text>
<path d="M379.54 258.30L379.54 261.10" stroke="#000" stroke-width="0.9" fill="none"/>
<text x="379.54" y="268.70" font-size="7.4" text-anchor="middle" font-weight="bold" fill="#111">20</text>
<path d="M413.91 258.30L413.91 261.10" stroke="#000" stroke-width="0.9" fill="none"/>
<text x="413.91" y="268.70" font-size="7.4" text-anchor="middle" font-weight="bold" fill="#111">30</text>
<path d="M448.28 258.30L448.28 261.10" stroke="#000" stroke-width="0.9" fill="none"/>
<text x="448.28" y="268.70" font-size="7.4" text-anchor="middle" font-weight="bold" fill="#111">40</text>
<text x="352.50" y="283.00" font-size="7.7" textLength="54.50" lengthAdjust="spacing" fill="#111" stroke="#111" stroke-width="0.12" font-weight="bold">Days post BMT</text>
<text x="291.80" y="240.60" font-size="7.7" textLength="57.00" lengthAdjust="spacing" fill="#111" stroke="#111" stroke-width="0.12" font-weight="bold" transform="rotate(-90 291.8 240.6)">Percent survival</text>
<path d="M310.80 166.95H362.36V172.61H448.28V172.61" stroke="#2a2a2a" stroke-width="0.7" fill="none"/>
<path d="M334.86 166.95H334.86V178.37H403.60V189.79H448.28V189.79" stroke="#2a2a2a" stroke-width="0.7" fill="none"/>
<path d="M334.86 166.95H334.86V172.61H341.73V178.37H352.04V184.03H355.48V189.79H382.98V195.45H386.41V212.62H400.16V218.29H413.91V229.71H417.35V235.46H431.10V241.13H448.28V241.13" stroke="#2a2a2a" stroke-width="0.7" fill="none"/>
<path d="M338.30 166.95H338.30V218.29H341.73V224.04H345.17V229.71H348.61V241.13H382.98V246.88H403.60V252.54H410.47V258.30" stroke="#2a2a2a" stroke-width="0.7" fill="none"/>
<path d="M362.36 169.91l2.40 2.70l-2.40 2.70l-2.40 -2.70z" fill="#000"/>
<path d="M365.79 169.91l2.40 2.70l-2.40 2.70l-2.40 -2.70z" fill="#000"/>
<path d="M448.28 169.91l2.40 2.70l-2.40 2.70l-2.40 -2.70z" fill="#000"/>
<rect x="332.76" y="176.27" width="4.20" height="4.20" fill="#000"/>
<rect x="401.50" y="187.69" width="4.20" height="4.20" fill="#000"/>
<rect x="446.18" y="187.69" width="4.20" height="4.20" fill="#000"/>
<path d="M338.30 170.01l2.35 4.30h-4.70z" fill="#000"/>
<path d="M341.73 175.77l2.35 4.30h-4.70z" fill="#000"/>
<path d="M352.04 181.43l2.35 4.30h-4.70z" fill="#000"/>
<path d="M355.48 187.19l2.35 4.30h-4.70z" fill="#000"/>
<path d="M382.98 192.85l2.35 4.30h-4.70z" fill="#000"/>
<path d="M386.41 210.03l2.35 4.30h-4.70z" fill="#000"/>
<path d="M400.16 215.69l2.35 4.30h-4.70z" fill="#000"/>
<path d="M413.91 227.11l2.35 4.30h-4.70z" fill="#000"/>
<path d="M417.35 232.86l2.35 4.30h-4.70z" fill="#000"/>
<path d="M431.10 238.53l2.35 4.30h-4.70z" fill="#000"/>
<path d="M448.28 238.53l2.35 4.30h-4.70z" fill="#000"/>
<circle cx="334.86" cy="172.61" r="2.10" fill="#000"/>
<circle cx="338.30" cy="218.29" r="2.10" fill="#000"/>
<circle cx="341.73" cy="224.04" r="2.10" fill="#000"/>
<circle cx="345.17" cy="229.71" r="2.10" fill="#000"/>
<circle cx="348.61" cy="241.13" r="2.10" fill="#000"/>
<circle cx="382.98" cy="246.88" r="2.10" fill="#000"/>
<circle cx="403.60" cy="252.54" r="2.10" fill="#000"/>
<circle cx="410.47" cy="258.30" r="2.10" fill="#000"/>
<text x="417.00" y="253.80" font-size="6.6" text-anchor="middle" fill="#444" stroke="#444" stroke-width="0.2" font-style="italic">#</text>
<text x="442.40" y="233.80" font-size="6.6" text-anchor="middle" fill="#444" stroke="#444" stroke-width="0.2" font-style="italic">#</text>
<path d="M335.40 301.10L343.20 301.10" stroke="#222" stroke-width="0.8" fill="none"/>
<path d="M339.30 298.94l1.92 2.16l-1.92 2.16l-1.92 -2.16z" fill="#000"/>
<text x="348.80" y="303.70" font-size="6.6" textLength="36.70" lengthAdjust="spacing" fill="#1e1e1e" stroke="#1e1e1e" stroke-width="0.12">BALB/c.IL-17A</text>
<text x="386.00" y="301.10" font-size="3.4" fill="#555">-/-</text>
<text x="395.50" y="303.10" font-size="7.8" fill="#1e1e1e" stroke="#1e1e1e" stroke-width="0.25" text-anchor="middle">&#8594;</text>
<text x="400.00" y="303.70" font-size="6.6" textLength="17.60" lengthAdjust="spacing" fill="#1e1e1e" stroke="#1e1e1e" stroke-width="0.12">B6.WT</text>
<path d="M335.40 313.20L343.20 313.20" stroke="#222" stroke-width="0.8" fill="none"/>
<rect x="337.62" y="311.52" width="3.36" height="3.36" fill="#000"/>
<text x="348.80" y="315.80" font-size="6.6" textLength="29.70" lengthAdjust="spacing" fill="#1e1e1e" stroke="#1e1e1e" stroke-width="0.12">BALB/c.WT</text>
<text x="383.90" y="315.20" font-size="7.8" fill="#1e1e1e" stroke="#1e1e1e" stroke-width="0.25" text-anchor="middle">&#8594;</text>
<text x="388.40" y="315.80" font-size="6.6" textLength="17.60" lengthAdjust="spacing" fill="#1e1e1e" stroke="#1e1e1e" stroke-width="0.12">B6.WT</text>
<path d="M335.40 323.60L343.20 323.60" stroke="#222" stroke-width="0.8" fill="none"/>
<path d="M339.30 321.52l1.88 3.44h-3.76z" fill="#000"/>
<text x="348.80" y="326.20" font-size="6.6" textLength="36.70" lengthAdjust="spacing" fill="#1e1e1e" stroke="#1e1e1e" stroke-width="0.12">BALB/c.IL-17A</text>
<text x="386.00" y="323.60" font-size="3.4" fill="#555">-/-</text>
<text x="395.50" y="325.60" font-size="7.8" fill="#1e1e1e" stroke="#1e1e1e" stroke-width="0.25" text-anchor="middle">&#8594;</text>
<text x="400.00" y="326.20" font-size="6.6" textLength="27.00" lengthAdjust="spacing" fill="#1e1e1e" stroke="#1e1e1e" stroke-width="0.12">B6.IFNAR1</text>
<text x="427.60" y="323.60" font-size="3.4" fill="#555">-/-</text>
<path d="M335.40 333.70L343.20 333.70" stroke="#222" stroke-width="0.8" fill="none"/>
<circle cx="339.30" cy="333.70" r="1.68" fill="#000"/>
<text x="348.80" y="337.50" font-size="6.6" textLength="29.70" lengthAdjust="spacing" fill="#1e1e1e" stroke="#1e1e1e" stroke-width="0.12">BALB/c.WT</text>
<text x="383.90" y="336.90" font-size="7.8" fill="#1e1e1e" stroke="#1e1e1e" stroke-width="0.25" text-anchor="middle">&#8594;</text>
<text x="388.40" y="337.50" font-size="6.6" textLength="28.00" lengthAdjust="spacing" fill="#1e1e1e" stroke="#1e1e1e" stroke-width="0.12">B6.IFNAR1</text>
<text x="417.00" y="334.90" font-size="3.4" fill="#555">-/-</text>
</svg>
</body></html>
